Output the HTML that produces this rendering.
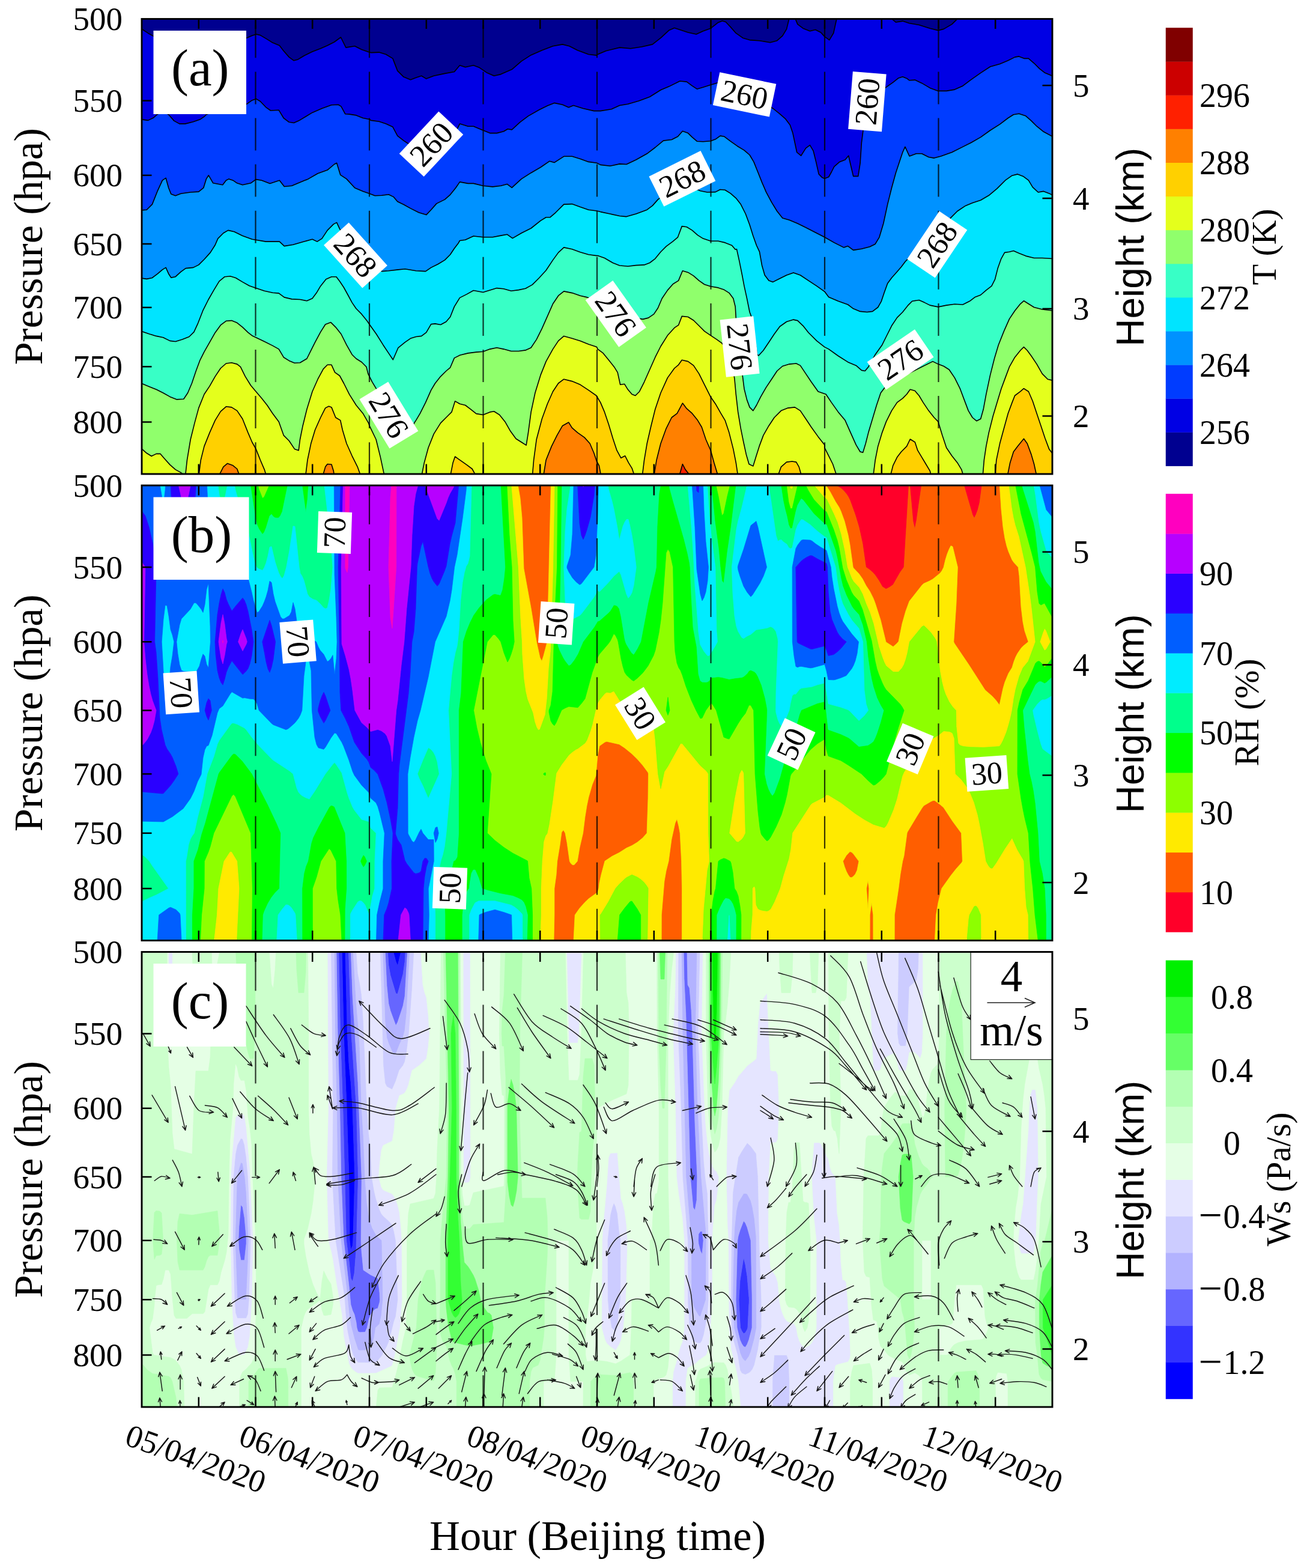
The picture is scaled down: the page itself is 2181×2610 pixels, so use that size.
<!DOCTYPE html>
<html lang="en"><head><meta charset="utf-8"><title>Figure</title>
<style>html,body{margin:0;padding:0;background:#fff}svg{display:block}.s{font-family:"Liberation Serif", serif}.n{font-family:"Liberation Sans", sans-serif}.tk{font-family:"Liberation Serif", serif;font-size:55px}.lb{font-family:"Liberation Serif", serif;font-size:70.5px}</style></head><body>
<svg width="2181" height="2610" viewBox="0 0 2181 2610">
<rect width="2181" height="2610" fill="#fff"/>
<defs>
<clipPath id="cp0"><rect x="236" y="31.5" width="1516" height="757.5"/></clipPath>
<clipPath id="cp1"><rect x="236" y="808" width="1516" height="757.5"/></clipPath>
<clipPath id="cp2"><rect x="236" y="1584.5" width="1516" height="757.5"/></clipPath>
</defs>
<g clip-path="url(#cp0)">
<rect x="236" y="31.5" width="1516" height="757.5" fill="#00e4ff"/>
<rect x="234" y="29.5" width="1520" height="761.5" fill="#000090"/>
<path d="M230 31.5L235.1 31.5L236.3 48.4L246.5 55.2L255.6 60.2L410.6 63.2L419.7 59.3L426.6 57L433.4 58.6L444.8 65.4L453.9 71.1L465.3 75.7L472.2 84.8L481.3 95.1L489.2 100.8L496.1 98.9L506.3 92.8L520 86L533.7 80.7L545.1 75.7L556.5 70L567.4 62L571.3 70L575.9 79.1L590.7 76.8L602.1 82.5L613.5 86.6L617.4 87.6L631.1 87.1L642.5 90.5L653.9 97.4L661.8 117.9L672.1 128.1L683.5 132.7L692.6 129.3L701.7 126.3L709.7 131.1L722.2 126.3L740.5 122.4L756.4 119.5L765.5 108.7L774.7 111.7L788.3 108.7L797.5 112.2L811.1 121.3L822.5 126.3L833.9 123.6L852.2 115.6L868.1 101.9L884.1 91.7L902.3 83.7L920.5 76.8L936.5 73.9L947.9 76.8L961.6 83.7L979.8 90.5L993.5 92.1L995.1 90.5L1008.8 84.8L1031.6 79.1L1049.8 80.7L1068.1 78L1086.3 73.9L1100 63.2L1113.6 50.6L1122.8 46.5L1131.9 49.5L1145.5 54L1159.2 57L1170.6 51.8L1183.2 47.2L1195.7 37.4L1202.5 34.7L1208.2 36.5L1216.2 44.9L1225.3 55.2L1236.7 63.2L1248.1 66.6L1264.1 67.7L1282.3 70.7L1293.7 67.7L1302.8 59.7L1309.6 48.4L1314.2 29.2L1323.3 29.2L1327.9 40.4L1337 47.2L1348.4 51.8L1357.5 49.5L1366.6 54L1372.8 60.9L1380.8 66.6L1387.7 55.2L1393.4 29.2L1482.2 29.2L1491.4 37L1502.8 35.1L1514.1 38.8L1530.1 41.5L1548.3 47.2L1562 50.6L1571.1 48.4L1584.8 40.4L1596.2 29.2L1753.5 29.2L1758 29.2L1758 797L230 797Z" fill="#0000e4" stroke="#000" stroke-width="1.6" stroke-linejoin="round"/>
<path d="M230 198.8L235.1 198.8L246.5 200.4L255.6 196L261.3 190.8L271.6 185.1L280.7 190.8L289.8 201.1L298.9 206.1L308.1 206.1L321.7 202.7L333.1 198.8L340 194.2L343.4 190.8L362.8 182.8L385.5 178.3L410.6 173.3L419.7 166.9L426.6 164.6L433.4 168.7L442.5 178.3L450.5 184L464.2 183.3L472.2 196.5L481.3 203.3L489.2 204.5L497.2 201.1L508.6 194.2L520 187.4L536 180.5L551.9 174.8L563.3 174.2L567.9 177.1L574.7 189.7L581.6 190.1L593 191.9L604.3 196.5L615.7 198.8L617.4 200.4L631.1 202.2L642.5 206.1L653.9 211.3L661.8 226.1L672.1 234.1L678.9 238.7L683.5 239.8L709.7 237.5L740.5 227.3L756.4 223.8L765.5 206.1L779.2 210.2L788.3 210.2L802 215.9L815.7 221.6L827.1 221.6L838.5 218.8L845.3 214.7L852.2 215.9L865.8 203.3L879.5 193.1L897.7 182.8L911.4 176L922.8 171.4L936.5 174.2L946.7 178.7L954.7 175.5L970.7 180.5L988.9 184.6L999.7 184.6L1017.9 181.7L1031.6 175.5L1045.3 173.3L1063.5 168L1081.7 161.2L1100 149.8L1113.6 144.1L1131.9 135L1143.3 136.1L1152.4 142.9L1160.4 148.2L1170.6 145.2L1183.2 141.3L1191.1 139.1L1202.5 135L1213.9 139.5L1236.7 153.2L1259.5 164.6L1286.9 180.5L1298.3 189.7L1307.4 197.6L1315.3 207.9L1319.9 221.6L1323.3 237.5L1326.7 253.5L1333.6 259.2L1341.6 246.6L1348.4 241.6L1354.1 251.2L1358.6 269.4L1363.2 289.9L1368.9 295.6L1372.8 297.2L1379.7 294.5L1384.2 286.5L1388.8 277.4L1397.9 269.4L1407 266L1412.7 259.2L1416.1 274L1420.7 293.4L1428.7 293.4L1432.1 271.7L1434.4 237.5L1436.7 219.3L1441.2 180.5L1457.2 157.8L1475.4 145.2L1486.8 137.2L1495.9 129.9L1502.8 127.7L1509.6 130.4L1514.1 133.8L1523.3 133.1L1534.7 138.4L1548.3 146.4L1562 151.4L1575.7 151.4L1589.4 149.1L1603 142.9L1616.7 132.7L1632.7 121.3L1648.6 111L1664.6 106.5L1678.3 100.8L1689.6 95.1L1696.5 93.9L1705.6 97.4L1712.4 97.4L1721.6 105.3L1730.7 114.4L1739.8 121.3L1753.5 127L1758 127L1758 797L230 797Z" fill="#003cff" stroke="#000" stroke-width="1.6" stroke-linejoin="round"/>
<path d="M230 349.9L235.1 349.9L244.2 349.2L253.4 340.1L262.5 317.3L270.4 300.2L276.1 296.3L280.7 312.7L284.8 323L292.1 325.7L301.2 322.3L317.2 320L330.8 319.1L338.8 312.7L343.4 297.9L347.3 291.8L354.8 304.8L370.7 307.7L376.4 300.2L381 297.9L387.8 300.2L394.7 304.8L403.8 307.7L417.5 304.8L426.1 298.6L435.7 300.2L449.4 305.4L465.3 300.2L473.3 310.5L485.8 309.3L499.5 303.6L513.2 297.9L529.1 288.8L545.1 283.1L556.5 273.5L560.6 271.3L566.7 291.1L577 297.9L590.7 312.7L604.3 318.4L615.1 322.3L624.2 325.7L635.6 325.3L647 323.7L655 327.6L661.8 335.5L672.1 340.5L683.5 346.9L697.2 353.8L709.7 357.6L717.7 349.2L726.8 338.9L740.5 332.1L749.6 324.1L758.7 312.7L765.5 302.9L779.2 305.4L788.3 305.4L804.3 309.3L820.2 310.9L833.9 309.3L844.2 306.4L852.2 312.3L868.1 297.9L884.1 287.7L900 278.5L914.8 268.3L922.8 270.6L938.8 260.3L952.4 260.3L966.1 264.4L979.8 269.4L993.5 271.3L999.7 274.4L1015.6 276.3L1031.6 272.9L1043 273.5L1058.9 266L1077.2 255.8L1090.8 245.5L1104.5 234.1L1118.2 232.5L1128.5 227.3L1136.4 218.2L1145.5 221.6L1152.4 228.4L1160.4 235.2L1170.6 235.7L1183.2 234.8L1191.1 231.8L1199.1 226.1L1205.9 227.3L1216.2 235.2L1227.6 243.2L1239 250.1L1248.1 258L1254.9 269.4L1261.8 286.5L1268.6 303.6L1275.5 319.6L1284.6 336.7L1293.7 351.5L1302.8 362.9L1314.2 366.3L1327.9 372L1341.6 378.8L1355.2 385.7L1372.8 394.8L1372.8 394.8L1388.8 403.9L1404.7 411.9L1411.6 409.6L1420.7 416.4L1434.4 414.2L1448.1 410.7L1457.2 406.2L1464 394.8L1470.8 372L1477.7 340.1L1484.5 312.7L1491.4 287.7L1498.2 267.2L1502.8 253.5L1506.9 244.4L1514.1 259.9L1525.5 255.8L1534.7 255.8L1546.1 261.5L1555.2 263.1L1566.6 259.9L1584.8 253.5L1603 244.4L1616.7 237.5L1632.7 228.4L1648.6 217L1664.6 206.8L1678.3 196.5L1687.4 190.8L1696.5 189.2L1707.9 193.1L1717 201.1L1726.1 210.2L1737.5 219.3L1753.5 228L1758 228L1758 797L230 797Z" fill="#0092ff" stroke="#000" stroke-width="1.6" stroke-linejoin="round"/>
<path d="M230 463L235.1 463L244.2 464.4L253.4 462.5L262.5 455.7L270.4 448.9L276.1 445.4L280.7 455.7L284.8 462.1L292.1 460.7L301.2 452.3L309.2 446.6L321.7 445.4L330.8 440.9L340 431.8L350.2 420.4L358.2 407.8L362.8 397.1L371.9 388L379.8 383.4L390.1 385.7L403.8 392.5L419.7 398.2L442.5 402.1L465.3 402.1L473.3 409.6L488.1 407.3L506.3 402.1L520 398.2L528 402.1L536 397.1L545.1 383.4L555.3 373.1L560.6 370.4L565.6 381.1L574.7 394.8L590.7 413L619.7 444.3L635.6 451.6L647 450.7L663 448.9L674.4 447.7L692.6 450.7L708.6 451.6L717.7 445.4L729.1 439.7L740.5 432.9L749.6 423.8L756.4 413.5L763.3 404.4L765.5 400.5L774.7 399.3L788.3 393L804.3 394.8L820.2 394.8L833.9 392.1L844.2 390.2L853.3 396.6L868.1 388L884.1 380L900 367.4L909.1 361.7L916 361.7L925.1 353.8L938.8 340.1L952.4 339.6L966.1 344.6L979.8 349.2L993.5 351L999.7 352.6L1015.6 356L1031.6 359.5L1043 360.6L1058.9 356L1077.2 349.2L1086.3 342.4L1095.4 332.1L1118.2 315L1136.4 305.9L1152.4 312.7L1162.6 316.2L1166.1 317.8L1177.5 320L1191.1 319.6L1199.1 315.5L1207.1 316.2L1216.2 321.9L1225.3 329.8L1233.3 340.1L1241.3 356L1248.1 374.3L1253.8 392.5L1259.5 408.5L1264.5 419.2L1268.6 442L1273.2 458L1280 467.1L1286.9 469.4L1296 464.8L1309.6 458L1321 453.9L1332.4 458L1346.1 467.1L1359.8 476.2L1372.8 485.3L1379.7 494.4L1395.6 501.3L1411.6 507L1420.7 513.8L1432.1 518.4L1443.5 519.5L1452.6 518.4L1461.7 511.5L1467.4 501.3L1472 487.6L1477.7 471.7L1484.5 462.5L1493.6 452.3L1500.5 444.3L1507.3 435.2L1511.9 430.6L1582.5 362.9L1593.9 351.5L1607.6 342.4L1619 337.8L1632.7 333.3L1646.3 325.3L1660 313.9L1673.7 300.2L1685.1 292.2L1694.2 289.9L1703.3 293.4L1712.4 300.2L1719.3 311.6L1728.4 320L1737.5 318.4L1746.6 321.9L1753.5 325.3L1758 325.3L1758 797L230 797Z" fill="#00e4ff" stroke="#000" stroke-width="1.6" stroke-linejoin="round"/>
<path d="M230 551.4L235.1 551.4L248.8 556L260.2 559.4L271.6 561.7L283 567.4L292.1 568.5L303.5 565.1L314.9 560.5L322.9 552.6L329.7 537.8L337.7 517.2L346.8 499L355.9 483.1L365 468.2L374.1 460.7L383.3 459.8L392.4 462.5L403.8 469.4L415.2 475.8L426.1 479.6L440.2 484.2L453.9 487.2L464.2 488.1L473.3 494.9L485.8 497.9L499.5 498.5L510.9 500.8L520 496.7L526.9 487.6L533.7 476.2L542.8 464.8L551.9 460.7L559.9 460.7L565.6 468.2L572.4 478.5L579.3 491L586.1 503.6L593 513.8L602.1 522.9L611.2 534.3L615.1 540L626.5 556L637.9 574.2L647 587.9L654.3 598.8L663 578.8L674.4 569.7L683.5 563.3L692.6 560.5L701.7 559.4L709.7 553.3L717.7 539.6L724.5 538.9L733.6 540.5L742.8 535.5L749.6 527.5L756.4 510.4L765.5 495.6L776.9 489.9L788.3 483.5L804.3 486.5L815.7 483.1L827.1 479.6L838.5 480.8L851 484.2L863.5 482.6L874.9 480.3L886.3 473.9L897.7 462.5L909.1 450L920.5 432.9L929.6 420.4L938.8 411.9L952.4 414.7L966.1 419.7L979.8 423.8L993.5 425.6L995.1 425.6L1006.5 429.5L1020.2 437.5L1031.6 442L1045.3 443.2L1058.9 441.6L1072.6 440.9L1081.7 437.5L1090.8 430.6L1100 419.2L1109.1 410.1L1118.2 403.3L1120.5 401.6L1128.5 394.8L1135.3 376.6L1143.3 377.7L1152.4 383.4L1161.5 391.4L1170.6 397.1L1183.2 401.2L1195.7 401.2L1207.1 403.9L1218.5 408.5L1224.2 415.3L1226.5 414.7L1231 435.2L1235.6 458L1239 476.2L1243.5 496.7L1248.1 519.5L1251.5 528.6L1256.1 560.5L1260.6 590.2L1262.9 592L1270.9 583.3L1280 569.7L1289.1 556L1298.3 543.5L1309.6 535.5L1321 532.1L1327.9 533.6L1337 542.3L1346.1 553.7L1359.8 567.4L1372.8 577.6L1379.7 581.1L1395.6 592.5L1411.6 602.7L1425.3 608.4L1434.4 616.4L1440.1 617.5L1445.8 610.7L1457.2 590.2L1468.6 574.2L1475.4 560.5L1484.5 542.3L1493.6 528.6L1502.8 519.5L1511.9 508.1L1518.7 501.3L1530.1 499.5L1539.2 503.6L1548.3 508.1L1562 510.9L1575.7 508.1L1589.4 506.3L1603 507L1614.4 501.3L1623.5 494.4L1632.7 491L1641.8 483.1L1650.9 476.2L1656.6 464.8L1661.2 446.6L1666.9 430.6L1672.6 420.4L1680.5 419.2L1687.4 417.4L1696.5 421.5L1707.9 426.1L1721.6 429.5L1735.2 429.5L1753.5 430.6L1758 430.6L1758 797L230 797Z" fill="#38ffc6" stroke="#000" stroke-width="1.6" stroke-linejoin="round"/>
<path d="M230 638L235.1 638L248.8 643.7L260.2 648.3L271.6 654L283 660.4L294.4 664.9L305.8 664.2L312.6 654L319.4 638L326.3 617.5L333.1 599.3L340 585.6L349.1 569.7L358.2 553.7L367.3 541.2L376.4 534.3L385.5 533.6L394.7 537.3L403.8 544.6L412.9 553.3L419.7 558.7L426.1 561.7L440.2 568.5L453.9 575.4L464.2 581.1L472.2 594.7L481.3 600.4L490.4 604.3L499.5 603.8L510.9 597L517.7 583.3L524.6 569.7L533.7 552.6L541.7 540L550.8 536.6L558.8 544.6L567.9 556L577 574.2L586.1 590.2L593 597L602.1 602.7L610 610.7L612.8 622.1L619.7 635.8L626.5 647.2L640.2 669.9L656.1 692.7L672.1 713.3L683.5 716.7L690.3 703L692.6 699.6L699.4 688.2L708.6 669.9L717.7 649.4L724.5 638L733.6 626.6L742.8 617.5L749.6 611.8L756.4 595.9L765.5 591.3L779.2 587.9L792.9 586.1L804.3 585.2L815.7 581.1L827.1 578.8L838.5 581.1L851 584.5L863.5 584.5L874.9 582.9L884.1 578.8L893.2 565.1L902.3 546.9L911.4 526.4L920.5 505.8L929.6 492.2L938.8 484.9L952.4 487.6L966.1 492.2L977.5 494.9L1008.8 503.6L1031.6 517.2L1054.4 528.6L1070.3 531.4L1079.4 529.1L1088.6 522.9L1095.4 512.7L1102.2 496.7L1111.4 483.1L1120.5 472.8L1129.6 467.1L1136.4 450.7L1145.5 453.4L1154.7 459.1L1163.8 467.1L1172.9 473.5L1183.2 476.7L1195.7 478.9L1204.8 481.9L1213.9 487.6L1220.8 496.7L1224.2 510.4L1225.3 528.6L1227.6 560.5L1232.2 594.7L1236.7 628.9L1239 647.2L1243.5 665.4L1248.1 677.9L1253.8 683.6L1259.5 674.5L1266.3 660.8L1275.5 644.9L1284.6 631.2L1293.7 617.5L1302.8 609.5L1314.2 606.1L1325.6 605L1332.4 608.4L1341.6 622.1L1350.7 635.8L1362.1 651.7L1375.1 656.3L1384.2 669.9L1395.6 685.9L1407 699.6L1416.1 720.1L1425.3 740.6L1432.1 752L1436.7 753.1L1441.2 738.3L1445.8 720.1L1452.6 697.3L1459.4 674.5L1466.3 654L1473.1 644.9L1493.6 631.2L1525.5 615.2L1552.9 601.6L1562 606.1L1571.1 609.5L1580.2 615.2L1589.4 628.9L1598.5 647.2L1605.3 665.4L1612.2 683.6L1619 695L1625.8 700.7L1632.7 697.3L1637.2 681.3L1641.8 656.3L1648.6 624.4L1655.5 597L1662.3 574.2L1671.4 551.4L1680.5 530.9L1689.6 517.2L1698.8 505.8L1704.5 500.8L1712.4 505.8L1721.6 511.5L1735.2 515L1753.5 517.2L1758 517.2L1758 797L230 797Z" fill="#90ff6c" stroke="#000" stroke-width="1.6" stroke-linejoin="round"/>
<path d="M230 746.3L235.1 746.3L244.2 754.3L252.2 759.3L260.2 755.4L267 755.4L273.9 763.4L283 773.6L292.1 781.6L301.2 786.6L308.5 793L311.5 765.7L317.2 731.5L324 704.1L330.8 679.1L340 656.3L349.1 642.6L358.2 626.6L367.3 613L376.4 605L385.5 603.8L394.7 606.1L400.4 610.7L408.3 626.6L417.5 641.5L426.1 651.7L435.7 663.1L444.8 674.5L453.9 688.2L464.2 701.9L472.2 724.6L481.3 733.8L490.4 747.4L497.2 749.7L499.5 731.5L504.1 708.7L510.9 681.3L520 651.7L529.1 631.2L538.3 614.1L545.1 607.3L551.9 607.3L557.6 619.8L565.6 625.5L572.4 638L581.6 656.3L593 674.5L604.3 688.2L613.5 704.1L615.1 708.7L626.1 731.5L633.4 761.1L640.2 793L701.7 793L706.3 770.2L713.1 745.2L722.2 722.4L733.6 704.1L745 692.7L751.9 685.9L757.6 667.7L765.5 672.2L774.7 674.5L783.8 681.3L792.9 688.6L804.3 690.5L815.7 685.9L822.5 684.8L831.6 690.5L840.8 701.9L849.9 717.8L859 730.3L868.1 736L876.1 741.1L879.5 720.1L884.1 685.9L890.9 654L900 624.4L909.1 601.6L920.5 581.1L929.6 567.4L938.8 559.4L952.4 563.3L966.1 567.4L979.8 573.1L993.5 577.6L995.1 581.1L1004.2 587.9L1013.4 599.3L1022.5 610.7L1028.2 619.8L1032.7 640.3L1039.6 639.2L1045.3 648.3L1052.1 656.3L1057.8 658.5L1064.6 651.7L1072.6 635.8L1081.7 615.2L1090.8 594.7L1100 576.5L1111.4 558.3L1122.8 545.7L1129.6 541.2L1135.3 526.4L1145.5 527.5L1154.7 533.2L1163.8 542.3L1172.9 551.4L1183.2 558.3L1193.4 565.1L1201.4 570.8L1211.6 583.3L1218.5 601.6L1223 631.2L1225.3 656.3L1228.7 685.9L1233.3 713.3L1237.9 736L1242.4 756.6L1247 772.5L1253.8 775.9L1258.4 761.1L1264.1 742.9L1270.9 724.6L1280 708.7L1289.1 695L1300.5 683.6L1311.9 679.1L1323.3 677.9L1332.4 683.6L1341.6 697.3L1350.7 711L1362.1 726.9L1372.8 740.6L1372.8 745.2L1379.7 758.8L1386.5 772.5L1393.4 793L1453.7 793L1457.2 765.7L1461.7 742.9L1468.6 720.1L1475.4 701.9L1484.5 683.6L1493.6 669.9L1502.8 663.1L1509.6 656.3L1515.3 648.3L1523.3 650.6L1530.1 658.5L1536.9 669.9L1546.1 683.6L1555.2 695L1562 701.9L1568.8 724.6L1575.7 745.2L1584.8 758.8L1593.9 770.2L1600.8 781.6L1604.2 793L1636.1 793L1638.4 765.7L1641.8 742.9L1646.3 720.1L1653.2 692.7L1660 669.9L1666.9 647.2L1673.7 628.9L1680.5 610.7L1689.6 594.7L1698.8 583.3L1704.5 577.6L1710.2 583.3L1717 592.5L1726.1 606.1L1735.2 622.1L1744.3 631.2L1753.5 633.5L1758 633.5L1758 797L230 797Z" fill="#e4ff1c" stroke="#000" stroke-width="1.6" stroke-linejoin="round"/>
<path d="M330.8 793L334.3 765.7L340 742.9L349.1 720.1L358.2 699.6L367.3 684.8L376.4 676.8L385.5 677.9L394.7 683.6L403.8 697.3L412.9 720.1L419.7 736L426.1 747.4L433.4 765.7L440.2 781.6L443.7 793Z" fill="#ffd000" stroke="#000" stroke-width="1.6" stroke-linejoin="round"/>
<path d="M508.6 793L512 765.7L517.7 738.3L524.6 715.5L533.7 695L541.7 679.1L547.4 676.3L551.9 677.9L558.8 695L566.7 699.6L570.2 715.5L577 738.3L586.1 758.8L595.2 777.1L600.9 793Z" fill="#ffd000" stroke="#000" stroke-width="1.6" stroke-linejoin="round"/>
<path d="M749.6 793L754.1 770.2L757.6 760L765.5 765.7L776.9 773.6L786.1 780.5L792.9 793Z" fill="#ffd000" stroke="#000" stroke-width="1.6" stroke-linejoin="round"/>
<path d="M886.3 793L888.6 765.7L893.2 731.5L902.3 697.3L911.4 672.2L920.5 651.7L929.6 638L938.8 631.2L952.4 634.6L966.1 640.3L979.8 649.4L992.8 658.5L999.7 669.9L1006.5 685.9L1013.4 706.4L1020.2 729.2L1027 749.7L1033.9 762.3L1040.7 758.8L1046.4 770.2L1052.1 779.3L1056.7 793Z" fill="#ffd000" stroke="#000" stroke-width="1.6" stroke-linejoin="round"/>
<path d="M1069.2 793L1072.6 765.7L1077.2 738.3L1084 708.7L1090.8 681.3L1100 654L1111.4 628.9L1122.8 613L1129.6 607.3L1135.3 599.3L1145.5 601.6L1154.7 608.4L1163.8 622.1L1172.9 640.3L1183.2 660.8L1191.1 672.2L1200.2 688.2L1207.1 699.6L1213.9 720.1L1220.8 747.4L1225.3 770.2L1228.7 793Z" fill="#ffd000" stroke="#000" stroke-width="1.6" stroke-linejoin="round"/>
<path d="M1294.8 793L1300.5 777.1L1309.6 769.1L1318.8 768L1325.6 769.1L1330.2 777.1L1334.7 793Z" fill="#ffd000" stroke="#000" stroke-width="1.6" stroke-linejoin="round"/>
<path d="M1482.2 793L1486.8 774.8L1493.6 761.1L1500.5 752L1509.6 742.9L1515.3 731L1523.3 736L1527.8 749.7L1534.7 761.1L1541.5 772.5L1548.3 783.9L1550.6 793Z" fill="#ffd000" stroke="#000" stroke-width="1.6" stroke-linejoin="round"/>
<path d="M1656.6 793L1658.9 765.7L1664.6 738.3L1671.4 713.3L1678.3 688.2L1685.1 669.9L1689.6 658.5L1698.8 651.7L1704.5 646.7L1712.4 651.7L1719.3 667.7L1726.1 688.2L1733 708.7L1739.8 729.2L1746.6 747.4L1753.5 756.6L1753.5 793Z" fill="#ffd000" stroke="#000" stroke-width="1.6" stroke-linejoin="round"/>
<path d="M363.9 793L371.9 777.1L378.7 771.4L387.8 774.8L394.7 780.5L399.2 793Z" fill="#ff8000" stroke="#000" stroke-width="1.6" stroke-linejoin="round"/>
<path d="M537.1 793L541.7 777.1L545.1 772.5L551.9 773L555.3 783.9L556.5 793Z" fill="#ff8000" stroke="#000" stroke-width="1.6" stroke-linejoin="round"/>
<path d="M904.6 793L909.1 765.7L918.3 742.9L927.4 724.6L936.5 708.7L946.7 703L952.4 712.1L961.6 720.1L973 728.1L982.1 738.3L988.9 754.3L993.5 768L997.4 774.8L1000.8 793Z" fill="#ff8000" stroke="#000" stroke-width="1.6" stroke-linejoin="round"/>
<path d="M1088.6 793L1093.1 765.7L1100 738.3L1109.1 713.3L1118.2 695L1127.3 688.2L1136.4 671.1L1143.3 680.2L1152.4 688.2L1161.5 699.6L1168.3 711L1175.2 731.5L1183.2 749.7L1188.8 770.2L1195.7 793Z" fill="#ff8000" stroke="#000" stroke-width="1.6" stroke-linejoin="round"/>
<path d="M1677.1 793L1681.7 770.2L1687.4 752L1694.2 742.9L1704.5 730.3L1710.2 738.3L1717 756.6L1721.6 772.5L1726.1 793Z" fill="#ff8000" stroke="#000" stroke-width="1.6" stroke-linejoin="round"/>
<path d="M1130.7 793L1136.4 772.5L1141 781.6L1150.1 793Z" fill="#ff2000" stroke="#000" stroke-width="1.6" stroke-linejoin="round"/>
</g>
<g clip-path="url(#cp1)">
<rect x="236" y="808" width="1516" height="757.5" fill="#00ff8c"/>
<path d="M1391.3 808L1513.2 808L1505 944.1L1499 952.3L1487 973.3L1484 975.7L1478 979.2L1475 980.6L1469 976.7L1463 966.3L1457 957.4L1451 950.9L1441.6 944.1L1436 904.9L1430 877.4L1424 857.6L1415 832.6L1412 826.6L1406 818.2L1400 812.7ZM1514.6 808L1534.4 808L1526 866L1523 880.5L1520 867.8ZM1604.8 808L1634.9 808L1631 836.8L1628 848.7L1625 856.6L1622 862.4L1619 856.7Z" fill="#ff0029" stroke="#ff0029" stroke-width="0.7" fill-rule="evenodd"/>
<path d="M862.3 808L917.3 808L911.1 1068.3L905 1091.4L902 1100.6L899 1094.6L893.2 1068.3L884 1011.9L872 946.3L869 862L866 829.2ZM1373.9 808L1391.3 808L1394 809.2L1400 812.7L1403 815.3L1409 821.9L1412 826.6L1415 832.6L1424 857.6L1430 877.4L1436 904.9L1441.6 944.1L1448 948.5L1454 953.9L1457 957.4L1463 966.3L1469 976.7L1475 980.6L1481 977.6L1487 973.3L1499 952.3L1505 944.1L1513.2 808L1514.6 808L1520 867.8L1523 880.5L1526 866L1534.4 808L1604.8 808L1619 856.7L1622 862.4L1625 856.6L1628 848.7L1631 836.8L1634.9 808L1664.4 808L1667 848.2L1670 877.5L1673 896L1676 908.7L1682 925.7L1685 931.9L1688 936.3L1695.2 944.1L1697 958.7L1700 1010L1703 1035.2L1706 1050.3L1712.1 1068.3L1703 1075.7L1700 1079L1694 1087.7L1691 1093.6L1688 1101.3L1685 1111.2L1679 1120.9L1673 1135.4L1670 1145.7L1664 1173.5L1658 1165.5L1652 1158.9L1640 1148.6L1613 1106.5L1589 1071.1L1587.8 1068.3L1592 1005L1594.4 944.1L1586 909.8L1583 908.6L1580 914.6L1577 922.1L1574 931.8L1571 944.4L1568 950.3L1565 954.2L1553 963.9L1547 967.3L1538 971.3L1535 974.1L1514 1000.7L1508 1017L1502 1038.1L1496 1067.8L1493 1071.3L1487 1076.5L1475 1068.7L1466 1031.8L1457 1003.7L1454 995.9L1448 983.9L1442 975L1436 963.5L1430 955L1421 945.6L1420.2 944.1L1415 906.9L1412 890.8L1406 867.4L1400 851L1397 844.4L1391 835.1L1379 813.6L1376 809.2ZM995 1256.7L998 1241.7L1007 1235.3L1010 1234.2L1031 1238.9L1034 1240.6L1043 1247.2L1052 1254.7L1067 1270.1L1079 1285.9L1079.5 1288.3L1079 1329.1L1077 1386.8L1070 1394.8L1061 1402.1L1052 1407.5L1043 1411.6L1031 1419.2L1019 1425.3L1007 1433.3L1001 1455.8L998 1469.3L996.9 1479L995 1485.2L980 1496L974 1501.7L965 1511.8L957.2 1522.9L955 1565.5L922 1565.5L922.9 1522.9L922.9 1479L926 1456.7L927.7 1433.6L932 1407.5L935 1385.5L938 1381.5L941 1386.7L944 1402.6L948.4 1433.6L950 1436.6L953 1439.6L956 1439.5L961.2 1433.6L965 1410.9L970.6 1386.8L974 1359.5L977 1341.1L980 1326.8L986 1305.9L992 1291.2ZM1124 1370.1L1127 1363.3L1130 1375.1L1132.2 1386.8L1134.6 1433.6L1135.5 1479L1135.4 1565.5L1101.2 1565.5L1101.3 1522.9L1104.6 1479L1106 1466.8L1109 1449.7L1113.1 1433.6L1118 1397.2ZM1510.1 1386.8L1511 1384.5L1526 1359.6L1535 1345L1538 1341.1L1550 1334.1L1553 1332.7L1556 1332.4L1565 1339L1571 1344.2L1586 1367.1L1600.5 1386.8L1602.4 1433.6L1601 1436.1L1592 1446.1L1583 1457.4L1567.7 1479L1562 1502.4L1558.5 1522.9L1556.4 1565.5L1489.2 1565.5L1489.2 1522.9L1495.9 1479L1499 1454.8L1502.7 1433.6L1505 1424.6ZM1403.4 1433.6L1409 1423.9L1415 1417.6L1418 1418.5L1421 1421.6L1429.9 1433.6L1427 1448.5L1424 1455.1L1421 1458.5L1418 1460.7L1415 1460.3L1412 1456L1409 1450.2ZM1442.5 1479L1445 1465.4L1446.9 1479L1445 1513.5ZM1448.2 1522.9L1451 1502.4L1453.8 1522.9L1453.9 1565.5L1448.1 1565.5Z" fill="#ff5e00" stroke="#ff5e00" stroke-width="0.7" fill-rule="evenodd"/>
<path d="M851 808L862.3 808L866 829.2L869 862L872 946.3L884 1011.9L893.2 1068.3L899 1094.6L902 1100.6L905 1091.4L911.1 1068.3L917.3 808L923.8 808L921.5 944.1L917 1084.6L914 1111.8L911 1162.7L908 1189.5L899 1214.3L896 1215.5L893 1210.2L890 1201.3L887 1186.6L878 1163.9L875 1151.1L872 1130L869 1089.1L868.5 1068.3L866 1028.6L862.4 944.1ZM1314.9 808L1320.7 808L1319 813.9L1316 813.3ZM1355.3 808L1373.9 808L1376 809.2L1382 818.4L1391 835.1L1397 844.4L1400 851L1406 867.4L1412 890.8L1415 906.9L1420.2 944.1L1421 945.6L1430 955L1436 963.5L1442 975L1448 983.9L1454 995.9L1457 1003.7L1466 1031.8L1475 1068.7L1487 1076.5L1493 1071.3L1496 1067.8L1502 1038.1L1508 1017L1514 1000.7L1535 974.1L1538 971.3L1547 967.3L1553 963.9L1565 954.2L1568 950.3L1571 944.4L1574 931.8L1577 922.1L1580 914.6L1583 908.6L1586 909.8L1594.4 944.1L1592 1005L1587.8 1068.3L1589 1071.1L1613 1106.5L1640 1148.6L1652 1158.9L1658 1165.5L1664 1173.5L1670 1145.7L1673 1135.4L1679 1120.9L1685 1111.2L1688 1101.3L1691 1093.6L1694 1087.7L1700 1079L1703 1075.7L1712.1 1068.3L1706 1050.3L1703 1035.2L1700 1010L1697 958.7L1695.2 944.1L1688 936.3L1685 931.9L1679 917.9L1676 908.7L1673 896L1670 877.5L1667 848.2L1664.4 808L1680.2 808L1685 845.6L1688 862.1L1691 874.5L1697 893.3L1708.1 944.1L1715 989.4L1718 1012.8L1724 1068.3L1712 1100.7L1703 1111.8L1697 1126.1L1691 1147.6L1688 1162.9L1685 1183L1679 1208.6L1673 1225.9L1667 1238.3L1664 1242.4L1640 1244.2L1610 1243.3L1601 1241.9L1598 1240.6L1595 1237.2L1592 1209.6L1591.5 1182.5L1586 1176.7L1580 1168.1L1574 1155.3L1571 1146.4L1568 1134.6L1565 1118.4L1562 1094.8L1559.4 1068.3L1556 1061.7L1550 1053.3L1544 1046.8L1538 1041.5L1535 1043.1L1514.4 1068.3L1511 1086.4L1508 1098L1505 1106.4L1502 1111.7L1499 1115.6L1496 1118.6L1487 1118.4L1475 1108.3L1472 1102.3L1469 1094.4L1463 1076.4L1454 1037.9L1448 1019.3L1442 1005.4L1436 989.1L1430 977.8L1421 968.2L1418 963.1L1410.5 944.1L1406 916.6L1400 889.2L1394 869.3L1388 855.4L1376 830.6L1373 828.9L1370 825.7ZM1731.1 1068.3L1736 1053.2L1739 1045.7L1742 1049.8L1749.2 1068.3L1742 1080.9L1739 1083ZM991.3 1182.5L995 1170.5L998 1165L1007 1154.2L1010 1152.3L1016 1153.2L1022 1150.2L1031 1164.8L1034 1168.7L1040 1173.4L1052 1177L1073 1179.9L1082 1181.9L1082.6 1182.5L1085 1187.3L1088 1205.9L1091 1231.2L1095.6 1288.3L1100 1312.8L1106 1284.6L1112 1275.5L1133 1237.5L1136 1237.8L1166 1274.2L1175 1282.2L1178 1285.7L1179.3 1288.3L1179.7 1386.8L1181.4 1433.6L1178 1448.7L1172 1513.3L1169.9 1565.5L1135.4 1565.5L1135.5 1479L1134.6 1433.6L1132.2 1386.8L1130 1375.1L1127 1363.3L1124 1370.1L1118 1397.2L1113.1 1433.6L1109 1449.7L1106 1466.8L1101.3 1522.9L1101.2 1565.5L1077.8 1565.5L1079.3 1479L1076 1473.3L1070 1466.4L1061 1460L1052 1456L1043 1460.8L1040 1463.3L1031 1471.8L1025 1478.6L1013 1501.2L1001 1520.8L999.1 1522.9L999.5 1565.5L955 1565.5L957.2 1522.9L965 1511.8L974 1501.7L980 1496L995 1485.2L996.9 1479L998 1469.3L1001 1455.8L1007 1433.3L1019 1425.3L1031 1419.2L1043 1411.6L1052 1407.5L1061 1402.1L1070 1394.8L1077 1386.8L1079 1329.1L1079.5 1288.3L1079 1285.9L1070 1273.8L1061 1263.5L1052 1254.7L1040 1244.9L1031 1238.9L1010 1234.2L1007 1235.3L998 1241.7L995 1256.7L992 1291.2L986 1305.9L980 1326.8L977 1341.1L974 1359.5L970.6 1386.8L965 1410.9L961.2 1433.6L956 1439.5L953 1439.6L950 1436.6L948.4 1433.6L944 1402.6L941 1386.7L938 1381.5L935 1385.5L932 1407.5L927.7 1433.6L926 1456.7L922.9 1479L922.9 1522.9L922 1565.5L898.9 1565.5L900.4 1522.9L900.4 1479L902.3 1433.6L905 1401L908 1391.5L911 1387.2L914 1373L920 1333.5L925.7 1288.3L926 1287L935 1272.6L947 1256.8L953 1251.5L959 1247.3L962 1245.9L974 1236.8L977 1232.1L983 1216.3L986 1206ZM1231 1288.3L1235 1280.8L1238 1285.6L1238.6 1288.3L1241.2 1386.8L1238 1393.3L1235 1397.3L1229 1402L1226 1401.1L1213.9 1386.8L1223 1328.6ZM1505 1285L1520 1262.8L1535 1241.1L1538 1237.8L1559 1225.8L1565 1221.7L1571 1216.7L1580 1217.6L1583 1218.5L1586 1220.5L1589 1229.1L1591 1288.3L1601 1297.9L1610 1309.9L1616 1321.1L1622 1335.8L1628 1356.5L1631 1370.5L1637 1403.1L1641.8 1433.6L1643 1436.3L1646 1441.3L1649 1444.8L1652 1445.3L1658 1436.9L1673 1412.4L1685 1394.7L1694 1414.6L1703 1429.8L1704.8 1433.6L1706.6 1479L1709 1509.9L1712.1 1522.9L1712.5 1565.5L1633.1 1565.5L1632.7 1522.9L1628 1511.7L1625 1508L1622 1508.8L1614.2 1522.9L1613 1530.1L1609.8 1565.5L1556.4 1565.5L1558.5 1522.9L1562 1502.4L1567.7 1479L1583 1457.4L1592 1446.1L1601 1436.1L1602.4 1433.6L1600.5 1386.8L1586 1367.1L1571 1344.2L1565 1339L1556 1332.4L1553 1332.7L1550 1334.1L1538 1341.1L1535 1345L1526 1359.6L1511 1384.5L1510.1 1386.8L1505 1424.6L1502.7 1433.6L1499 1454.8L1495.9 1479L1489.3 1522.9L1489.2 1565.5L1453.9 1565.5L1453.8 1522.9L1451 1502.4L1448.2 1522.9L1448.1 1565.5L1249.7 1565.5L1250 1549.5L1252.2 1522.9L1252.6 1479L1253 1477.8L1256 1475L1257.7 1479L1259 1506L1262 1512.4L1265 1514.3L1271 1515.8L1277 1516.4L1280 1515.3L1283 1512.7L1289 1501.3L1298.3 1479L1304 1457.9L1313 1429.7L1316 1413.9L1319 1386.4L1349 1340.1L1352 1336.9L1373 1326.2L1376 1322.9L1379 1323.2L1400 1335.9L1424 1354.2L1439 1364L1454 1372.2L1472 1377.7L1475 1375L1478 1369.4L1487 1348.3L1493 1329.9L1502 1291.8ZM1403.4 1433.6L1406 1442.4L1409 1450.2L1412 1456L1415 1460.3L1418 1460.7L1421 1458.5L1424 1455.1L1427 1448.5L1429.9 1433.6L1421 1421.6L1418 1418.5L1415 1417.6L1409 1423.9ZM1445 1465.4L1442.5 1479L1445 1513.5L1446.9 1479ZM372.3 1433.6L383 1417.2L386 1417.9L395.4 1433.6L398.8 1479L394.6 1565.5L355.9 1565.5L360.6 1522.9L363 1479Z" fill="#ffea00" stroke="#ffea00" stroke-width="0.7" fill-rule="evenodd"/>
<path d="M429.3 808L448.4 808L440 826.9L437 829.5L431 814.3ZM843.9 808L851 808L862.4 944.1L866 1028.6L868.5 1068.3L869 1089.1L872 1130L875 1151.1L878 1163.9L887 1186.6L890 1201.3L893 1210.2L896 1215.5L899 1214.3L908 1189.5L911 1162.7L914 1111.8L917 1084.6L917.8 1068.3L921.5 944.1L923.8 808L928.7 808L927.5 944.1L923 1039.3L920 1151.2L917 1173.9L914 1182.5L914 1185.6L917 1199.9L920 1205.1L923 1207.8L926 1202.8L935 1182L941 1178.6L947 1176.1L962 1177.7L968 1171L974 1163.1L986 1119.3L995 1094.2L998 1088.8L1013 1071.3L1016 1067L1022 1054.8L1025 1058.3L1028 1064.3L1029.2 1068.3L1034 1096.3L1037 1109.3L1040 1119.1L1043 1123.6L1052 1132L1055 1133.5L1064 1126.3L1070 1120.2L1076 1112.9L1082 1103L1088 1091.3L1091 1082.5L1097 1053.2L1100 1032.9L1103 1004L1109 920.3L1112 914.1L1115 918.6L1120.6 944.1L1123 1068.3L1124 1085.1L1127 1103.4L1130 1111.4L1133 1116L1136 1123.7L1142 1142.4L1151 1165.6L1158.9 1182.5L1166 1195.9L1169 1195.2L1175.1 1182.5L1184 1170.3L1187 1173.4L1192.5 1182.5L1205 1227.1L1211 1229.5L1214 1230.1L1229 1204.2L1235 1194.9L1241 1187.4L1247 1173.8L1250 1174.1L1254.7 1182.5L1257.1 1288.3L1262 1350.7L1265 1377.1L1266.9 1386.8L1268 1389.6L1271 1393.7L1277 1399.8L1280 1397.7L1286 1388.3L1295 1370L1301 1355.9L1307 1336.1L1310 1323.7L1316 1291.5L1317.4 1288.3L1325 1279.7L1334 1266.4L1352 1245.1L1361 1237.8L1373 1230.3L1376 1248.1L1379 1258.5L1400 1266.1L1409 1271.5L1434.4 1288.3L1445 1299L1454 1307L1457 1306.3L1466 1298.9L1475 1288.8L1490 1230.3L1496 1210L1505.1 1182.5L1502 1176.8L1499 1172.5L1475 1147.8L1472 1143.1L1469 1136.9L1463 1122.3L1460 1113.4L1457 1100.4L1451 1066.3L1436 1014.7L1430 1000.6L1421 990.8L1418 986.1L1409 965.1L1403 946L1397 911.8L1394 899.4L1388 881.6L1376 852L1373 850.4L1370 847.5L1355 831.5L1346 816.9L1341.4 808L1355.3 808L1370 825.7L1373 828.9L1376 830.6L1388 855.4L1394 869.3L1400 889.2L1406 916.6L1410.5 944.1L1418 963.1L1421 968.2L1430 977.8L1436 989.1L1442 1005.4L1448 1019.3L1454 1037.9L1463 1076.4L1469 1094.4L1472 1102.3L1475 1108.3L1487 1118.4L1496 1118.6L1502 1111.7L1505 1106.4L1508 1098L1511 1086.4L1514.4 1068.3L1535 1043.1L1538 1041.5L1541 1044L1550 1053.3L1556 1061.7L1559 1066.9L1565 1118.4L1568 1134.6L1571 1146.4L1574 1155.3L1580 1168.1L1586 1176.7L1591.5 1182.5L1592 1209.6L1595 1237.2L1598 1240.6L1604 1242.6L1616 1243.7L1637 1244.2L1664 1242.4L1667 1238.3L1670 1232.6L1676 1218L1682 1197.2L1685 1183L1688 1162.9L1691 1147.6L1697 1126.1L1703 1111.8L1712 1100.7L1724 1068.3L1718 1012.8L1715 989.4L1708.1 944.1L1697 893.3L1691 874.5L1688 862.1L1685 845.6L1680.2 808L1690.8 808L1700 855.2L1718 921.4L1723.6 944.1L1727 985.3L1730 1004.6L1733 1007.1L1739 1004L1752 1027.6L1752 1095.3L1742 1108.5L1739 1110.4L1733 1102.8L1730 1100.6L1727 1101.3L1724 1104.1L1712 1132.9L1703 1147.8L1697 1169.3L1694.2 1182.5L1694 1288.3L1700 1329.7L1703 1346.6L1706 1361.2L1712.2 1386.8L1715 1435.7L1719.7 1479L1723.1 1522.9L1728.3 1565.5L1712.5 1565.5L1712.1 1522.9L1709 1509.9L1706.6 1479L1704.8 1433.6L1703 1429.8L1694 1414.6L1685 1394.7L1673 1412.4L1658 1436.9L1652 1445.3L1649 1444.8L1646 1441.3L1641.8 1433.6L1637 1403.1L1631 1370.5L1628 1356.5L1622 1335.8L1616 1321.1L1610 1309.9L1601 1297.9L1591 1288.3L1589 1229.1L1586 1220.5L1583 1218.5L1580 1217.6L1571 1216.7L1565 1221.7L1559 1225.8L1538 1237.8L1535 1241.1L1505 1285L1502 1291.8L1493 1329.9L1487 1348.3L1478 1369.4L1475 1375L1472 1377.7L1454 1372.2L1439 1364L1424 1354.2L1400 1335.9L1379 1323.2L1376 1322.9L1373 1326.2L1352 1336.9L1349 1340.1L1319 1386.4L1316 1413.9L1313 1429.7L1304 1457.9L1298.3 1479L1289 1501.3L1283 1512.7L1280 1515.3L1277 1516.4L1271 1515.8L1265 1514.3L1262 1512.4L1259 1506L1257.7 1479L1256 1475L1253 1477.8L1252.6 1479L1252.2 1522.9L1250 1549.5L1249.7 1565.5L1233.8 1565.5L1233.9 1522.9L1232 1508.3L1229 1491.6L1226 1483.6L1223 1479L1220 1451.5L1217 1436.5L1215.7 1433.6L1208 1429.6L1205 1428.7L1199 1431.3L1196 1433.4L1191.5 1479L1190 1483.4L1187 1499.4L1184.2 1522.9L1184.2 1565.5L1169.9 1565.5L1172 1513.3L1178 1448.7L1181.4 1433.6L1179.7 1386.8L1179.3 1288.3L1178 1285.7L1175 1282.2L1166 1274.2L1136 1237.8L1133 1237.5L1112 1275.5L1106 1284.6L1100 1312.8L1095.6 1288.3L1091 1231.2L1088 1205.9L1085 1187.3L1082 1181.9L1070 1179.4L1055 1177.6L1040 1173.4L1034 1168.7L1031 1164.8L1022 1150.2L1016 1153.2L1010 1152.3L1007 1154.2L998 1165L995 1170.5L992 1179.9L986 1206L983 1216.3L977 1232.1L974 1236.8L962 1245.9L959 1247.3L953 1251.5L947 1256.8L935 1272.6L926 1287L920 1333.5L914 1373L911 1387.2L908 1391.5L905 1401L902.3 1433.6L900.4 1479L900.4 1522.9L898.9 1565.5L886.5 1565.5L886.6 1522.9L884.8 1479L881 1461.6L878.5 1433.6L878 1432.8L854 1420.3L839 1410.6L824 1398.9L811.3 1386.8L818 1288.3L809 1266L800 1236.9L794 1211.9L788.6 1182.5L811.3 1068.3L821 1056.6L824 1056.4L830 1063.2L833.7 1068.3L839 1086.6L845 1101.9L848 1096.5L851 1088.5L854 1078.8L856.2 1068.3L854 1033L852.1 944.1L848 890.4ZM905 1287.5L905 1289.3L908 1290.8L908.5 1288.3L908 1285.9ZM1112 1160.6L1109.1 1182.5L1112 1190.5L1114.9 1182.5ZM1231 1288.3L1223 1328.6L1213.9 1386.8L1226 1401.1L1229 1402L1235 1397.3L1238 1393.3L1241.2 1386.8L1238.6 1288.3L1238 1285.6L1235 1280.8ZM1731.1 1068.3L1739 1083L1742 1080.9L1749.2 1068.3L1742 1049.8L1739 1045.7L1736 1053.2ZM1192 808L1215.4 808L1211 825.7L1205 854.5L1202 858.4L1196 826.1ZM1309.4 808L1314.9 808L1316 813.3L1319 813.9L1320.7 808L1328 808L1319 846.6L1316 846.6L1313 835.8ZM356 1386.8L386 1324.8L389 1322.3L392 1325.9L417.5 1386.8L420.3 1479L419.5 1565.5L394.6 1565.5L398.8 1479L398 1467.3L395.4 1433.6L386 1417.9L383 1417.2L372.3 1433.6L363 1479L360.6 1522.9L355.9 1565.5L333.5 1565.5L335.6 1522.9L340.1 1479L340.3 1433.6L347 1417.9L350 1409.2ZM534.2 1433.6L548 1412.5L551 1415.5L559.8 1433.6L560.7 1479L563 1498.7L566.8 1522.9L569 1565.5L520.4 1565.5L520.3 1479L527 1459.8ZM1024.8 1479L1031 1471.8L1040 1463.3L1043 1460.8L1052 1456L1061 1460L1067 1463.9L1073 1469.5L1079 1478.1L1077.8 1565.5L1066.7 1565.5L1066.7 1522.9L1061 1513L1052 1500L1049 1500.7L1040 1511.6L1031.6 1522.9L1028.2 1565.5L999.5 1565.5L999.1 1522.9L1001 1520.8L1013 1501.2ZM1614.2 1522.9L1622 1508.8L1625 1508L1628 1511.7L1632.7 1522.9L1633.1 1565.5L1609.8 1565.5L1613 1530.1Z" fill="#8dff00" stroke="#8dff00" stroke-width="0.7" fill-rule="evenodd"/>
<path d="M416.8 808L429.3 808L431 814.3L437 829.5L440 826.9L448.4 808L479 808L470 851.6L467 858.2L464 862L461 862.2L458 861.9L455 859.9L452 856.1L449 858.8L443 878.5L440 885.8L437 889.5L431 880.5L428 873.9L425 860.6ZM502.9 808L513.6 808L512 831.4L509 852.7ZM833.3 808L843.9 808L848 890.4L852.1 944.1L854 1033L856.2 1068.3L854 1078.8L851 1088.5L848 1096.5L845 1101.9L839 1086.6L833.7 1068.3L830 1063.2L824 1056.4L821 1056.6L811.3 1068.3L788.6 1182.5L794 1211.9L800 1236.9L809 1266L818 1288.3L811.3 1386.8L824 1398.9L839 1410.6L854 1420.3L878 1432.8L878.5 1433.6L881 1461.6L884.8 1479L886.6 1522.9L886.5 1565.5L877.4 1565.5L878.4 1522.9L875 1509L872 1502.1L869 1498.6L866 1496.8L854 1491.4L833 1487.5L812 1482.2L802.2 1479L797 1461.7L794 1454.2L791 1448L788 1448L785 1453.5L782 1471.3L781.2 1479L779 1481.5L776 1486.5L773 1496.3L770 1522.9L770 1565.5L740.9 1565.5L740.9 1522.9L739.1 1479L746 1467.3L749 1459.4L755 1433.3L758 1431.7L761 1426.4L763.6 1386.8L763.5 1182.5L767 1154.3L770.5 1068.3L776 1050.8L782 1036.3L788 1024.3L794 1015.6L806 1001.1L812 995.6L821 989.2L824 988.5L833 990.4L836 982.1L839 962.8L840.8 944.1ZM928.7 808L935.7 808L933.9 944.1L932 1031.5L928.5 1068.3L929 1074.4L932 1082.7L938 1094.8L941 1099.7L947 1107.6L950 1106.3L956 1098.6L962 1088.6L970.7 1068.3L989 1044.1L995 1034.1L998 1033.2L1013 1019.9L1016 1016.7L1022 1006.9L1025 1007.4L1028 1009.1L1031 1013.2L1034 1026L1040 1062.9L1041.3 1068.3L1043 1072.6L1052 1086.9L1055 1089.3L1058 1084.7L1066.7 1068.3L1079 1003.5L1091 952.2L1092.5 944.1L1094 876.7L1097 822L1099.6 808L1114.4 808L1115 812.8L1121 834.9L1139 897.7L1145 921.9L1148 936.6L1149 944.1L1151 992.6L1154 1044.6L1160 1076.8L1163 1122.2L1166 1133L1169 1135.2L1175 1135.5L1178 1135L1181 1132.8L1184 1128.1L1193 1126.9L1196 1126.7L1202 1127.6L1214 1130.6L1223 1128.9L1235 1127.6L1238 1126.3L1241 1123.7L1244 1120.9L1247 1116.4L1250 1115.4L1256 1118.1L1259 1121L1262 1126.2L1268 1140.6L1274 1162.3L1277 1178L1277.5 1182.5L1277 1199.7L1273.4 1288.3L1277 1305.2L1280 1314L1283 1319.9L1286 1324.2L1289 1320L1298 1295.8L1310 1252.3L1316 1233.5L1325 1210.7L1331 1189L1334 1181.8L1361 1170.6L1373 1167.8L1375.5 1182.5L1379 1214.4L1400 1221.9L1412 1227.6L1415 1229.6L1430 1242.6L1445 1240.4L1448 1238.8L1454 1233.9L1457 1228.1L1463 1211.8L1471.1 1182.5L1466 1174L1460 1161.7L1454 1143.2L1451 1130.6L1448 1114.5L1445 1093.6L1442.5 1068.3L1436 1040.2L1430 1023.3L1421 1013.4L1418 1009.1L1409 990.9L1403 975.5L1400 962.6L1394 929.5L1391 916.6L1376 873.5L1373 871.9L1370 869.4L1355 855.4L1337 832.2L1334 830.2L1328 840.9L1325 851.6L1319 879.2L1316 879.9L1313 873.6L1304 833.8L1300.1 808L1309.4 808L1313 835.8L1316 846.6L1319 846.6L1328 808L1341.4 808L1346 816.9L1355 831.5L1370 847.5L1373 850.4L1376 852L1388 881.6L1394 899.4L1397 911.8L1403 946L1409 965.1L1418 986.1L1421 990.8L1430 1000.6L1436 1014.7L1451 1066.3L1457 1100.4L1460 1113.4L1463 1122.3L1469 1136.9L1472 1143.1L1475 1147.8L1499 1172.5L1502 1176.8L1505.1 1182.5L1496 1210L1490 1230.3L1475.2 1288.3L1472 1292.6L1466 1298.9L1460 1304.1L1457 1306.3L1454 1307L1445 1299L1434.4 1288.3L1412 1273.4L1400 1266.1L1379 1258.5L1376 1248.1L1373 1230.3L1361 1237.8L1349 1248.1L1334 1266.4L1325 1279.7L1317.4 1288.3L1316 1291.5L1310 1323.7L1307 1336.1L1301 1355.9L1292 1376.5L1283 1393.5L1280 1397.7L1277 1399.8L1274 1397L1268 1389.6L1266.9 1386.8L1265 1377.1L1262 1350.7L1257.1 1288.3L1254.7 1182.5L1250 1174.1L1247 1173.8L1241 1187.4L1235 1194.9L1229 1204.2L1214 1230.1L1211 1229.5L1205 1227.1L1192.5 1182.5L1187 1173.4L1184 1170.3L1175.1 1182.5L1169 1195.2L1166 1195.9L1158.9 1182.5L1151 1165.6L1142 1142.4L1136 1123.7L1133 1116L1130 1111.4L1127 1103.4L1124 1085.1L1123 1068.3L1120.6 944.1L1115 918.6L1112 914.1L1109 920.3L1103 1004L1100 1032.9L1097 1053.2L1091 1082.5L1088 1091.3L1079 1108.3L1070 1120.2L1061 1128.9L1055 1133.5L1052 1132L1046 1126.6L1043 1123.6L1040 1119.1L1037 1109.3L1034 1096.3L1029.2 1068.3L1028 1064.3L1025 1058.3L1022 1054.8L1016 1067L1013 1071.3L998 1088.8L995 1094.2L986 1119.3L974 1163.1L968 1171L962 1177.7L947 1176.1L941 1178.6L935 1182L926 1202.8L923 1207.8L920 1205.1L917 1199.9L914 1185.6L914 1182.5L917 1173.9L920 1151.2L923 1039.3L927.5 944.1ZM1184.3 808L1192 808L1196 826.1L1202 858.4L1205 854.5L1211 825.7L1215.4 808L1225.6 808L1217 878.2L1211 918.8L1205 970.7L1202 967.1L1199 942.7L1196 911L1190 866.7ZM1690.8 808L1701.5 808L1721 869.6L1724 884.9L1730 937.5L1733 950.9L1742 968.3L1752 980.5L1752 1027.6L1739 1004L1733 1007.1L1730 1004.6L1727 985.3L1723.6 944.1L1718 921.4L1700 855.2ZM1109.1 1182.5L1112 1160.6L1114.9 1182.5L1112 1190.5ZM1694.2 1182.5L1697 1169.3L1703 1147.8L1712 1132.9L1724 1104.1L1727 1101.3L1730 1100.6L1733 1102.8L1739 1110.4L1742 1108.5L1752 1095.3L1752 1126.7L1742 1136.2L1739 1137.7L1733 1134.5L1730 1134.7L1727 1136.8L1724 1140.1L1703.5 1182.5L1706 1212.5L1712 1267.6L1714.8 1288.3L1718 1301L1721 1316.3L1724 1337.2L1728.8 1386.8L1731.2 1433.6L1736 1453.2L1740.1 1479L1742.1 1522.9L1742.2 1565.5L1728.3 1565.5L1723.1 1522.9L1719.7 1479L1715 1435.7L1712.2 1386.8L1706 1361.2L1703 1346.6L1700 1329.7L1694 1288.3ZM363.3 1288.3L365 1285.3L386 1256.8L389 1254.3L392 1255.1L395 1257.8L407 1270.6L419.9 1288.3L446 1339.3L461 1370.9L467.6 1386.8L465.3 1479L458 1486.3L452 1494L446 1504L440 1517.3L438.2 1522.9L436.9 1565.5L419.5 1565.5L420.3 1479L417.5 1386.8L392 1325.9L389 1322.3L386 1324.8L356 1386.7L350 1409.2L347 1417.9L340.3 1433.6L340.1 1479L335.6 1522.9L333.5 1565.5L319.6 1565.5L319.6 1522.9L322.1 1479L322.1 1433.6L329 1414.2L335 1389L341 1370.6ZM905 1287.5L908 1285.9L908.5 1288.3L908 1290.8L905 1289.3ZM524.4 1386.8L548 1343.4L551 1340.6L554 1341.1L557 1342.9L574.8 1386.8L575 1389.2L577.4 1433.6L577.5 1479L575 1513.2L574.8 1565.5L569 1565.5L566.8 1522.9L563 1498.7L560.7 1479L559.8 1433.6L551 1415.5L548 1412.5L534.2 1433.6L527 1459.8L520.3 1479L520.4 1565.5L503 1565.5L502.8 1479L506 1453.7L509 1442.2L512.6 1433.6L518 1403.8L521 1394.3ZM599.9 1433.6L602 1428.3L605 1422.7L608 1426.3L611.2 1433.6L608 1440.3L605 1443.9L602 1438.8ZM1196 1433.6L1199 1431.3L1205 1428.7L1208 1429.6L1215.7 1433.6L1217 1436.5L1220 1451.5L1223 1479L1226 1483.6L1229 1491.6L1232 1508.3L1233.9 1522.9L1233.8 1565.5L1225.2 1565.5L1225.3 1522.9L1223 1513.5L1220 1504.8L1217 1499.7L1214 1496.5L1208 1495.3L1205 1498.8L1202 1504.4L1196 1516.9L1193.8 1522.9L1193.7 1565.5L1184.2 1565.5L1184.2 1522.9L1187 1499.4L1190 1483.4L1191.5 1479ZM1031.6 1522.9L1040 1511.6L1049 1500.7L1052 1500L1061 1513L1066.7 1522.9L1066.7 1565.5L1028.2 1565.5Z" fill="#00ff00" stroke="#00ff00" stroke-width="0.7" fill-rule="evenodd"/>
<path d="M362.8 808L378.7 808L374 830.5L371 842L368 835.7L365 823.2ZM390.4 808L416.8 808L425 860.6L428 873.9L431 880.5L437 889.5L440 885.8L443 878.5L449 858.8L452 856.1L455 859.9L458 861.9L461 862.2L464 862L467 858.2L470 851.6L479 808L502.9 808L509 852.7L512 831.4L513.6 808L540.1 808L551 903.2L554 941.2L554 946.8L551 979.9L548 999L545 1011.9L542 1013.3L539 1011.8L533 1005L527 999.4L521 997.4L515 993.6L512 988.9L506 966.2L503 959.1L500 954.4L498.1 944.1L491 876.3L488 875.7L482 916L476.8 944.1L473 958.1L470 963L467 959.4L464 953.4L460.8 944.1L458 935.2L452 909.7L449 910.7L446 925.7L443 937L440 944.7L437 949.5L428 945.2L425 940L422 927.8L410 869.2L407 859.7L401 845.7L398 837.2L392 816.1ZM776 942.7L779 938.1L782 925.6L785 808L833.3 808L840.8 944.1L839 962.8L836 982.1L833 990.4L824 988.5L821 989.2L809 998.2L797 1011.7L788 1024.3L782 1036.3L776 1050.8L770.5 1068.3L767 1154.3L763.5 1182.5L763.6 1386.8L761 1426.4L758 1431.7L755 1433.3L749 1459.4L746 1467.3L739.1 1479L740.9 1522.9L740.9 1565.5L724.6 1565.5L724.7 1522.9L722.4 1479L728 1459.8L734 1432.6L737 1423.2L740 1409.9L742.9 1386.8L751.7 1288.3L746.6 1182.5L752 1123.5L755 1102L758 1086.6L761 1075.2L762 1068.3L764 1049L767 998.1L770 969.7L773 953.7ZM933.9 944.1L935.7 808L950.1 808L944 847.5L941 883.9L938.8 944.1L941 999.9L944 1026.6L947 1033.5L950 1033.6L956 1029.1L965 1024.6L968 1021.7L989 994L995 982.4L998 985.1L1013 969.6L1022 958.9L1031 951.1L1034 957.1L1043 988.9L1046 995.4L1049 991.9L1052 986.5L1055 974.8L1059.2 944.1L1055 909.5L1052 890.8L1046 864.5L1043 864.6L1040 869.3L1037 876.2L1031 899.3L1028 879.1L1022 847.3L1019 834.6L1013 813.7L1012.3 808L1099.6 808L1097 822L1094 876.7L1092.5 944.1L1091 952.2L1079 1003.5L1066.7 1068.3L1061 1079.7L1055 1089.3L1052 1086.9L1049 1082.5L1043 1072.6L1041.3 1068.3L1040 1062.9L1034 1026L1031 1013.2L1028 1009.1L1025 1007.4L1022 1006.9L1016 1016.7L1013 1019.9L998 1033.2L995 1034.1L989 1044.1L970.7 1068.3L962 1088.6L956 1098.6L950 1106.3L947 1107.6L941 1099.7L938 1094.8L932 1082.7L929 1074.4L928.5 1068.3L932 1031.5ZM1114.4 808L1145.1 808L1151 874.2L1154 916.4L1157 974.6L1163 1052.4L1166 1073.3L1172 1084.1L1178 1091.5L1181 1091.1L1190 1076.6L1194.4 1068.3L1193 1051.5L1190.9 944.1L1184 890.3L1181 858.1L1177.5 808L1184.3 808L1190 866.7L1196 911L1199 942.7L1202 967.1L1205 970.7L1211 918.8L1217 878.2L1225.6 808L1243.7 808L1235 844.9L1229 866.8L1226 881.3L1218.4 944.1L1220 987.8L1223 1025.5L1226 1042.6L1229 1051.1L1235 1061.2L1238 1062.7L1244 1058.8L1250 1056L1259 1048.3L1277 1045.3L1283 1042.9L1286 1044.5L1289 1047L1292 1051.4L1295 1063.3L1295.4 1068.3L1292 1152.6L1291.7 1182.5L1292 1185.9L1295 1197.6L1298 1204.4L1301 1208.6L1304 1206.6L1313.9 1182.5L1316 1170.5L1319 1158L1322 1155.3L1325 1155.3L1331 1147.5L1334 1145.6L1352 1143L1361 1139.8L1373 1136.9L1376 1151.4L1379 1171.5L1400 1177.2L1412 1181.6L1415 1183.8L1430 1199.5L1439 1191.1L1445.5 1182.5L1442 1172.1L1439 1149.2L1436.6 1068.3L1436 1065.8L1430 1046.1L1418 1032.1L1412 1022.2L1403 1004.9L1400 995.4L1397 982.8L1394 966.2L1391 943.8L1376 894.9L1373 893.4L1361 884.3L1349 873.4L1337 865.3L1334 864.8L1328 874.1L1325 882.2L1319 911.9L1316 913.3L1313 911.4L1310 906L1304 901.8L1301 898.5L1298 898.9L1295 900.8L1292 891.4L1280 808L1300.1 808L1304 833.8L1307 847.8L1310 858.8L1313 873.6L1316 879.9L1319 879.2L1325 851.6L1328 840.9L1334 830.2L1337 832.2L1355 855.4L1370 869.4L1373 871.9L1376 873.5L1391 916.6L1394 929.5L1400 962.6L1403 975.5L1409 990.9L1418 1009.1L1421 1013.4L1430 1023.3L1436 1040.2L1442.5 1068.3L1445 1093.6L1448 1114.5L1451 1130.6L1454 1143.2L1460 1161.7L1466 1174L1471.1 1182.5L1466 1201.9L1460 1220.4L1457 1228.1L1454 1233.9L1451 1236.6L1445 1240.4L1430 1242.6L1415 1229.6L1412 1227.6L1400 1221.9L1379 1214.4L1375.5 1182.5L1373 1167.8L1361 1170.6L1334 1181.8L1331 1189L1325 1210.7L1316 1233.5L1310 1252.3L1298 1295.8L1289 1320L1286 1324.2L1283 1319.9L1280 1314L1277 1305.2L1273.4 1288.3L1277 1199.7L1277.5 1182.5L1277 1178L1274 1162.3L1268 1140.6L1262 1126.2L1259 1121L1256 1118.1L1250 1115.4L1247 1116.4L1244 1120.9L1241 1123.7L1238 1126.3L1235 1127.6L1223 1128.9L1214 1130.6L1202 1127.6L1196 1126.7L1193 1126.9L1184 1128.1L1181 1132.8L1178 1135L1175 1135.5L1169 1135.2L1166 1133L1163 1122.2L1160 1076.8L1154 1044.6L1151 992.6L1149 944.1L1148 936.6L1145 921.9L1139 897.7L1121 834.9L1115 812.8ZM1701.5 808L1721.3 808L1724 824.3L1730 870.2L1733 884.4L1742 916.6L1752 928.7L1752 980.5L1742 968.3L1733 950.9L1730 937.5L1724 884.9L1721 869.6ZM1703.5 1182.5L1724 1140.1L1727 1136.8L1730 1134.7L1733 1134.5L1739 1137.7L1742 1136.2L1752 1126.7L1752 1158L1742 1163.9L1739 1165L1736 1164.8L1733 1166.2L1727 1172.2L1719.7 1182.5L1721 1190.3L1727 1215.5L1733 1238.2L1736 1246.6L1752 1258.5L1752 1565.5L1742.2 1565.5L1742.1 1522.9L1740.1 1479L1736 1453.2L1731.2 1433.6L1728.8 1386.8L1724 1337.2L1721 1316.3L1718 1301L1714.8 1288.3L1712 1267.6L1706 1212.5ZM344.9 1288.3L356 1259.2L362 1238.4L365 1232.3L386 1203.8L389 1203.6L392 1204.3L407 1211.7L410 1214.7L419 1226.9L431 1241.2L452 1262.8L455 1265.5L482 1283.2L488 1288.2L494 1311.5L497 1318.5L500 1322L503 1324.5L512 1329L515 1330L518 1326.2L541.6 1288.3L554 1272.2L557 1269.3L560 1272.9L569.8 1288.3L578 1319.5L581 1328.5L587 1343.3L590 1348.4L602 1363.9L614 1367.5L617 1377.9L626.2 1386.8L624 1433.6L623.8 1479L620 1491.8L617 1508.5L614 1521.5L608 1506.8L605 1502.8L602 1500.1L599 1499.4L596 1501L587 1514.7L584 1520.3L583.4 1522.9L583.4 1565.5L574.8 1565.5L575 1513.2L577.5 1479L577.4 1433.6L574.8 1386.8L557 1342.9L554 1341.1L551 1340.6L548 1343.4L530 1376.3L521 1394.3L518 1403.8L512.6 1433.6L509 1442.2L506 1453.7L502.8 1479L503 1565.5L494.3 1565.5L491.9 1522.9L491 1520L485 1510.8L482 1507.7L479 1506.2L476 1506.1L470 1513.2L463.1 1522.9L460.8 1565.5L436.9 1565.5L438.2 1522.9L440 1517.3L446 1504L452 1494L458 1486.3L465.3 1479L467.6 1386.8L461 1370.9L446 1339.3L419.9 1288.3L404 1267.1L392 1255.1L389 1254.3L386 1256.8L383 1260.7L365 1285.3L363.3 1288.3L341 1370.6L335 1389L329 1414.2L322.1 1433.6L322.1 1479L319.6 1522.9L319.6 1565.5L309.5 1565.5L309.3 1433.6L311 1425.6L314 1405.8L317 1396.6L320 1391.2L323.3 1386.8L329 1360.6L338 1326.6ZM602 1428.3L599.9 1433.6L602 1438.8L605 1443.9L608 1440.3L611.2 1433.6L608 1426.3L605 1422.7ZM695 1288.3L704 1265.3L713 1244.5L716 1246.2L719 1248.9L722 1252.7L725 1258.6L728 1267.9L731.3 1288.3L713 1329.1ZM236 1421.9L242 1426.5L248.8 1433.6L254 1441.7L280.6 1479L260 1489.8L248 1494.9L236 1500.9ZM781.2 1479L782 1471.3L785 1453.5L788 1448L791 1448L797 1461.7L802.2 1479L812 1482.2L833 1487.5L854 1491.4L863 1495.2L869 1498.6L872 1502.1L875 1509L878.4 1522.9L877.4 1565.5L869.8 1565.5L869.8 1522.9L869 1521.2L860 1512.3L854 1508L851 1506.5L824 1499.7L797 1499.7L791 1502.8L785 1514.2L781.6 1522.9L781.6 1565.5L770 1565.5L770 1522.9L773 1496.3L776 1486.5L779 1481.5ZM1193.8 1522.9L1199 1510.4L1205 1498.8L1208 1495.3L1214 1496.5L1217 1499.7L1220 1504.8L1223 1513.5L1225.3 1522.9L1225.2 1565.5L1216.1 1565.5L1214 1523.6L1211.5 1565.5L1193.7 1565.5Z" fill="#00ff8c" stroke="#00ff8c" stroke-width="0.7" fill-rule="evenodd"/>
<path d="M266.3 808L275.5 808L275 816.2L272 841.4ZM344.5 808L362.8 808L365 823.2L368 835.7L371 842L374 830.5L378.7 808L390.4 808L392 816.1L398 837.2L401 845.7L407 859.7L410 869.2L422 927.8L425 940L428 945.2L431 947L437 949.5L440 944.7L443 937L446 925.7L449 910.7L452 909.7L458 935.2L460.8 944.1L464 953.4L467 959.4L470 963L473 958.1L476.8 944.1L482 916L488 875.7L491 876.3L498.1 944.1L500 954.4L503 959.1L506 966.2L512 988.9L515 993.6L521 997.4L527 999.4L533 1005L539 1011.8L542 1013.3L545 1011.9L548 999L551 979.9L554 944.1L551 903.2L540.1 808L556.3 808L557 956.3L560 1028.3L561.1 1068.3L560 1096.6L557 1122.7L554 1090.5L551 1096L548 1099.4L545 1101.3L539 1089.3L533 1082.5L530 1077L526.5 1068.3L512 1060.5L500 1049.6L497 1043.6L494 1033.8L491 1013.2L488 1002.9L485 1018.6L482 1024.4L473 1030L470 1030.1L467 1026.4L458 1001.3L455 988.6L452 969.6L449 967.3L446 982.9L443 993.6L440 1001.7L437 1008.6L431 1018L428 1019.8L422 999.6L419 985.7L410 950.2L407 943.4L401 940.3L395 936.1L389 930.3L386 925.7L383 923.4L374 926.1L371 929.8L367.3 944.1L362 955.4L359 947.8L358.2 944.1L353 902.7L350 886.8L347 858.1ZM756.6 944.1L761 923.4L767 883.7L773 840.7L776.6 808L785 808L782 925.6L779 938.1L776 942.7L773 953.7L770 969.7L767 998.1L764 1049L762 1068.3L761 1075.2L758 1086.6L755 1102L752 1123.5L746.6 1182.5L751.7 1288.3L742.9 1386.8L740 1409.9L737 1423.2L734 1432.6L728 1459.8L722.4 1479L724.7 1522.9L724.6 1565.5L713.2 1565.5L714.3 1522.9L713.2 1479L722.3 1433.6L722 1397.6L713 1397.5L704 1386.8L701 1380.2L698 1385.2L692 1397.8L689 1402.3L686 1400.1L680 1389.1L679.2 1386.8L678.9 1288.3L683 1260.7L689 1227.1L695 1199.8L700 1182.5L713 1127.1L724.5 1068.3L743 1026L746 1014.7L749 1000.5L752 982.4ZM695 1288.1L698 1295.9L704 1308L713 1329.1L731.3 1288.3L728 1267.9L725 1258.6L722 1252.7L719 1248.9L716 1246.2L713 1244.5L704 1265.3ZM725 1377.6L722.2 1386.8L725 1402.4L728 1396.4L730.2 1386.8L728 1376.4ZM938.8 944.1L941 883.9L944 847.5L950.1 808L955 808L953 889.2L950 923.9L944 942.4L944 945.5L950 957.4L953 961.7L959 968.4L965 973.3L968 971.6L989 943.6L992 925.3L995 860.6L996.4 808L1012.3 808L1013 813.7L1019 834.6L1022 847.3L1028 879.1L1031 899.3L1037 876.2L1040 869.3L1043 864.6L1046 864.5L1049 876.2L1052 890.8L1055 909.5L1059.2 944.1L1055 974.8L1052 986.5L1049 991.9L1046 995.4L1043 988.9L1034 957.1L1031 951.1L1022 958.9L1013 969.6L998 985.1L995 982.4L989 994L968 1021.7L965 1024.6L956 1029.1L950 1033.6L947 1033.5L944 1026.6L941 999.9ZM1145.1 808L1152.4 808L1157 877.4L1160 947.8L1166 989.1L1169 1000L1172 994.7L1175 985.6L1178 967.2L1179.5 944.1L1175 901.6L1172 848.7L1170.6 808L1177.5 808L1181 858.1L1184 890.3L1190.9 944.1L1193 1051.5L1194.4 1068.3L1190 1076.6L1181 1091.1L1178 1091.5L1172 1084.1L1166 1073.3L1163 1052.4L1157 974.6L1154 916.4L1151 874.2ZM1218.4 944.1L1226 881.3L1229 866.8L1235 844.9L1243.7 808L1280 808L1292 891.4L1295 900.8L1298 898.9L1301 898.5L1304 901.8L1310 906L1313 911.4L1316 913.3L1319 911.9L1325 882.2L1328 874.1L1334 864.8L1337 865.3L1349 873.4L1361 884.3L1373 893.4L1376 894.9L1391 943.8L1394 966.2L1397 982.8L1400 995.4L1403 1004.9L1412 1022.2L1418 1032.1L1430 1046.1L1436.6 1068.3L1439 1149.2L1442 1172.1L1445.5 1182.5L1439 1191.1L1430 1199.5L1415 1183.8L1412 1181.6L1400 1177.2L1379 1171.5L1376 1151.4L1373 1136.9L1361 1139.8L1352 1143L1334 1145.6L1331 1147.5L1325 1155.3L1322 1155.3L1319 1158L1316 1170.5L1313.9 1182.5L1304 1206.6L1301 1208.6L1298 1204.4L1295 1197.6L1292 1185.9L1291.7 1182.5L1292 1152.6L1295.4 1068.3L1295 1063.3L1292 1051.4L1289 1047L1286 1044.5L1283 1042.9L1277 1045.3L1259 1048.3L1250 1056L1244 1058.8L1238 1062.7L1235 1061.2L1229 1051.1L1226 1042.6L1223 1025.5L1220 987.8ZM1229 940.4L1228.3 944.1L1229 949.1L1235 968.2L1238 975.8L1244 986L1250 993.3L1253 990L1265 971L1271 959L1276.5 944.1L1262 878.1L1259 867.6L1250 874.8L1238 914.3ZM1319.1 944.1L1319.3 1068.3L1322 1091.7L1325 1109.4L1328 1110.7L1331 1109.5L1334 1109.3L1349 1111.9L1352 1111.7L1373 1106L1376 1116.7L1379 1131.4L1388 1131.8L1391 1131.2L1406 1125.9L1409 1124.5L1412 1121L1418 1113L1421 1107.5L1424 1099.8L1427 1087.7L1429.5 1068.3L1418 1055L1403 1034.3L1400 1028.1L1397 1019.9L1394 1009.2L1388 980.1L1385 960.8L1383.3 944.1L1376 916.3L1364 909.3L1352 900.5L1349 899.1L1337 898.4L1334 899.4L1328 907.3L1325 912.9ZM1721.3 808L1731.1 808L1742 848.6L1752 860.7L1752 928.7L1742 916.6L1733 884.4L1730 870.2L1724 824.3ZM269.2 1068.3L272 1031L275 1007.5L278 1008L281 1025.4L284 1047.9L287 1056.8L289.8 1068.3L287 1091.9L284 1109.5L281 1140.2L278 1156.4L275 1151.4L272 1116.2ZM293.9 1068.3L299 1040.2L302 1030.1L317 1014L323 1003.6L326 1003.6L329 1006.5L335 1014.1L338 1019.5L341 1006.2L344 980.8L347 970.9L350 1042.6L350.4 1068.3L347 1111.6L344 1106L341 1092.2L338 1088.7L335 1097.4L332 1108.7L326 1119.5L323 1122.2L317 1118.2L308 1117.8L305 1117.3L302 1115.8L299 1106.5L296 1088.4ZM365 1179.5L371 1175L383 1155.6L386 1151.7L404 1162.1L407 1161.5L416 1163.2L422 1163.5L425 1166.5L428 1171.6L431.2 1182.5L452 1204.1L455 1206.4L476 1214.6L479 1213.4L485 1208.8L494 1199.8L500 1190L502.8 1182.5L506 1125.1L509 1102.5L512 1095.2L515 1100.6L518 1116.6L519.4 1182.5L524 1227.3L527 1239.2L530 1244.7L539 1247.3L542 1243.5L551 1228.3L557 1220L560 1221L569 1235.6L572 1241.9L581 1265.6L587 1284L590 1290.6L602 1306.9L614 1319.3L617 1328.5L626 1336.2L629 1342.7L635 1364.2L640.2 1386.8L637.9 1433.6L637.9 1479L632 1502.3L627.6 1522.9L626.5 1565.5L583.4 1565.5L583.4 1522.9L584 1520.3L587 1514.7L596 1501L599 1499.4L602 1500.1L605 1502.8L608 1506.8L614 1521.5L617 1508.5L620 1491.8L623.8 1479L624 1433.6L626.2 1386.8L617 1377.9L614 1367.5L602 1363.9L590 1348.4L587 1343.3L581 1328.5L578 1319.5L569 1286.6L560 1272.9L557 1269.3L554 1272.2L541.6 1288.3L524 1316.9L515 1330L509 1327.8L503 1324.5L500 1322L497 1318.5L494 1311.5L488 1288.2L482 1283.2L455 1265.5L452 1262.8L431 1241.2L419 1226.9L410 1214.7L407 1211.7L395 1205.6L389 1203.6L386 1203.8L383 1207.4L365 1232.3L362 1238.4L356 1259.2L344.9 1288.3L338 1326.6L329 1360.6L323.3 1386.8L320 1391.2L317 1396.6L314 1405.8L311 1425.6L309.3 1433.6L309.5 1565.5L302.1 1565.5L300 1522.9L299 1520.3L293 1514.2L284 1510.2L281 1511.3L264.6 1522.9L262.1 1565.5L236 1565.5L236 1500.9L248 1494.9L260 1489.8L280.6 1479L254 1441.7L248.8 1433.6L242 1426.5L236 1421.9L236 1367.1L272 1367.9L287 1359.4L305 1345.9L317 1329.3L323 1317.3L329 1300.9L335 1289L338 1261.3L341 1247.9L344 1241.9L347 1240.7L353 1224.2L362 1186.4ZM1719.7 1182.5L1727 1172.2L1733 1166.2L1736 1164.8L1739 1165L1742 1163.9L1752 1158L1752 1258.5L1736 1246.6L1733 1238.2L1727 1215.5L1721 1190.3ZM463.1 1522.9L470 1513.2L476 1506.1L479 1506.2L482 1507.7L485 1510.8L491 1520L491.9 1522.9L494.3 1565.5L460.8 1565.5ZM781.6 1522.9L785 1514.2L791 1502.8L797 1499.7L824 1499.7L851 1506.5L857 1510L863 1514.9L869 1521.2L869.8 1522.9L869.8 1565.5L852.7 1565.5L851.6 1522.9L839 1518.6L824 1514.3L809 1518.2L800 1521.7L798 1522.9L796.7 1565.5L781.6 1565.5ZM1211.5 1565.5L1214 1523.6L1216.1 1565.5Z" fill="#00ecff" stroke="#00ecff" stroke-width="0.7" fill-rule="evenodd"/>
<path d="M236 808L266.3 808L272 841.4L275 816.2L275.5 808L284.2 808L287 857.1L290 877.3L293 887.9L296 895.5L299 900.3L302 903.5L308 908.3L314 899L317 892.6L320 879.1L323 856.8L326.5 808L344.5 808L347 858.1L350 886.8L353 902.7L358.2 944.1L359 947.8L362 955.4L367.3 944.1L371 929.8L374 926.1L383 923.4L386 925.7L389 930.3L395 936.1L401 940.3L407 943.4L410 950.2L419 985.7L422 999.6L428 1019.8L431 1018L437 1008.6L440 1001.7L443 993.6L446 982.9L449 967.3L452 969.6L455 988.6L458 1001.3L467 1026.4L470 1030.1L473 1030L482 1024.4L485 1018.6L488 1002.9L491 1013.2L494 1033.8L497 1043.6L500 1049.6L512 1060.5L526.5 1068.3L530 1077L533 1082.5L539 1089.3L545 1101.3L548 1099.4L551 1096L554 1090.5L557 1122.7L560 1096.6L561.1 1068.3L560 1028.3L557 956.3L556.3 808L567 808L563.2 944.1L565.3 1068.3L566 1152.7L567.8 1182.5L575 1196.3L581 1209.5L590 1235.5L602 1253.9L611 1263.9L614 1268.7L617 1277.3L623 1282.3L629 1288.8L635 1304.6L641 1324.1L650 1363L654.2 1386.8L652 1433.6L652.4 1479L647 1502.9L644 1512.4L639.7 1522.9L638 1565.5L626.5 1565.5L627.6 1522.9L632 1502.3L637.9 1479L637.9 1433.6L640.2 1386.8L632 1352.9L629 1342.7L626 1336.2L617 1328.5L614 1319.3L602 1306.9L590 1290.6L587 1284L581 1265.6L572 1241.9L569 1235.6L560 1221L557 1220L551 1228.3L542 1243.5L539 1247.3L530 1244.7L527 1239.2L524 1227.3L519.4 1182.5L518 1116.6L515 1100.6L512 1095.2L509 1102.5L506 1125.1L502.8 1182.5L500 1190L497 1195.6L491 1203.2L482 1211.3L479 1213.4L476 1214.6L455 1206.4L452 1204.1L431.2 1182.5L428 1171.6L425 1166.5L422 1163.5L416 1163.2L407 1161.5L404 1162.1L386 1151.7L383 1155.6L371 1175L365 1179.5L362 1186.4L353 1224.2L347 1240.7L344 1241.9L341 1247.9L338 1261.3L335 1289L329 1300.9L323 1317.3L317 1329.3L305 1345.9L287 1359.4L272 1367.9L236 1367.1L236 1317.9L269 1320.9L272 1320.8L284 1307.4L290 1299.1L296.9 1288.3L293 1275.6L287 1260.7L284 1255.2L278 1246.4L275 1240L269 1214.4L266 1194.6L263 1129.8L260 1085.9L257.6 1068.3L260 950.7L260.6 944.1L254 903.1L248 877.2L242 858.7L236 850.5ZM272 1031L269.2 1068.3L272 1116.2L275 1151.4L278 1156.4L281 1140.2L284 1109.5L287 1091.9L289.8 1068.3L287 1056.8L284 1047.9L281 1025.4L278 1008L275 1007.5ZM293.9 1068.3L296 1088.4L299 1106.5L302 1115.8L305 1117.3L308 1117.8L317 1118.2L323 1122.2L326 1119.5L332 1108.7L335 1097.4L338 1088.7L341 1092.2L344 1106L347 1111.6L350.4 1068.3L350 1042.6L347 970.9L344 980.8L341 1006.2L338 1019.5L335 1014.1L329 1006.5L326 1003.6L323 1003.6L317 1014L302 1030.1L299 1040.2ZM358 1068.3L359 1089.1L362 1116.1L365 1128.4L368 1136.1L371 1140.1L374 1130.9L377 1118.8L380 1111.3L386 1100.1L404 1122.8L410 1117L413 1112.8L416 1104.9L419 1091.9L422 1068.3L419 1047.8L413 1017.9L410 1006.8L407 999.3L404 995.3L392 1009.2L386 1017L380 1005L377 997.7L374 986.3L371 980L368 989.8L365 1004.1L362 1023.1ZM437 1067.7L440 1087.2L443 1101.5L446 1113.4L449 1119.3L452 1111L455 1097.4L458.6 1068.3L452 1041.2L449 1032.3ZM530 1178.3L529.5 1182.5L530 1185.1L533 1192.6L539 1203.6L542 1199.1L549.9 1182.5L542 1158.7L539 1152.2L536 1158.4L533 1166.7ZM344 1169.6L341.1 1182.5L344 1192.6L347 1198.7L352.3 1182.5L350 1166.3L347 1162.8ZM694.4 944.1L695 937.9L701 909.3L704 901.6L713 943.4L716 954.7L719 962.4L725 972.3L728 975.6L731 972.1L740 950.7L743 942.2L749 905.7L752 892.4L758 870.5L763.6 808L776.6 808L776 816.7L770 863.2L761 923.4L756.6 944.1L752 982.4L749 1000.5L743 1026L724.5 1068.3L713 1127.1L700 1182.5L695 1199.8L689 1227.1L683 1260.7L678.9 1288.3L679.2 1386.8L680 1389.1L686 1400.1L689 1402.3L692 1397.8L698 1385.2L701 1380.2L704 1386.8L713 1397.5L722 1397.6L722.3 1433.6L713.2 1479L714.3 1522.9L713.2 1565.5L704 1565.5L705 1479L707 1458.9L710 1442.8L713 1433.4L710 1428.8L707 1428.6L704 1433.6L701 1450.1L698 1452.7L695 1453.7L692 1454.3L689 1452.7L677 1437.3L674 1431.8L668 1406.4L662 1397.6L658.5 1386.8L662 1345.3L663.7 1288.3L665 1272.7L680 1154.9L683 1118.9L685.9 1068.3L689 1052L692 1013.4ZM944 942.4L950 923.9L953 889.2L955 808L961.7 808L965 871.7L968 891.2L971 897.9L974 891.1L977 882.2L983 861L989 825L990.3 808L996.4 808L995 860.6L992 925.3L988.9 944.1L968 971.6L965 973.3L959 968.4L953 961.7L947 952L944 945.5ZM1152.4 808L1159.5 808L1160 817.2L1163 819.9L1163.5 808L1170.6 808L1172 848.7L1175 901.6L1179.5 944.1L1178 967.2L1175 985.6L1172 994.7L1169 1000L1166 989.1L1160 947.8L1157 877.4ZM1228.3 944.1L1229 940.4L1238 914.3L1250 874.8L1259 867.6L1262 878.1L1276.5 944.1L1271 959L1265 971L1253 990L1250 993.3L1244 986L1238 975.8L1232 959.1L1229 949.1ZM1319.1 944.1L1325 912.9L1328 907.3L1334 899.4L1337 898.4L1349 899.1L1352 900.5L1358 905.3L1367 911.2L1376 916.3L1383.3 944.1L1385 960.8L1388 980.1L1394 1009.2L1397 1019.9L1400 1028.1L1403 1034.3L1418 1055L1429.5 1068.3L1427 1087.7L1424 1099.8L1421 1107.5L1418 1113L1409 1124.5L1400 1128.3L1391 1131.2L1388 1131.8L1379 1131.4L1376 1116.7L1373 1106L1352 1111.7L1349 1111.9L1334 1109.3L1331 1109.5L1328 1110.7L1325 1109.4L1322 1091.7L1319.3 1068.3ZM1325 943.6L1327.2 1068.3L1328 1069.8L1331 1071.5L1349 1080.1L1352 1080.5L1373 1075.2L1376 1082.1L1379 1091.4L1388 1089.6L1394 1085.1L1400 1079.4L1409.2 1068.3L1403 1063.8L1397 1057.1L1394 1052.2L1385 1031.1L1382 1017.8L1379 984.8L1377.5 944.1L1376 937.8L1361 930.3L1352 925L1349 924.8L1343 927.6L1337 931.4ZM1731.1 808L1752 808L1752 860.7L1742 848.6ZM722.2 1386.8L725 1377.6L728 1376.4L730.2 1386.8L728 1396.4L725 1402.4ZM264.6 1522.9L281 1511.3L284 1510.2L293 1514.2L299 1520.3L300 1522.9L302.1 1565.5L262.1 1565.5ZM798 1522.9L800 1521.7L809 1518.2L824 1514.3L839 1518.6L851.6 1522.9L852.7 1565.5L796.7 1565.5Z" fill="#005eff" stroke="#005eff" stroke-width="0.7" fill-rule="evenodd"/>
<path d="M236 935.6L236 850.5L242 858.7L248 877.2L254 903.1L260.6 944.1L260 950.7L257.6 1068.3L260 1085.9L263 1129.8L266 1194.6L269 1214.4L275 1240L278 1246.4L284 1255.2L287 1260.7L293 1275.6L296.9 1288.3L290 1299.1L284 1307.4L272 1320.8L269 1320.9L236 1317.9L236 1241.3L239 1238.6L245 1231L251 1219.4L254 1211.1L257 1199.8L260 1182.5L254 1166.4L251 1155.6L248 1141.6L245 1123L242 1097L239.7 1068.3L241.9 944.1ZM284.2 808L297.4 808L302 828.2L308 845.5L314 823.7L317.1 808L326.5 808L323 856.8L320 879.1L317 892.6L314 899L308 908.3L302 903.5L299 900.3L296 895.5L293 887.9L290 877.3L287 857.1ZM563.2 944.1L567 808L571.3 808L568.1 944.1L569 1071.7L575 1091.4L581 1113.9L584 1129.6L587 1149.9L590.9 1182.5L602 1202.8L611 1210.7L617 1217.6L629 1214.3L635 1216.6L641 1220.9L644 1225.1L650 1241.8L653 1267.6L659.7 1182.5L662 1167.1L668 1107.9L672.9 1068.3L677 1012.8L684 944.1L686 890.6L689 842.4L692 822L695.8 808L707.7 808L728 863.3L731 866.3L743 837.2L746 828.6L749 821.7L755 811.4L756.2 808L763.6 808L758 870.5L752 892.4L749 905.7L743 942.2L740 950.7L731 972.1L728 975.6L722 968L719 962.4L716 954.7L713 943.4L704 901.6L701 909.3L695 937.9L694.4 944.1L692 1013.4L689 1052L685.9 1068.3L683 1118.9L680 1154.9L665 1272.7L663.7 1288.3L662 1345.3L658.5 1386.8L659 1389.6L662 1397.6L668 1406.4L674 1431.8L677 1437.3L689 1452.7L692 1454.3L695 1453.7L698 1452.7L701 1450.1L704 1433.6L707 1428.6L710 1428.8L713.1 1433.6L710 1442.8L707 1458.9L705 1479L704 1565.5L683.4 1565.5L681 1522.9L680 1519.5L677 1513.3L674 1511L667.6 1522.9L663 1565.5L638 1565.5L639.7 1522.9L644 1512.4L647 1502.9L652.4 1479L652 1433.6L654.2 1386.8L650 1363L644 1335.7L638 1313.8L629 1288.8L623 1282.3L617 1277.3L614 1268.7L611 1263.9L602 1253.9L590 1235.5L581 1209.5L575 1196.3L567.8 1182.5L566 1152.7L565.3 1068.3ZM961.7 808L970.7 808L971 810.5L972.2 808L990.3 808L989 825L983 861L977 882.2L974 891.1L971 897.9L968 891.2L965 871.7ZM1159.5 808L1163.5 808L1163 819.9L1160 817.2ZM1324.9 944.1L1334 934L1337 931.4L1343 927.6L1349 924.8L1352 925L1361 930.3L1376 937.8L1377.5 944.1L1379 984.8L1382 1017.8L1385 1031.1L1394 1052.2L1397 1057.1L1403 1063.8L1409.2 1068.3L1400 1079.4L1394 1085.1L1388 1089.6L1379 1091.4L1376 1082.1L1373 1075.2L1352 1080.5L1349 1080.1L1331 1071.5L1328 1069.8L1327.2 1068.3ZM358 1068.3L362 1023.1L365 1004.1L368 989.8L371 980L374 986.3L377 997.7L380 1005L386 1017L392 1009.2L404 995.3L407 999.3L410 1006.8L413 1017.9L419 1047.8L422 1068.3L419 1091.9L416 1104.9L413 1112.8L410 1117L404 1122.8L386 1100.1L380 1111.3L377 1118.8L374 1130.9L371 1140.1L368 1136.1L365 1128.4L362 1116.1L359 1089.1ZM364 1068.3L365 1077.4L368 1095.3L371 1105.1L374 1091.1L377 1072.5L378.3 1068.3L377 1062.4L374 1038.4L371 1022.9L368 1037.1ZM396.6 1068.3L404 1083.6L410 1072.2L411.3 1068.3L410 1063.3L404 1047.9L401 1054.8ZM436.8 1068.3L449 1032.3L452 1041.2L458.6 1068.3L455 1097.4L452 1111L449 1119.3L446 1113.4L443 1101.5ZM341.1 1182.5L344 1169.6L347 1162.8L350 1166.3L352.3 1182.5L347 1198.7L344 1192.6ZM529.5 1182.5L530 1178.3L533 1166.7L536 1158.4L539 1152.2L542 1158.7L549.9 1182.5L542 1199.1L539 1203.6L533 1192.6L530 1185.1Z" fill="#2a00ff" stroke="#2a00ff" stroke-width="0.7" fill-rule="evenodd"/>
<path d="M236 935.6L241.9 944.1L239.7 1068.3L242 1097L245 1123L248 1141.6L251 1155.6L254 1166.4L260 1182.5L257 1199.8L254 1211.1L251 1219.4L245 1231L239 1238.6L236 1241.3ZM297.4 808L317.1 808L314 823.7L308 845.5L302 828.2ZM568.1 944.1L571.3 808L574.9 808L574.9 944.1L575 945.9L578 952.9L579.4 944.1L581.9 808L651.9 808L650 829.7L647 944.1L650 1027.7L653 1046L659.7 944.1L659.9 808L695.8 808L692 822L689 842.4L686 890.6L684 944.1L677 1012.8L672.9 1068.3L668 1107.9L662 1167.1L659.7 1182.5L653 1267.6L650 1241.8L644 1225.1L641 1220.9L635 1216.6L629 1214.3L617 1217.6L611 1210.7L602 1202.8L590.9 1182.5L587 1149.9L584 1129.6L581 1113.9L575 1091.4L569 1071.7ZM707.7 808L756.2 808L755 811.4L749 821.7L746 828.6L743 837.2L731 866.3L728 863.3ZM970.7 808L972.2 808L971 810.5ZM364 1068.3L368 1037.1L371 1022.9L374 1038.4L377 1062.4L378.3 1068.3L377 1072.5L374 1091.1L371 1105.1L368 1095.3ZM371 1065.9L370.6 1068.3L371 1070.2L371.4 1068.3ZM396.6 1068.3L401 1054.8L404 1047.9L410 1063.3L411.3 1068.3L410 1072.2L404 1083.6ZM667.6 1522.9L674 1511L677 1513.3L680 1519.5L681 1522.9L683.4 1565.5L663 1565.5Z" fill="#b700ff" stroke="#b700ff" stroke-width="0.7" fill-rule="evenodd"/>
<path d="M574.9 808L581.9 808L579.4 944.1L578 952.9L575 945.9L574.9 944.1ZM647 944.1L650 829.7L651.9 808L659.9 808L659.7 944.1L653 1046L650 1027.7ZM370.6 1068.3L371 1065.9L371.4 1068.3L371 1070.2Z" fill="#ff00bf" stroke="#ff00bf" stroke-width="0.7" fill-rule="evenodd"/>
</g>
<g clip-path="url(#cp2)">
<rect x="236" y="1584.5" width="1516" height="757.5" fill="#ccffcc"/>
<path d="M569.3 1584.5L575 1584.5L578.3 1720.6L581 1771.6L584 1801.1L587 1844.8L590 1935.7L590.7 1959L587.8 2064.8L587 2073.5L584 2080.4L582.1 2064.8L580.9 1959L577.2 1844.8L572.2 1720.6ZM654.8 1584.5L667.6 1584.5L662 1607.6L659 1600.3Z" fill="#0000ff" stroke="#0000ff" stroke-width="0.6" fill-rule="evenodd"/>
<path d="M563.9 1584.5L569.3 1584.5L572.2 1720.6L577.2 1844.8L580.9 1959L582.1 2064.8L584 2080.4L587 2073.5L587.8 2064.8L590.7 1959L587 1844.8L584 1801.1L581 1771.6L578.3 1720.6L575 1584.5L580.5 1584.5L584.9 1720.6L593.4 1844.8L596.4 1959L596 1976.6L593 2080.1L590 2119.3L587 2133.4L584 2127.6L581 2098.5L576.6 2064.8L570.9 1844.8L566.6 1720.6ZM645.5 1584.5L654.8 1584.5L659 1600.3L662 1607.6L667.6 1584.5L675 1584.5L674 1601.2L671 1621.5L662 1654.5L659 1653.7L650 1623.6L647 1606.7ZM1230.1 2163.3L1232 2131.9L1238 2093.1L1241 2105.2L1244 2124.5L1247.3 2163.3L1244.9 2210.1L1244 2213.1L1241 2218.2L1238 2220L1235 2215.5L1232.6 2210.1Z" fill="#3333ff" stroke="#3333ff" stroke-width="0.6" fill-rule="evenodd"/>
<path d="M560 1584.5L563.9 1584.5L566.6 1720.6L570.9 1844.8L576.6 2064.8L581 2098.5L584 2127.6L587 2133.4L590 2119.3L593 2080.1L596.4 1959L593.4 1844.8L584.9 1720.6L580.5 1584.5L584.3 1584.5L587 1658.5L596 1802.2L602.1 1959L601.1 2064.8L602 2083.4L605 2114.1L617 2122L629 2127.7L632 2152L632.5 2163.3L632 2167.7L629 2177.9L626 2178.6L623 2180.5L620 2183.8L617 2188.6L614 2196.5L611 2210.6L608 2217.3L605 2217.7L599 2217.7L596 2216.5L594.1 2210.1L593 2201.1L590 2188L587 2181.6L584 2171.6L581 2140.4L572.2 2064.8L567.9 1959L565.7 1844.8L562.2 1720.6ZM641.2 1584.5L645.5 1584.5L647 1606.7L650 1623.6L659 1653.7L662 1654.5L671 1621.5L674 1601.2L675 1584.5L678.4 1584.5L674 1658.2L671 1674.2L668 1684L662 1701.5L659 1707.1L650 1682.5L647 1670.7L644 1640.9ZM1138.1 1584.5L1143.9 1584.5L1145 1639.2L1148 1644.8L1151 1681.7L1152.8 1720.6L1157 1871L1160.8 1959L1160 1997.5L1157 2014.4L1154 2010L1149.3 1959L1142 1691.1L1139 1628.9ZM396.9 2064.8L398 2041.5L401 2005.6L404 2009.1L407 2026.7L410 2060.1L410 2070.6L407 2097.7L401 2097.7L398 2080.3ZM1162.5 2064.8L1163 2053.9L1166 2049.7L1169 2049.7L1171.1 2064.8L1169 2087.7L1166 2082.3L1163 2070.2ZM1227.9 2064.8L1229 2058L1232 2048.1L1238 2032.3L1241 2035.7L1244 2042.9L1250 2064.8L1252.2 2163.3L1252 2210.1L1247 2229.7L1244 2237.6L1241 2242.5L1238 2241.3L1235 2237L1232 2230.3L1227.1 2210.1L1225.1 2163.3ZM1232 2131.9L1230.1 2163.3L1232 2202.2L1232.6 2210.1L1235 2215.5L1238 2220L1241 2218.2L1244 2213.1L1244.9 2210.1L1247.3 2163.3L1244 2124.5L1241 2105.2L1238 2093.1Z" fill="#6666ff" stroke="#6666ff" stroke-width="0.6" fill-rule="evenodd"/>
<path d="M556.3 1584.5L560 1584.5L562.2 1720.6L565.7 1844.8L567.9 1959L572.2 2064.8L581 2140.4L584 2171.6L587 2181.6L590 2188L593 2201.1L594.1 2210.1L596 2216.5L599 2217.7L608 2217.3L611.2 2210.1L614 2196.5L617 2188.6L620 2183.8L623 2180.5L626 2178.6L629 2177.9L632 2167.7L632.5 2163.3L632 2152L629 2127.7L617 2122L605 2114.1L602 2083.4L601.1 2064.8L602.1 1959L596 1802.2L587 1658.5L584.3 1584.5L588.1 1584.5L593 1666.9L597.6 1720.6L599 1744.7L602.1 1844.8L605 1890.3L608 1963.6L611 2002.8L614 2023.2L617 2035.7L620 2044.2L626 2055L629 2058.6L635.8 2064.8L637.7 2163.3L635 2189.8L632 2203.7L625.5 2210.1L623 2226.1L620 2236.7L617 2241.7L614 2244.6L608 2247.8L599 2247.9L596 2246.9L590 2228.5L584 2205.8L581 2185.1L578 2154.5L567.3 2064.8L561.8 1959L560.6 1844.8L557.7 1720.6ZM637 1584.5L641.2 1584.5L644 1640.9L647 1670.7L650 1682.5L659 1707.1L662 1701.5L671 1674.2L674 1658.2L678.4 1584.5L682.3 1584.5L677 1685.7L674 1715.3L671 1726.3L665 1739L659 1754.4L656 1753.2L653 1750.9L647 1736.9L644 1727.8L643 1720.6L641 1700ZM1134.4 1584.5L1138.1 1584.5L1139 1628.9L1142 1691.1L1149.3 1959L1154 2010L1157 2014.4L1160 1997.5L1160.8 1959L1157 1871L1152.8 1720.6L1151 1681.7L1148 1644.8L1145 1639.2L1143.9 1584.5L1160.5 1584.5L1158.3 1720.6L1160 1787.5L1161.9 1844.8L1167.6 1959L1175 2044.7L1176 2064.8L1175.3 2163.3L1166 2192.1L1163 2190L1157 2179.4L1154 2172.7L1150.9 2163.3L1150.7 2064.8L1142 1959L1136.2 1720.6ZM1163 2053.9L1162.5 2064.8L1163 2070.2L1166 2082.3L1169 2087.7L1171.1 2064.8L1169 2049.7L1166 2049.7ZM394.5 1959L398 1943.9L401 1934.8L404 1936.6L407.8 1959L410 1983.9L414 2064.8L413 2100.6L410 2163.3L395 2163.3L391.4 2064.8ZM398 2041.5L396.9 2064.8L398 2080.3L401 2097.7L407 2097.7L410 2070.6L410 2060.1L407 2026.7L404 2009.1L401 2005.6ZM1221.7 2064.8L1223 2042.8L1226 2015L1229 2001.5L1238 1986.6L1241 1986.4L1244 1987.2L1250 1998.5L1253 2010.3L1256 2028L1259.3 2064.8L1259.5 2163.3L1259.5 2210.1L1259 2213.2L1256 2228.3L1250 2250.2L1247 2257.5L1241 2265.9L1238 2263.5L1235 2259.2L1232 2251.8L1221.7 2210.1L1219.7 2163.3ZM1229 2058L1227.9 2064.8L1225.1 2163.3L1227.1 2210.1L1232 2230.3L1235 2237L1238 2241.3L1241 2242.5L1244 2237.6L1247 2229.7L1252 2210.1L1252.2 2163.3L1250 2064.8L1244 2042.9L1241 2035.7L1238 2032.3L1232 2048.1Z" fill="#b3b3ff" stroke="#b3b3ff" stroke-width="0.6" fill-rule="evenodd"/>
<path d="M550.8 1584.5L556.3 1584.5L557.7 1720.6L560.6 1844.8L561.8 1959L567.3 2064.8L578 2154.5L581 2185.1L584 2205.8L590 2228.5L596 2246.9L599 2247.9L608 2247.8L611 2246.5L617 2241.7L620 2236.7L623 2226.1L625.5 2210.1L632 2203.7L635 2189.8L637.7 2163.3L635.8 2064.8L629 2058.6L626 2055L620 2044.2L617 2035.7L614 2023.2L611 2002.8L608 1963.6L605 1890.3L602.1 1844.8L599 1744.7L597.6 1720.6L593 1666.9L588.1 1584.5L593.5 1584.5L596 1620.8L599 1635.8L602 1655.5L605 1699.8L611.2 1844.8L614 1885.8L617 1912.1L619.2 1959L620 1964.9L623 1982L626 1995L632 2013.3L635 2020.1L638 2023.9L647 2032.1L653 2038.6L656 2049.3L659 2064.8L662.6 2163.3L659 2191.5L656 2200.1L650 2225L647 2234.7L644 2241.7L638 2252.3L636.9 2255.5L629 2264.9L626 2267.7L623 2268.6L596 2268.2L590 2259.8L587 2252.9L581 2229.6L577.4 2210.1L573.6 2163.3L572 2151.1L558.4 2064.8L552.7 1959L554.1 1844.8ZM632.7 1584.5L637 1584.5L641 1700L644 1727.8L647 1736.9L653 1750.9L656 1753.2L659 1754.4L665 1739L671 1726.3L674 1715.3L677 1685.7L682.3 1584.5L689.4 1584.5L686 1648.3L680.9 1720.6L677 1752.2L674 1767.4L671 1773.7L665 1781.3L659 1799.7L653 1813.6L644 1809L641 1803L638 1774.1ZM1129.1 1584.5L1134.4 1584.5L1136.2 1720.6L1142 1959L1150.7 2064.8L1150.9 2163.3L1154 2172.7L1157 2179.4L1163 2190L1166 2192.1L1175.3 2163.3L1176 2064.8L1175 2044.7L1167.6 1959L1161.9 1844.8L1158.3 1720.6L1160.5 1584.5L1165.7 1584.5L1162.6 1720.6L1167.6 1844.8L1172 1933.1L1174.3 1959L1178 1986.3L1179.9 2064.8L1179.9 2163.3L1178 2189.8L1172 2221.3L1169 2231.2L1166 2235.8L1163 2236.1L1154 2233L1151 2226.9L1147.7 2210.1L1145 2169.4L1144.8 2064.8L1136.3 1959L1133 1831L1128.7 1720.6ZM1495.7 1584.5L1530 1584.5L1529 1613L1526 1632L1514 1642.7L1511 1720.6L1508 1741.3L1499 1741.3L1496 1736.4L1493.9 1720.6ZM388.4 1959L392 1920.6L395 1906.1L401 1894.8L404 1895.8L407 1905.2L410 1925.4L413.1 1959L417.8 2064.8L415 2163.3L413 2187.2L410 2194.5L395 2194.5L392 2185.5L390.3 2163.3L387.4 2064.8ZM395 1955.1L394.5 1959L391.4 2064.8L395 2163.3L410 2163.3L413 2100.6L414 2064.8L410 1983.9L407.8 1959L404 1936.6L401 1934.8ZM1229 1926.6L1235 1916L1244 1902.3L1250 1907.8L1259 1920.1L1262 1957.6L1265 2086.2L1267.8 2163.3L1267.9 2210.1L1262 2246.7L1256 2272.2L1253 2278.9L1250 2282.9L1247 2285.4L1241 2288.2L1235 2286L1232 2280.7L1227.8 2255.5L1220 2228L1217.6 2210.1L1216.7 2163.3L1217.6 2064.8L1220 1984.2ZM1223 2042.8L1221.7 2064.8L1219.7 2163.3L1221.7 2210.1L1232 2251.8L1235 2259.2L1238 2263.5L1241 2265.9L1247 2257.5L1250 2250.2L1256 2228.3L1259.5 2210.1L1259 2057.5L1256 2028L1253 2010.3L1250 1998.5L1244 1987.2L1241 1986.4L1238 1986.6L1229 2001.5L1226 2015ZM1011.3 2064.8L1016 2022.3L1019 2010.2L1022 2002L1025 2008.4L1028 2019.6L1031 2049.3L1033.6 2064.8L1033.3 2163.3L1031 2177.8L1028 2210.1L1025 2217.5L1018 2210.1L1013 2179.4L1011.6 2163.3ZM1289 2255.5L1310 2255.5L1313 2264.2L1314.4 2299.4L1314.4 2342L1285.9 2342L1286 2293.5Z" fill="#ccccff" stroke="#ccccff" stroke-width="0.6" fill-rule="evenodd"/>
<path d="M280.4 1584.5L287.3 1584.5L287 1675.2L281 1625.6ZM545.1 1584.5L550.8 1584.5L554.1 1844.8L552.7 1959L558.4 2064.8L572 2151.1L573.6 2163.3L575 2184.1L578 2213.6L584 2242.9L587.8 2255.5L593 2264.5L596 2268.2L623 2268.6L626 2267.7L629 2264.9L636.9 2255.5L638 2252.3L644 2241.7L647 2234.7L650 2225L656 2200.1L659 2191.5L662.6 2163.3L659 2064.8L656 2049.3L653 2038.6L647 2032.1L638 2023.9L635 2020.1L632 2013.3L626 1995L623 1982L619.2 1959L617 1912.1L614 1885.8L611.2 1844.8L605 1699.8L602 1655.5L599 1635.8L596 1620.8L593.5 1584.5L632.7 1584.5L638 1774.1L641 1803L644 1809L653 1813.6L659 1799.7L665 1781.3L671 1773.7L674 1767.4L677 1752.2L680.9 1720.6L686 1648.3L689.4 1584.5L700.8 1584.5L704 1639L707 1652.2L710 1660.2L713 1688.5L715.1 1720.6L713 1742.9L710 1762.3L698 1773.4L686 1781.9L680 1806.4L677 1813.9L674 1819L671 1821.1L665 1823.6L659 1844.8L656 1881.9L653 1899.4L638 1906.6L635 1914.7L632 1940L630.6 1959L635 1976.1L638 1980.8L653 1987.2L656 1991.3L659 1997.1L662 2005.2L665 2017.5L668 2047L669 2064.8L669.7 2163.3L666.2 2210.1L657.6 2255.5L653 2273.2L629 2284.6L623 2286.2L596 2286L590 2282.4L587 2279.7L584 2276.1L581 2269.9L572 2224L569 2188.3L560 2136.3L554 2096.7L551 2082.2L546.5 2064.8L543.7 1959L546.5 1844.8ZM771.1 1584.5L783 1584.5L783.5 1959L782 1966.6L779 1968.7L773 1968.7L771.4 1959ZM943.5 1584.5L968.6 1584.5L964.2 1720.6L962 1736.1L947 1736.1ZM1120.6 1720.6L1124 1643.1L1125 1584.5L1129.1 1584.5L1128.7 1720.6L1133 1831L1136.3 1959L1144.8 2064.8L1145 2169.4L1147.7 2210.1L1151 2226.9L1154 2233L1163 2236.1L1166 2235.8L1169 2231.2L1172 2221.3L1178 2189.8L1179.9 2163.3L1179.9 2064.8L1178 1986.3L1174.3 1959L1172 1933.1L1167.6 1844.8L1162.6 1720.6L1165.7 1584.5L1170.4 1584.5L1168.5 1720.6L1173.3 1844.8L1175 1872.5L1178 1902L1181 1921.8L1184 1934.2L1187 1942.1L1190 1947.8L1193 1949.8L1197 1959L1196 1975.1L1193 1998L1190 2006.6L1187 2046.2L1186.1 2064.8L1186.1 2163.3L1183.3 2210.1L1181 2235.3L1178 2250.1L1176.1 2255.5L1163 2264.7L1157 2270.8L1151 2273.5L1145 2277.3L1142 2299.4L1142 2342L1119.7 2342L1119.7 2299.4L1121 2283.8L1127 2263.3L1130 2249.9L1133 2240.3L1136 2233.3L1139.1 2210.1L1139.1 2064.8L1136 2028.2L1130 1989.8L1126.3 1959L1124.4 1844.8ZM1262 1702.8L1265 1671.8L1271 1661.3L1277 1653L1283 1781.6L1286 1782.7L1292 1782.7L1295 1788.8L1297.3 1844.8L1295 1896.3L1292 1901.9L1286 1901.9L1283 1902.9L1280.2 1959L1279.2 2064.8L1283 2110.5L1292 2125L1295 2134.7L1298 2167.5L1301 2180.7L1304 2189L1307 2194.9L1310 2198.7L1313 2200.6L1322 2203.1L1325.8 2210.1L1328 2222.9L1331 2232.2L1334 2237.5L1340 2243.3L1346 2240.2L1349 2237.7L1352 2233.9L1355 2228L1358 2216.8L1359.1 2210.1L1359.1 2064.8L1355 2027.9L1351.5 1959L1352 1941.1L1355 1901.9L1364 1901.9L1367 1904.1L1376 1923.6L1379 1928.7L1382 1943.3L1385 1951.8L1391 1958.6L1394 2020.6L1397 2038.2L1398.9 2064.8L1400 2099.8L1403 2130.5L1406 2130.5L1409 2135L1414.1 2210.1L1416 2255.5L1415 2261.3L1412 2266.9L1394 2271.5L1391 2273.4L1387.4 2299.4L1387.4 2342L1314.4 2342L1314.4 2299.4L1313 2264.2L1310 2255.5L1289 2255.5L1286 2293.5L1285.9 2342L1232.9 2342L1229 2299.4L1226 2282.6L1217 2246L1213.3 2210.1L1212.6 2064.8L1211 2039.8L1209.2 1959L1211.4 1844.8L1214 1815.3L1223 1802.2L1229 1791.6L1232 1788.1L1244 1774.1L1259 1762.4ZM1220 1984.2L1217.6 2064.8L1217 2122.2L1216.7 2163.3L1217.6 2210.1L1220 2228L1227.8 2255.5L1232 2280.7L1235 2286L1241 2288.2L1247 2285.4L1250 2282.9L1253 2278.9L1256 2272.2L1262 2246.7L1267.9 2210.1L1267.8 2163.3L1265 2086.2L1262 1957.6L1259 1920.1L1250 1907.8L1244 1902.3L1235 1916L1229 1926.6ZM1442.6 1584.5L1495.7 1584.5L1493.9 1720.6L1496 1736.4L1499 1741.3L1508 1741.3L1511 1720.6L1514 1642.7L1526 1632L1529 1613L1530 1584.5L1536.7 1584.5L1536.7 1720.6L1535 1752.6L1532 1762.1L1529 1758.1L1523 1752.1L1514 1751.6L1511 1770.3L1508 1782.7L1499 1782.7L1496 1779.7L1490 1753L1481 1756.7L1472 1761.4L1469 1767.9L1466 1779.7L1463 1782.7L1454 1782.3L1448 1653.4L1445 1646.2ZM1713.3 1844.8L1715 1824.1L1718 1813.7L1724 1813.7L1727.5 1844.8L1729 1959L1727 1997.3L1724.7 2064.8L1721 2086.7L1700 2086.7L1697 2077.6L1694.8 2064.8L1700 2021.5L1703 2004.1L1712 1880.5ZM384.2 1959L386 1925.6L392 1859.9L395 1857L398 1855.8L401 1854.8L404 1855L407 1856.9L410 1875.5L416 1943.7L421.6 2064.8L419.7 2163.3L416 2224.4L413 2242.3L407 2255.5L398 2255.5L392 2241.7L389 2220.7L385.5 2163.3L383.6 2064.8ZM388.4 1959L387.4 2064.8L390.3 2163.3L392 2185.5L395 2194.5L410 2194.5L413 2187.2L415 2163.3L417.8 2064.8L413.1 1959L410 1925.4L407 1905.2L404 1895.8L401 1894.8L395 1906.1L392 1920.6ZM1013 1927.2L1016 1919.5L1028 1918.8L1034 1995L1037 2003.4L1040 2016.2L1043 2037.9L1044.9 2064.8L1042.2 2163.3L1038 2210.1L1034 2230.7L1031 2238.1L1025 2247.8L1016 2241.6L1010 2236L1007 2229.9L1001.6 2210.1L1002.4 2064.8L1004 2039.2L1007 2011.1ZM1011.3 2064.8L1011.6 2163.3L1013 2179.4L1018 2210.1L1025 2217.5L1028 2210.1L1031 2177.8L1033.3 2163.3L1033.6 2064.8L1031 2049.3L1028 2019.6L1025 2008.4L1022 2002L1019 2010.2L1016 2022.3ZM1481 2297.4L1484 2291.2L1502 2292.9L1504.2 2299.4L1504.2 2342L1480.6 2342Z" fill="#e5e5ff" stroke="#e5e5ff" stroke-width="0.6" fill-rule="evenodd"/>
<path d="M278 1720.6L278.1 1584.5L280.4 1584.5L281 1625.6L287 1675.2L287.3 1584.5L320 1584.5L323 1652.5L347 1652.5L350 1660.8L351.4 1720.6L350 1760.6L347 1782.7L326 1782.7L323 1839.2L320 1920.9L290 1912.7L287 1887.1L284 1806.3L281 1777.4ZM352.3 1584.5L365.6 1584.5L362 1603.1L356 1624.8L353 1617.2ZM448.2 1584.5L459.6 1584.5L458 1614.6L455 1645.4L452 1638.7ZM512.6 1584.5L545.1 1584.5L546.5 1844.8L543.7 1959L546.5 2064.8L551 2082.2L554 2096.7L560 2136.3L569 2188.3L572 2224L581 2269.9L584 2276.1L587 2279.7L593 2284.4L596 2286L599 2286.2L626 2285.8L650 2274.9L653 2273.2L657.6 2255.5L666.2 2210.1L669.7 2163.3L669 2064.8L668 2047L665 2017.5L662 2005.2L659 1997.1L656 1991.3L653 1987.2L638 1980.8L635 1976.1L630.6 1959L632 1940L635 1914.7L638 1906.6L653 1899.4L656 1881.9L659 1844.8L665 1823.6L671 1821.1L674 1819L677 1813.9L680 1806.4L686 1781.9L698 1773.4L710 1762.3L713 1742.9L715.1 1720.6L713 1688.5L710 1660.2L707 1652.2L704 1639L700.8 1584.5L734.2 1584.5L731.7 1844.8L728 1911.2L726.8 1959L725 1986.5L722 1995L683 2003.9L680 2019.3L677.6 2064.8L677.6 2163.3L676.1 2210.1L671 2231.1L662 2277L656 2300.3L653 2309.4L632 2310L629 2314L626.3 2342L501.4 2342L501.4 2210.1L506 2190.9L509 2183.7L512 2179.6L533 2163.9L536 2180.2L539 2189.3L542 2189.7L551 2188L554 2173.6L555.1 2163.3L551 2137.2L545 2128L539 2115.5L536 2132.8L533 2162.3L527 2151.9L521 2138.1L515 2119L509 2090.8L506 2071L506 2062.4L512 2046.1L518 2019.6L521 1999.9L525.1 1959L521 1933.3L518 1920.9L515 1888.3L513.7 1844.8L513.7 1720.6ZM766.5 1584.5L771.1 1584.5L771.4 1959L773 1968.7L779 1968.7L782 1966.6L783.5 1959L783 1584.5L833.3 1584.5L831.4 1720.6L833 1785.2L836 1822.8L839 1823.8L839.7 1844.8L839.7 1959L839 1974.4L788 1985.3L782 2005.9L779 2007.1L773 2007.1L770 1989.8L767.6 1959L767.5 1720.6ZM941.3 1584.5L943.5 1584.5L947 1736.1L962 1736.1L964.2 1720.6L968.6 1584.5L971.5 1584.5L968 1720.6L965 1788.6L962 1798.2L947 1798.2L944.1 1720.6ZM1041.1 1584.5L1093.7 1584.5L1094.1 1720.6L1097.2 1844.8L1097.2 1959L1097 1967.6L1094 1986.2L1091 1987.2L1088 2003L1085 2063.6L1082 2064.8L1082 2163.3L1052 2163.3L1051.2 2210.1L1048.9 2255.5L1034 2265.4L1025 2270.1L1010 2266.3L998 2264.8L989 2265.1L977 2266.4L974.9 2255.5L974.9 2210.1L980 2170.9L983 2136.1L989 2103.1L992 2080.9L993.4 2064.8L992 2006.7L988.9 1959L992 1943.8L995 1844.1L1019 1831.2L1043 1820.7L1046 1806.6L1047.2 1720.6L1046 1669.8L1043 1652.3ZM1013 1927.2L1010 1974.9L1004 2039.2L1002.4 2064.8L1001.6 2210.1L1007 2229.9L1010 2236L1016 2241.6L1025 2247.8L1031 2238.1L1034 2230.7L1038 2210.1L1042.2 2163.3L1044.9 2064.8L1043 2037.9L1040 2016.2L1037 2003.4L1034 1995L1028 1918.8L1016 1919.5ZM1112.1 1720.6L1115 1653L1118 1615L1121 1590.8L1121.2 1584.5L1125 1584.5L1124 1643.1L1120.6 1720.6L1121 1739.2L1124.4 1844.8L1126.3 1959L1130 1989.8L1136 2028.2L1139.1 2064.8L1139.1 2210.1L1136 2233.3L1133 2240.3L1130 2249.9L1127 2263.3L1121 2283.8L1119.7 2299.4L1119.7 2342L1088 2342L1088 2299.3L1097 2294.7L1106 2291.6L1109 2288.8L1112 2276.4L1114 2255.5L1114.6 2210.1L1114.6 2064.8L1112.1 1959ZM1168.5 1720.6L1170.4 1584.5L1175.7 1584.5L1175.6 1720.6L1178.8 1844.8L1181 1869.4L1184 1892.7L1187 1907.2L1190 1917.7L1193 1914.2L1196 1907.9L1199 1893.7L1201.9 1844.8L1205 1718.5L1208 1698.8L1211 1672.6L1214 1635.9L1216.8 1584.5L1297.3 1584.5L1298 1610.1L1301 1652.5L1316 1652.5L1319 1623.2L1320.1 1584.5L1348.6 1584.5L1349 1600.5L1352 1652.5L1358 1652.5L1361 1638.3L1362.9 1584.5L1379.4 1584.5L1380 1720.6L1382.8 1844.8L1385 1874.5L1388 1881.7L1391 1882.7L1394 1894.4L1397 1920.2L1399.9 1844.8L1397.1 1720.6L1400 1666.1L1406 1666.1L1409 1660.3L1411.9 1584.5L1442.6 1584.5L1445 1646.2L1448 1653.4L1454 1782.3L1457 1782.7L1463 1782.7L1466 1779.7L1469 1767.9L1472 1761.4L1481 1756.7L1490 1753L1496 1779.7L1499 1782.7L1508 1782.7L1511 1770.3L1514 1751.6L1523 1752.1L1529 1758.1L1532 1762.1L1535 1752.6L1536.7 1720.6L1536.7 1584.5L1563.9 1584.5L1563.9 1720.6L1562 1770.5L1553 1779.9L1550 1785.8L1547 1798.7L1544 1818.1L1541.4 1844.8L1538 1859.3L1535 1857.7L1529 1833.3L1523 1815.2L1520 1813.7L1514 1813.7L1511 1820L1508 1824.1L1499 1824.1L1496 1823.1L1493 1819.1L1490 1817.9L1481 1829.1L1472 1843.2L1469 1859.9L1466 1885.1L1463 1890.5L1445 1890.5L1442 1895L1438.1 1959L1436.4 2064.8L1439 2117.6L1442 2124.6L1448 2126.3L1451 2173.5L1454 2197.1L1457 2198L1460 2200.1L1461.6 2210.1L1463 2228.5L1466 2240.9L1472 2246.9L1478.7 2255.5L1481 2257.2L1493 2263.2L1502 2266.8L1505 2270.8L1508 2281.2L1511 2285.7L1514 2288.7L1523 2285L1529 2288.7L1532 2291.6L1535 2295.9L1535.6 2299.4L1535.6 2342L1504.2 2342L1504.2 2299.4L1502 2292.9L1484 2291.2L1481 2297.4L1480.6 2299.4L1480.6 2342L1452.6 2342L1452.6 2299.4L1451 2279.1L1448 2269.3L1421 2272.9L1418 2283.4L1415.6 2299.4L1415.6 2342L1387.4 2342L1387.4 2299.4L1391 2273.4L1394 2271.5L1412 2266.9L1415 2261.3L1416 2255.5L1415 2226.1L1411.3 2163.3L1409 2135L1406 2130.5L1403 2130.5L1400 2099.8L1398.9 2064.8L1397 2038.2L1394 2020.6L1391 1958.6L1385 1951.8L1382 1943.3L1379 1928.7L1376 1923.6L1367 1904.1L1364 1901.9L1355 1901.9L1352 1941.1L1351.5 1959L1352 1976.7L1355 2027.9L1359.1 2064.8L1359.1 2210.1L1358 2216.8L1355 2228L1352 2233.9L1349 2237.7L1346 2240.2L1340 2243.3L1337 2240.9L1334 2237.5L1331 2232.2L1328 2222.9L1325.8 2210.1L1322 2203.1L1313 2200.6L1310 2198.7L1307 2194.9L1304 2189L1301 2180.7L1298 2167.5L1295 2134.7L1292 2125L1283 2110.5L1279.2 2064.8L1280.2 1959L1283 1902.9L1286 1901.9L1292 1901.9L1295 1896.3L1297.3 1844.8L1295 1788.8L1292 1782.7L1286 1782.7L1283 1781.6L1277 1653L1271 1661.3L1265 1671.8L1262 1702.8L1259 1762.4L1244 1774.1L1232 1788.1L1229 1791.6L1223 1802.2L1214 1815.3L1211.4 1844.8L1209.2 1959L1211 2039.8L1212.6 2064.8L1213.3 2210.1L1217 2246L1226 2282.6L1229 2299.4L1232.9 2342L1221.4 2342L1217 2313.2L1214 2300.1L1211 2280.3L1208 2272.5L1205 2268.4L1202 2268L1187 2268.4L1178 2274.1L1166 2279L1163 2283.3L1160 2294L1157.8 2299.4L1157.8 2342L1142 2342L1142 2299.4L1145 2277.3L1151 2273.5L1157 2270.8L1163 2264.7L1176.1 2255.5L1178 2250.1L1181 2235.3L1183.3 2210.1L1186.1 2163.3L1186.1 2064.8L1187 2046.2L1190 2006.6L1193 1998L1196 1975.1L1197 1959L1193 1949.8L1190 1947.8L1187 1942.1L1184 1934.2L1181 1921.8L1178 1902L1175 1872.5L1173.3 1844.8ZM1322 1913.8L1319 1981.2L1316 2001.4L1313 2001.4L1310 2017.7L1308.2 2064.8L1307.3 2163.3L1310 2171.8L1313 2175.7L1322 2176.6L1325 2178.2L1328 2181.2L1331 2185.7L1334 2193.2L1337.2 2210.1L1340 2216.6L1343.9 2210.1L1346 2199.2L1348.6 2163.3L1349.2 2064.8L1346 2003.1L1343 2001.4L1340 2001.4L1337 1999.3L1331 1901.9L1325 1901.9ZM387.8 1844.8L389 1802.5L392 1770.2L395 1776.8L398 1792L401 1798.2L407 1798.2L410 1815.5L413 1858.4L416 1877.8L419 1905.4L420.7 1959L425.6 2064.8L426.9 2163.3L425.4 2210.1L425.4 2255.5L419 2268.8L410 2278.7L404 2283.6L401 2289.7L398.8 2299.4L398.8 2342L306.7 2342L305.8 2299.4L302 2279.9L299 2272.9L293 2265.2L287 2261L281 2259.2L257 2255.8L256 2255.5L254 2251.6L248.8 2210.1L251 2202.5L254 2195.5L257 2172.3L257.3 2163.3L260 2139.9L263 2138.7L269 2138.1L272 2128.8L275 2114.1L281 2114.1L284 2120.8L287.3 2163.3L290 2189.6L293 2194.5L311 2194.5L320 2186.7L338 2186.7L341 2183.5L347 2145.8L350 2138.7L362 2138.7L365 2132.6L368 2117.7L374 2098.2L377 2084.5L380 2056L381.3 1959L383 1896.4ZM386 1925.6L384.2 1959L383.6 2064.8L385.5 2163.3L389 2220.7L392 2241.7L398 2255.5L407 2255.5L413 2242.3L416 2224.4L419.7 2163.3L421.6 2064.8L416 1943.7L410 1875.5L407 1856.9L404 1855L401 1854.8L398 1855.8L395 1857L392 1859.9ZM1701.9 1844.8L1706 1804.5L1715 1755.1L1718 1751.6L1724 1751.6L1727 1759.5L1730 1778.7L1736 1804.8L1739 1824.6L1741.1 1844.8L1742.5 1959L1733 2004.6L1729.8 2064.8L1727 2093.8L1724 2116.1L1721 2130.5L1700 2130.5L1697 2126.6L1694 2118.8L1691 2106.9L1688 2079.8L1687.1 2064.8L1688 2043L1691 2009.4L1694 1992.7L1697.6 1959L1700 1877.4ZM1715 1824.1L1713.3 1844.8L1712 1880.5L1703 2004.1L1700 2021.5L1694.8 2064.8L1697 2077.6L1700 2086.7L1721 2086.7L1724.7 2064.8L1727 1997.3L1729 1959L1727.5 1844.8L1724 1813.7L1718 1813.7ZM926 2064.8L947 2064.8L947 2255.5L950 2299.4L971 2299.4L971 2342L905 2342L905 2299.4L923 2299.4L926 2255.5ZM1535 2064.8L1550 2064.8L1550 2163.3L1535 2163.3ZM1588.9 2163.3L1592 2138.7L1634 2138.7L1637 2145.4L1640 2191.2L1643 2204.1L1645.9 2210.1L1643 2217.8L1637 2228.7L1634 2229.7L1607 2232L1595 2234.9L1589 2238L1586 2240.7L1583 2244.9L1580 2252.9L1577 2255.5L1565 2255.5L1562.9 2210.1L1583 2204.4L1586 2202ZM1657.3 2299.4L1658 2291.7L1661 2284.3L1676 2286.3L1678.1 2299.4L1678.1 2342L1657.3 2342Z" fill="#e5ffe5" stroke="#e5ffe5" stroke-width="0.6" fill-rule="evenodd"/>
<path d="M236 1584.5L278.1 1584.5L278 1720.8L281 1777.4L284 1806.3L287 1887.1L290 1912.7L320 1920.9L323 1839.2L326 1782.7L347 1782.7L350 1760.6L351.4 1720.6L350 1660.8L347 1652.5L323 1652.5L320 1584.5L352.3 1584.5L353 1617.2L356 1624.8L362 1603.1L365.6 1584.5L392.7 1584.5L398 1721.6L401 1736.1L407 1736.1L410 1739.6L413 1752.3L416 1762L422 1762L424.4 1720.6L425.4 1584.5L448.2 1584.5L452 1638.7L455 1645.4L458 1614.6L459.6 1584.5L492.9 1584.5L494 1616L497 1652.5L506 1652.5L509 1618.6L509.5 1584.5L512.6 1584.5L513.7 1720.6L513.7 1844.8L515 1888.3L518 1920.9L521 1933.3L525.1 1959L521 1999.9L518 2019.6L512 2046.1L506 2062.4L506 2071L509 2090.8L515 2119L521 2138.1L527 2151.9L533 2162.3L536 2132.8L539 2115.5L545 2128L551 2137.2L555.1 2163.3L554 2173.6L551 2188L542 2189.7L539 2189.3L536 2180.2L533 2163.9L512 2179.6L509 2183.7L506 2190.9L501.4 2210.1L501.4 2342L479.6 2342L479.6 2299.4L479 2292.2L476 2277.4L431 2277.7L422 2290.1L414 2299.4L414 2342L398.8 2342L398.8 2299.4L401 2289.7L404 2283.6L410 2278.7L419 2268.8L425.4 2255.5L425.4 2210.1L426.9 2163.3L425.6 2064.8L420.7 1959L419 1905.4L416 1877.8L413 1858.4L410 1815.5L407 1798.2L401 1798.2L398 1792L395 1776.8L392 1770.2L389 1802.5L387.8 1844.8L383 1896.4L381.3 1959L380 2056L377 2084.5L374 2098.2L368 2117.7L365 2132.6L362 2138.7L350 2138.7L347 2145.8L341 2183.5L338 2186.7L320 2186.7L311 2194.5L293 2194.5L290 2189.6L287.3 2163.3L284 2120.8L281 2114.1L275 2114.1L272 2128.8L269 2138.1L263 2138.7L260 2139.9L257.3 2163.3L257 2172.3L254 2195.5L251 2202.5L248.8 2210.1L254 2251.6L256 2255.5L284 2259.8L290 2262.7L293 2265.2L299 2272.9L302 2279.9L305.8 2299.4L306.7 2342L294.4 2342L293 2326.2L290 2311.9L286.8 2299.4L284 2293.3L281 2291.1L254 2286.4L245 2280.1L239 2272.8L236 2270.1ZM257 2018.2L254.5 2064.8L257 2096.2L260 2089.9L266 2089.5L269 2087.7L271.6 2064.8L269 2019.1L266 2016.1L260 2015.3ZM296 2033.5L294.4 2064.8L296 2100.6L299 2114.1L338 2114.1L341 2108.7L344 2098.3L347 2091.8L350 2089.5L362 2089.5L365.6 2064.8L365 2048.1L362 2015.6L320 2022.5L299 2020.2ZM734.2 1584.5L738.3 1584.5L744.5 1844.8L743 1959.5L737 2019L733.1 2064.8L733.1 2163.3L731.7 2210.1L734 2223.2L737 2232L740 2237L743 2240.3L749 2265L752 2273.1L755 2278.4L758 2287.2L760.2 2299.4L760.2 2342L626.3 2342L629 2314L632 2310L653 2309.4L656 2300.3L662 2277L671 2231.1L676.1 2210.1L677.6 2163.3L677.6 2064.8L680 2019.3L683 2003.9L722 1995L725 1986.5L726.8 1959L728 1911.2L731.7 1844.8ZM696.1 2163.3L693.2 2210.1L681.8 2255.5L683 2265.4L686 2278.8L689 2285.3L692 2289.1L695 2290.7L722 2298.5L725 2284L726.6 2255.5L726.9 2210.1L725 2135L722 2114.1L713 2114.1L710 2114.7L704 2128.1L701 2138.1ZM765 1584.5L766.5 1584.5L767.5 1720.6L767.6 1959L770 1989.8L773 2007.1L779 2007.1L782 2005.9L788 1985.3L839 1974.4L839.7 1959L839.7 1844.8L839 1823.8L836 1822.8L833 1785.2L831.4 1720.6L833.3 1584.5L841.4 1584.5L839 1656.3L836 1682.6L835.2 1720.6L836 1741L839 1741.2L842 1793.5L842.4 1959L842 1986.6L839 2034.7L788 2038.3L782 2045.2L779 2045.6L773 2045.6L770 2029L767 1993.3L765.6 1959ZM865.6 1720.6L869.5 1584.5L941.3 1584.5L944.1 1720.6L947 1798.2L962 1798.2L965 1788.6L968 1720.6L971.5 1584.5L1041.1 1584.5L1043 1652.3L1046 1669.8L1047.2 1720.6L1046 1806.6L1043 1820.7L1019 1831.2L995 1844.1L992 1943.8L988.9 1959L992 2006.7L993.4 2064.8L992 2080.9L989 2103.1L983 2136.1L980 2170.9L974.9 2210.1L974.9 2255.5L977 2266.4L989 2265.1L998 2264.8L1010 2266.3L1025 2270.1L1034 2265.4L1048.9 2255.5L1051.2 2210.1L1052 2163.3L1082 2163.3L1082 2064.8L1085 2063.6L1088 2003L1091 1987.2L1094 1986.2L1097 1967.6L1097.2 1959L1097.2 1844.8L1094.1 1720.6L1093.7 1584.5L1095.7 1584.5L1097 1738L1100 1810.8L1103 1844.8L1106 1844.8L1109 1744L1110.8 1584.5L1121.2 1584.5L1121 1590.8L1118 1615L1115 1653L1112.1 1720.6L1112.1 1959L1114.6 2064.8L1114.6 2210.1L1114 2255.5L1112 2276.4L1109 2288.8L1106 2291.6L1097 2294.7L1088 2299.3L1088 2342L1054.6 2342L1054.6 2299.4L1052 2287.5L1049 2284.7L1025 2289.6L998 2287.9L995 2288.8L992 2290.9L983.4 2299.4L983.4 2342L971 2342L971 2299.4L950 2299.4L947 2255.5L947 2064.8L926 2064.8L926 2255.5L923 2299.4L905 2299.4L905 2342L881.7 2342L881.7 2299.4L884 2283L887 2276.5L896 2272.3L899 2264.4L905 2226.7L906.4 2210.1L906.4 2163.3L911 2093.3L912.1 2064.8L911 2025.3L908 1994.3L869 1994.3L864.7 1844.8ZM971 1791.8L968 1882.9L965 1885.1L962 1935.9L961.4 1959L962 1980.5L965 2027.5L968 2029.6L980 2029.6L983 2016.6L984.3 1959L986 1923.8L989 1890.7L991 1844.8L989 1772.9L986 1762L974 1762ZM1175.7 1584.5L1178.9 1584.5L1179 1720.6L1181 1793L1183.3 1844.8L1187 1872.3L1190 1887.5L1193 1878.6L1196 1860L1197.4 1844.8L1199 1814.1L1201.8 1720.6L1202.6 1584.5L1216.8 1584.5L1214 1635.9L1211 1672.6L1208 1698.8L1205 1718.5L1201.9 1844.8L1199 1893.7L1196 1907.9L1193 1914.2L1190 1917.7L1187 1907.2L1184 1892.7L1181 1869.4L1178.8 1844.8L1175.6 1720.6ZM1297.3 1584.5L1320.1 1584.5L1319 1623.2L1316 1652.5L1301 1652.5L1298 1610.1ZM1348.6 1584.5L1362.9 1584.5L1361 1638.3L1358 1652.5L1352 1652.5L1349 1600.5ZM1379.4 1584.5L1411.9 1584.5L1409 1660.3L1406 1666.1L1400 1666.1L1397.1 1720.6L1399.9 1844.8L1397 1920.2L1394 1894.4L1391 1882.7L1388 1881.7L1385 1874.5L1382.8 1844.8L1380 1720.6ZM1563.9 1584.5L1752 1584.5L1752 2011.9L1739.4 2064.8L1736 2071.2L1733 2081.7L1727 2142.4L1723.6 2163.3L1724 2235L1727 2255L1730 2287.7L1733 2294L1736 2296.3L1752 2299.4L1752 2342L1678.1 2342L1678.1 2299.4L1676 2286.3L1661 2284.3L1658 2291.7L1657.3 2299.4L1657.3 2342L1630.7 2342L1630.7 2299.4L1628 2288.5L1625 2281.6L1592 2284L1589 2285.8L1586 2289.2L1580 2298.2L1578.2 2299.4L1578.2 2342L1535.6 2342L1535.6 2299.4L1535 2295.9L1532 2291.6L1529 2288.7L1523 2285L1514 2288.7L1511 2285.7L1508 2281.2L1505 2270.8L1502 2266.8L1493 2263.2L1481 2257.2L1478.7 2255.5L1472 2246.9L1466 2240.9L1463 2228.5L1461.6 2210.1L1460 2200.1L1457 2198L1454 2197.1L1451 2173.5L1448 2126.3L1442 2124.6L1439 2117.6L1436.4 2064.8L1438.1 1959L1442 1895L1445 1890.5L1463 1890.5L1466 1885.1L1469 1859.9L1472 1843.2L1481 1829.1L1490 1817.9L1493 1819.1L1496 1823.1L1499 1824.1L1508 1824.1L1511 1820L1514 1813.7L1520 1813.7L1523 1815.2L1529 1833.3L1535 1857.7L1538 1859.3L1541.4 1844.8L1544 1818.1L1547 1798.7L1550 1785.8L1553 1779.9L1562 1770.5L1563.9 1720.6ZM1577 1702.2L1575.6 1720.6L1572.7 1844.8L1574 1959L1592 1959L1595 1955.4L1598 1945.5L1601 1931.8L1604 1911.4L1607 1878L1608.8 1844.8L1607 1816.4L1601 1678.4L1598 1649.9L1595 1634.7L1592 1632.8L1586 1647.7L1583 1659.2L1580 1675.9ZM1703 1830.6L1700 1877.4L1697.6 1959L1694 1992.7L1691 2009.4L1688 2043L1687.1 2064.8L1688 2079.8L1691 2106.9L1694 2118.8L1697 2126.6L1700 2130.5L1721 2130.5L1724 2116.1L1727 2093.8L1729.8 2064.8L1733 2004.6L1742.5 1959L1741.1 1844.8L1739 1824.6L1736 1804.8L1730 1778.7L1727 1759.5L1724 1751.6L1718 1751.6L1715 1755.1L1706 1804.5ZM1469 1941.2L1467.3 1959L1466 2041.3L1464 2064.8L1469 2129L1472 2140.6L1499 2162.8L1502 2183.7L1505 2193.8L1507.1 2210.1L1511 2255.5L1514 2261.8L1516.7 2255.5L1520 2237.1L1522.4 2210.1L1521.1 2163.3L1521.1 2064.8L1523 2025.6L1526 2009.1L1532 1988L1535 1982.1L1544 1970.5L1550 1960.7L1553 1959L1550 1955.8L1547 1948.9L1544 1945L1538 1940.6L1535 1936.9L1529 1923.4L1523 1904.2L1520 1882.1L1517 1870.9L1514 1870.2L1505 1870.2L1502 1870.8L1499 1875.8L1493 1891.9L1484 1905.1L1472 1920ZM1589 2161.4L1586 2202L1583 2204.4L1562.9 2210.1L1565 2255.5L1577 2255.5L1580 2252.9L1583 2244.9L1586 2240.7L1589 2238L1595 2234.9L1607 2232L1634 2229.7L1637 2228.7L1643 2217.8L1645.9 2210.1L1643 2204.1L1640 2191.2L1637 2145.4L1634 2138.7L1592 2138.7ZM1535 2064.8L1535 2163.3L1550 2163.3L1550 2064.8ZM1322 1913.8L1325 1901.9L1331 1901.9L1337 1999.3L1340 2001.4L1343 2001.4L1346 2003.1L1349.2 2064.8L1348.6 2163.3L1346 2199.2L1343.9 2210.1L1340 2216.6L1337.2 2210.1L1334 2193.2L1331 2185.7L1328 2181.2L1325 2178.2L1322 2176.6L1313 2175.7L1310 2171.8L1307.3 2163.3L1308.2 2064.8L1310 2017.7L1313 2001.4L1316 2001.4L1319 1981.2ZM1157.8 2299.4L1160 2294L1163 2283.3L1166 2279L1178 2274.1L1187 2268.4L1190 2268L1205 2268.4L1208 2272.5L1211 2280.3L1214 2300.1L1217 2313.2L1221.4 2342L1207.7 2342L1206.5 2299.4L1205 2294.2L1202 2293.1L1187 2293.2L1166 2295.3L1164 2299.4L1164 2342L1157.8 2342ZM1415.6 2299.4L1418 2283.4L1421 2272.9L1448 2269.3L1451 2279.1L1452.6 2299.4L1452.6 2342L1415.6 2342Z" fill="#ccffcc" stroke="#ccffcc" stroke-width="0.6" fill-rule="evenodd"/>
<path d="M392.7 1584.5L425.4 1584.5L424.4 1720.6L422 1762L416 1762L413 1752.3L410 1739.6L407 1736.1L401 1736.1L398 1721.6ZM492.9 1584.5L509.5 1584.5L509 1618.6L506 1652.5L497 1652.5L494 1616ZM738.3 1584.5L742.1 1584.5L747.4 1844.8L745.9 1959L742.1 2064.8L742.1 2163.3L743 2177.8L746 2203.7L752 2229.7L755 2233.9L767 2237.3L782 2240.2L797 2238L815 2233.5L818 2230.4L821.4 2210.1L818 2189.3L815 2186L812 2185.1L806 2176.5L800 2163.3L797 2148.3L791 2129.2L788 2122.6L782 2112.4L779 2108L773 2101.3L770 2072.7L767 2035.2L763.8 1959L763.8 1844.8L762.2 1584.5L765 1584.5L765.6 1959L767 1993.3L770 2029L773 2045.6L782 2045.2L788 2038.3L839 2034.7L842 1986.6L842.4 1959L842 1793.5L839 1741.2L836 1741L835.2 1720.6L836 1682.6L839 1656.3L841.4 1584.5L869.5 1584.5L865.6 1720.6L864.7 1844.8L869 1994.3L908 1994.3L911 2025.3L912.1 2064.8L911 2093.3L906.4 2163.3L906.4 2210.1L905 2226.7L899 2264.4L896 2272.3L887 2276.5L884 2283L881.7 2299.4L881.7 2342L760.2 2342L760.2 2299.4L758 2287.2L755 2278.4L752 2273.1L749 2265L743 2240.3L740 2237L737 2232L734 2223.2L731.7 2210.1L733.1 2163.3L733.1 2064.8L737 2019L743 1959.5L744.5 1844.8ZM845 1836.5L845 1967.7L848 1991.4L851 2005.8L854 2008.5L857 1997.7L860 1981.9L862.2 1959L859.7 1844.8L857 1821.8L854 1805.6L851 1796.6L848 1812.4ZM1095.7 1584.5L1098.4 1584.5L1100 1629.9L1106 1629.9L1107.5 1584.5L1110.8 1584.5L1109 1744L1106 1844.8L1103 1844.8L1100 1810.8L1097 1738ZM1178.9 1584.5L1181.4 1584.5L1181.6 1720.6L1184 1787.3L1188 1844.8L1190 1857.4L1192.7 1844.8L1196 1802L1199.2 1720.6L1199.6 1584.5L1202.6 1584.5L1201.8 1720.6L1199 1814.1L1197.4 1844.8L1196 1860L1193 1878.6L1190 1887.5L1187 1872.3L1183.3 1844.8L1181 1793L1179 1720.6ZM1575.6 1720.6L1577 1702.2L1580 1675.9L1583 1659.2L1586 1647.7L1592 1632.8L1595 1634.7L1598 1649.9L1601 1678.4L1607 1816.4L1608.8 1844.8L1607 1878L1604 1911.4L1601 1931.8L1598 1945.5L1595 1955.4L1592 1959L1574 1959L1572.7 1844.8ZM971 1791.8L974 1762L986 1762L989 1772.9L991 1844.8L989 1890.7L986 1923.8L984.3 1959L983 2016.6L980 2029.6L968 2029.6L965 2027.5L962 1980.5L961.4 1959L962 1935.9L965 1885.1L968 1882.9ZM1467.3 1959L1469 1941.2L1472 1920L1484 1905.1L1493 1891.9L1499 1875.8L1502 1870.8L1505 1870.2L1514 1870.2L1517 1870.9L1520 1882.1L1523 1904.2L1529 1923.4L1535 1936.9L1538 1940.6L1544 1945L1547 1948.9L1550 1955.8L1553 1959L1550 1960.7L1544 1970.5L1535 1982.1L1532 1988L1526 2009.1L1523 2025.6L1521.1 2064.8L1521.1 2163.3L1522.4 2210.1L1520 2237.1L1516.7 2255.5L1514 2261.8L1511 2255.5L1507.1 2210.1L1505 2193.8L1502 2183.7L1499 2162.8L1472 2140.6L1469 2129L1464 2064.8L1466 2041.3ZM1499 1937.7L1496.1 1959L1499 2011.7L1502 2030.7L1505 2033.6L1514 2037.2L1517 2032.6L1520.2 1959L1517 1923.1L1514 1921L1505 1921L1502 1922.8ZM254.5 2064.8L257 2018.2L260 2015.3L266 2016.1L269 2019.1L271.6 2064.8L269 2087.7L266 2089.5L260 2089.9L257 2096.2ZM294.4 2064.8L296 2033.5L299 2020.2L320 2022.5L362 2015.6L365 2048.1L365.6 2064.8L362 2089.5L350 2089.5L347 2091.8L344 2098.3L341 2108.7L338 2114.1L299 2114.1L296 2100.6ZM1739.4 2064.8L1752 2011.9L1752 2089.5L1736 2117.6L1733 2137.7L1730.4 2163.3L1730.4 2210.1L1733.2 2255.5L1736 2268.8L1742 2272.7L1752 2277.4L1752 2299.4L1736 2296.3L1733 2294L1730 2287.7L1727 2255L1724 2235L1723.6 2163.3L1727 2142.4L1733 2081.7L1736 2071.2ZM696.1 2163.3L701 2138.1L704 2128.1L710 2114.7L713 2114.1L722 2114.1L725 2135L726.9 2210.1L726.6 2255.5L725 2284L722 2298.5L695 2290.7L692 2289.1L689 2285.3L686 2278.8L683 2265.4L681.8 2255.5L693.2 2210.1ZM236 2270.1L239 2272.8L245 2280.1L254 2286.4L281 2291.1L284 2293.3L286.8 2299.4L293 2326.2L294.4 2342L236 2342ZM414 2299.4L422 2290.1L431 2277.7L476 2277.4L479 2292.2L479.6 2299.4L479.6 2342L414 2342ZM983.4 2299.4L992 2290.9L995 2288.8L998 2287.9L1025 2289.6L1049 2284.7L1052 2287.5L1054.6 2299.4L1054.6 2342L983.4 2342ZM1164 2299.4L1166 2295.3L1187 2293.2L1202 2293.1L1205 2294.2L1206.5 2299.4L1207.7 2342L1164 2342ZM1578.2 2299.4L1580 2298.2L1583 2293.3L1589 2285.8L1592 2284L1625 2281.6L1628 2288.5L1630.7 2299.4L1630.7 2342L1578.2 2342Z" fill="#b3ffb3" stroke="#b3ffb3" stroke-width="0.6" fill-rule="evenodd"/>
<path d="M742.1 1584.5L762.2 1584.5L763.8 1844.8L763.8 1959L767 2035.2L770 2072.7L773 2101.3L779 2108L782 2112.4L788 2122.6L791 2129.2L797 2148.3L800 2163.3L806 2176.5L812 2185.1L815 2186L818 2189.3L821.4 2210.1L818 2230.4L815 2233.5L800 2237.3L785 2240L782 2240.2L773 2238.6L755 2233.9L752 2229.7L746 2203.7L743 2177.8L742.1 2163.3L742.1 2064.8L745.9 1959L747.4 1844.8ZM752 1708.2L750.9 1720.6L752.4 1844.8L746 2064.8L746 2163.3L752 2184.2L755 2190.1L758 2193.2L761 2191L764 2187.1L767 2177.8L769.2 2163.3L767 2135.7L764.9 2064.8L761 2001.3L759.5 1959L759.5 1844.8L758.1 1720.6L755 1690.3ZM1098.4 1584.5L1107.5 1584.5L1106 1629.9L1100 1629.9ZM1181.4 1584.5L1183.3 1584.5L1184.1 1720.6L1187 1768.2L1190 1804.1L1193 1776.8L1196 1739.4L1196.7 1720.6L1197.5 1584.5L1199.6 1584.5L1199 1726L1196 1802L1192.7 1844.8L1190 1857.4L1188 1844.8L1184 1787.3L1181.6 1720.6ZM845 1836.5L848 1812.4L851 1796.6L854 1805.6L857 1821.8L859.7 1844.8L862.2 1959L860 1981.9L857 1997.7L854 2008.5L851 2005.8L848 1991.4L845 1967.7ZM1496.1 1959L1499 1937.7L1502 1922.8L1505 1921L1514 1921L1517 1923.1L1520.2 1959L1517 2032.6L1514 2037.2L1505 2033.6L1502 2030.7L1499 2011.7ZM1730.4 2163.3L1733 2137.7L1736 2117.6L1752 2089.5L1752 2138.7L1736.4 2163.3L1736.4 2210.1L1752 2255.5L1752 2277.4L1742 2272.7L1736 2268.8L1733.2 2255.5L1730.4 2210.1Z" fill="#66ff66" stroke="#66ff66" stroke-width="0.6" fill-rule="evenodd"/>
<path d="M750.9 1720.6L752 1708.2L755 1690.3L758.1 1720.6L759.5 1844.8L759.5 1959L761 2001.3L764.9 2064.8L767 2135.7L769.2 2163.3L767 2177.8L764 2187.1L761 2191L758 2193.2L755 2190.1L752 2184.2L746 2163.3L746 2064.8L752.4 1844.8ZM1183.3 1584.5L1186.2 1584.5L1187 1653.8L1188.7 1720.6L1190 1734.1L1191.8 1720.6L1193 1684.6L1194.8 1584.5L1197.5 1584.5L1196.7 1720.6L1196 1739.4L1193 1776.8L1190 1804.1L1187 1768.2L1184.1 1720.6ZM1736.4 2163.3L1752 2138.7L1752 2255.5L1736.4 2210.1Z" fill="#33ff33" stroke="#33ff33" stroke-width="0.6" fill-rule="evenodd"/>
<path d="M1186.2 1584.5L1194.8 1584.5L1193 1684.6L1191.8 1720.6L1190 1734.1L1188.7 1720.6L1187 1653.8Z" fill="#00f000" stroke="#00f000" stroke-width="0.6" fill-rule="evenodd"/>
<path d="M238.8 1721.7L250.2 1741.7M249.4 1733.9L250.2 1741.7L243.9 1737.1M280.1 1741.7L284.4 1753.1M284.7 1748L284.4 1753.1L280.8 1749.4M311.5 1743.1L321.4 1760.2M320.6 1752.4L321.4 1760.2L315.1 1755.6M389.8 1743.1L419.7 1774.4M417.1 1767.1L419.7 1774.4L412.5 1771.5M409.8 1700.4C412.4 1706.1 419.5 1722 425.4 1734.5C431.4 1747.1 442 1769 445.4 1775.9M445.1 1768.1L445.4 1775.9L439.4 1770.8M409.8 1674.7C415.2 1682.8 431.8 1708.9 442.5 1723.1C453.2 1737.4 468.6 1754 473.9 1760.2M471.7 1752.7L473.9 1760.2L466.8 1756.8M455.3 1689C459.9 1695.6 475.3 1715.1 482.4 1728.8C489.5 1742.6 495.5 1764.5 498.1 1771.6M498.6 1763.8L498.1 1771.6L492.6 1766M483.8 1711.8C486.4 1716.5 494 1732.9 499.5 1740.2C505 1747.6 513.7 1753.3 516.6 1755.9M513.5 1748.8L516.6 1755.9L509.2 1753.4M502.4 1706.1C505.7 1708.4 515.6 1717.4 522.3 1720.3C528.9 1723.2 538.9 1723.1 542.2 1723.7M535.8 1719.4L542.2 1723.7L534.7 1725.6M679 1754.5C673.8 1754 659 1756.9 647.7 1751.6C636.3 1746.4 622 1730.7 610.6 1723.1C599.2 1715.6 586.9 1705.6 579.3 1706.1C571.7 1706.5 568.1 1717.5 565 1726C561.9 1734.5 561.5 1752.1 560.8 1757.3M564.9 1750.7L560.8 1757.3L558.6 1749.8M626.3 1743.1C621.3 1739.8 604.7 1726.9 596.4 1723.1C588.1 1719.3 581.7 1718.4 576.4 1720.3C571.2 1722.2 567.5 1730 565 1734.5C562.6 1739.1 562.2 1745.2 561.6 1747.4M566.5 1741.3L561.6 1747.4L560.4 1739.7M716 1711.8C708 1714.6 680.4 1729.3 667.6 1728.8C654.8 1728.4 650.7 1719.3 639.1 1708.9C627.5 1698.5 604.7 1673.3 597.8 1666.2M600.5 1673.5L597.8 1666.2L605 1669.1M253.1 1822.9L280.1 1868.4M279.2 1860.7L280.1 1868.4L273.8 1863.9M291.5 1808.6L308.6 1881.3M310.1 1873.6L308.6 1881.3L303.9 1875.1M315.7 1824.3C318.4 1828.3 324.8 1844 331.4 1848.5C338.1 1853 351.6 1850.9 355.6 1851.4M348.9 1847.4L355.6 1851.4L348.2 1853.7M341.4 1840C344.9 1840.7 356.6 1840.9 362.8 1844.2C368.9 1847.6 375.8 1857.3 378.4 1859.9M375.6 1852.6L378.4 1859.9L371.1 1857.1M387 1828.6L402.6 1861.3M402.4 1853.5L402.6 1861.3L396.7 1856.3M399.8 1817.2C404.1 1821.9 416.2 1837.6 425.4 1845.7C434.7 1853.7 450.4 1862.3 455.3 1865.6M451.2 1859L455.3 1865.6L447.7 1864.3M429.7 1824.3C434.2 1828.3 448.5 1840.4 456.8 1848.5C465.1 1856.6 475.8 1868.7 479.6 1872.7M477 1865.4L479.6 1872.7L472.4 1869.7M481 1827.1L495.2 1862.7M495.5 1855L495.2 1862.7L489.6 1857.3M520.9 1852.8L520.9 1838.5M518.4 1844L520.9 1838.5L523.3 1844M553.6 1845.7L547.9 1808.6M545.9 1816.1L547.9 1808.6L552.2 1815.2M553.6 1845.7L545.1 1822.9M544.6 1830.6L545.1 1822.9L550.6 1828.4M696.1 1837.1C689 1840.2 670 1854.4 653.4 1855.6C636.7 1856.8 613 1846.1 596.4 1844.2C579.8 1842.3 560.8 1844.2 553.6 1844.2M560.8 1847.4L553.6 1844.2L560.8 1841.1M723.2 1810C716.3 1815 693.5 1833.5 681.8 1840C670.2 1846.4 667.6 1849.2 653.4 1848.5C639.1 1847.8 611.1 1838.3 596.4 1835.7C581.7 1833.1 570.3 1833.3 565 1832.8M571.8 1836.6L565 1832.8L572.4 1830.3M257.3 1965.3C259.2 1964.1 264.5 1958.9 268.7 1958.2C273 1957.5 280.6 1960.6 283 1961M276.6 1956.5L283 1961L275.4 1962.8M287.3 1931.1C288.9 1934.4 294.6 1943.8 297.2 1951.1C299.8 1958.4 302 1971 302.9 1975M304.4 1967.3L302.9 1975L298.2 1968.8M329.1 1959.6L333.7 1959.6M331 1958.4L333.7 1959.6L331 1960.8M362.8 1951.1L364.2 1966.7M366.3 1960.5L364.2 1966.7L361 1961M402.6 1948.2L385.5 1969.6M392.5 1966L385.5 1969.6L387.5 1962M419.7 1959.6L432.6 1959.6M427.6 1957.4L432.6 1959.6L427.6 1961.8M448.2 1969.6L465.3 1946.8M458.5 1950.6L465.3 1946.8L463.6 1954.4M492.4 1965.3L488.1 1951.1M487.3 1957.3L488.1 1951.1L492.2 1955.8M525.1 1971L522.3 1942.5M519.8 1949.9L522.3 1942.5L526.2 1949.3M587.8 1952.5C582.1 1953.4 562.7 1957.5 553.6 1958.2C544.6 1958.9 538.7 1959.1 533.7 1956.8C528.7 1954.4 525.4 1946.1 523.7 1943.9M525.6 1951.5L523.7 1943.9L530.6 1947.6M684.7 1938.2C679.5 1941.3 668.1 1952.7 653.4 1956.8C638.6 1960.8 614.7 1960.1 596.4 1962.5C578.1 1964.8 552.4 1969.6 543.7 1971M551.2 1973L543.7 1971L550.2 1966.7M726 1945.4L696.1 1968.2M703.7 1966.4L696.1 1968.2L699.8 1961.3M255.9 2063.3C258.1 2063.5 264.9 2063.5 268.7 2064.7C272.5 2065.9 277 2069.4 278.7 2070.4M274.1 2064.1L278.7 2070.4L270.9 2069.6M291.5 2050.4L307.2 2080.4M306.7 2072.6L307.2 2080.4L301.1 2075.5M330.8 2071.8L331.4 2059M329 2063.8L331.4 2059L333.4 2064M371.3 2054.7L352.8 2074.7M360 2071.6L352.8 2074.7L355.3 2067.3M436.8 2080.4C434.9 2077.5 430.7 2066.8 425.4 2063.3C420.2 2059.7 412.6 2057.1 405.5 2059C398.4 2060.9 386.5 2072 382.7 2074.7M390.4 2073.2L382.7 2074.7L386.8 2068M458.2 2077.5L456.8 2053.3M454 2060.6L456.8 2053.3L460.4 2060.2M491 2080.4L485.3 2050.4M483.5 2058L485.3 2050.4L489.7 2056.8M593.5 2051.9C586.9 2053.8 564.6 2061.1 553.6 2063.3C542.7 2065.4 534.4 2066.6 528 2064.7C521.6 2062.8 517.3 2054 515.2 2051.9M518 2059.1L515.2 2051.9L522.5 2054.7M529.4 2074.7C527.8 2072.3 521.8 2064.2 519.4 2060.4C517.1 2056.6 515.9 2053.3 515.2 2051.9M515.5 2059.7L515.2 2051.9L521.2 2056.8M726 1955C718.6 1960.2 697.7 1977.8 681.8 1986.3C665.9 1994.9 639.1 2003 630.6 2006.3M638.3 2006.7L630.6 2006.3L636 2000.7M659 2036.2C651 2041.7 625.1 2059.2 610.6 2069C596.1 2078.7 578.6 2090.3 572.2 2094.6M579.8 2093.3L572.2 2094.6L576.3 2088M726 2020.5C718.6 2026.2 696.3 2040.9 681.8 2054.7C667.4 2068.5 649.6 2088.4 639.1 2103.1C628.7 2117.9 622.5 2136.4 619.2 2143M625.2 2138.1L619.2 2143L619.5 2135.2M590.7 1965C586.9 1966.2 575.7 1970.8 567.9 1972.1C560 1973.4 547.7 1972.6 543.7 1972.7M550.9 1975.7L543.7 1972.7L550.7 1969.3M254.5 2161.6C256.9 2161.8 264.7 2161.3 268.7 2163C272.8 2164.6 277 2170.1 278.7 2171.5M275.4 2164.5L278.7 2171.5L271.2 2169.3M294.4 2151.6L305.8 2172.9M305.2 2165.2L305.8 2172.9L299.6 2168.2M330 2164.4L333.1 2163M330.1 2163L333.1 2163L331.1 2165.2M374.1 2153L351.4 2174.4M358.7 2171.8L351.4 2174.4L354.4 2167.2M438.3 2194.3C436.6 2189.6 433.3 2172 428.3 2165.8C423.3 2159.7 416.6 2155.9 408.3 2157.3C400 2158.7 383.4 2171.5 378.4 2174.4M386.2 2173.6L378.4 2174.4L383 2168.1M458.2 2171.5L458.2 2157.3M455.8 2162.7L458.2 2157.3L460.6 2162.7M482.4 2168.7L495.2 2158.7M488.6 2160.3L495.2 2158.7L492 2164.7M528 2158.7L515.2 2167.3M521.6 2166.2L515.2 2167.3L518.6 2161.8M590.7 2143C586.9 2145.9 576.4 2156.1 567.9 2160.1C559.3 2164.2 548.2 2163.2 539.4 2167.3C530.6 2171.3 519.2 2181.5 515.2 2184.3M522.8 2182.8L515.2 2184.3L519.2 2177.6M633.4 2125.9C630.6 2131.6 621.3 2146.8 616.3 2160.1C611.3 2173.4 605.6 2198.1 603.5 2205.7M608.5 2199.7L603.5 2205.7L602.4 2198M663.3 2123.1C660.7 2129.3 651 2146.4 647.7 2160.1C644.3 2173.9 644.1 2198.1 643.4 2205.7M647.2 2198.9L643.4 2205.7L640.9 2198.3M700.4 2133.1C696.8 2138.5 684.2 2154.7 679 2165.8C673.8 2177 670.7 2194.3 669 2200M674.1 2194.1L669 2200L668 2192.3M704.6 2154.4C706.1 2156.3 709.6 2163.2 713.2 2165.8C716.7 2168.4 723.9 2169.4 726 2170.1M720.2 2164.8L726 2170.1L718.2 2170.9M261.6 2214.3L274.4 2207.1M268.3 2207.7L274.4 2207.1L270.7 2212.1M297.2 2211.4L302.4 2208.6M299.4 2208.8L302.4 2208.6L300.6 2211M327.1 2207.1L334.3 2214.3M332.7 2210.3L334.3 2214.3L330.3 2212.7M374.1 2200L351.4 2221.4M358.7 2218.8L351.4 2221.4L354.4 2214.2M439.7 2242.7C437.8 2237.5 433.5 2217.8 428.3 2211.4C423.1 2205 416.9 2202.9 408.3 2204.3C399.8 2205.7 382.2 2217.3 377 2220M384.8 2219.6L377 2220L382 2213.9M458.2 2218.5L457.3 2201.4M454.7 2208.1L457.3 2201.4L460.6 2207.9M481 2220L498.1 2205.7M490.6 2207.8L498.1 2205.7L494.6 2212.7M526.6 2202.9L515.2 2217.1M522 2213.6L515.2 2217.1L517.1 2209.7M583.5 2192.9C580.9 2195 575.2 2202.2 567.9 2205.7C560.5 2209.3 547.2 2210.2 539.4 2214.3C531.6 2218.3 524 2227.3 520.9 2229.9M528.4 2227.7L520.9 2229.9L524.3 2222.9M620.6 2177.2C619.9 2182.9 616.8 2200.5 616.3 2211.4C615.8 2222.3 617.5 2237.5 617.7 2242.7M620.6 2235.5L617.7 2242.7L614.2 2235.8M644.8 2205.7C645.3 2208.6 645.8 2218.3 647.7 2222.8C649.6 2227.3 654.8 2231.1 656.2 2232.8M654 2225.3L656.2 2232.8L649.2 2229.4M673.3 2202.9L683.3 2215.7M681.6 2209.1L683.3 2215.7L677.2 2212.5M687.5 2220C691.3 2218.1 703.9 2212.4 710.3 2208.6C716.7 2204.8 723.4 2199.1 726 2197.2M718.4 2198.8L726 2197.2L722.1 2203.9M268.7 2262.7L267.3 2249.9M265.7 2255L267.3 2249.9L270 2254.5M295.8 2264.1L302.9 2249.9M297.8 2254.1L302.9 2249.9L302.6 2256.6M327.1 2252.7L334.3 2261.3M333 2256.8L334.3 2261.3L330.1 2259.2M374.1 2245.6L351.4 2267M358.7 2264.4L351.4 2267L354.4 2259.8M439.7 2281.2C437.8 2277.2 433.5 2262 428.3 2257C423.1 2252 417.4 2249.9 408.3 2251.3C399.3 2252.7 379.8 2263.2 374.1 2265.5M381.9 2265.7L374.1 2265.5L379.5 2259.9M458.2 2265.5L458.2 2247M455 2254.1L458.2 2247L461.4 2254.1M478.1 2262.7L500.9 2254.1M493.1 2253.7L500.9 2254.1L495.4 2259.6M525.1 2245.6L515.2 2264.1M521.3 2259.3L515.2 2264.1L515.8 2256.3M580.7 2238.5C579.5 2240.8 580.5 2248.9 573.6 2252.7C566.7 2256.5 547.9 2257.5 539.4 2261.3C530.8 2265.1 525.1 2273.1 522.3 2275.5M529.8 2273.4L522.3 2275.5L525.7 2268.5M580.7 2238.5C581.2 2241.6 581.9 2252 583.5 2257C585.2 2262 589.5 2266.5 590.7 2268.4M589.6 2260.7L590.7 2268.4L584.2 2264M607.8 2234.2C609.2 2239 612.3 2256.3 616.3 2262.7C620.3 2269.1 629.4 2271 632 2272.7M627.7 2266.2L632 2272.7L624.3 2271.5M626.3 2232.8C629.8 2237.3 639.8 2253.9 647.7 2259.8C655.5 2265.8 669 2267 673.3 2268.4M667.5 2263.1L673.3 2268.4L665.5 2269.1M653.4 2244.2C657.1 2246.3 667.6 2257 676.1 2257C684.7 2257 699.9 2246.3 704.6 2244.2M696.8 2244.2L704.6 2244.2L699.4 2250M690.4 2268.4L726 2242.7M718.4 2244.3L726 2242.7L722.1 2249.5M270.2 2315.4L265.9 2284.1M263.7 2291.5L265.9 2284.1L270 2290.7M300.1 2312.5L300.1 2288.3M296.9 2295.5L300.1 2288.3L303.2 2295.5M328.6 2292.6L334.3 2306.9M334.5 2300.4L334.3 2306.9L329.6 2302.4M374.1 2291.2L352.8 2311.1M360.2 2308.6L352.8 2311.1L355.8 2303.9M405.5 2295.5L384.1 2305.4M391.9 2305.3L384.1 2305.4L389.2 2299.5M434 2315.4C432.6 2312.3 429 2301.2 425.4 2296.9C421.9 2292.6 414.7 2290.9 412.6 2289.8M417.3 2296L412.6 2289.8L420.4 2290.4M459.6 2316.8L458.2 2282.6M455.3 2289.9L458.2 2282.6L461.7 2289.6M485.3 2309.7L493.8 2291.2M487.9 2296.3L493.8 2291.2L493.7 2299M523.7 2291.2L516.6 2309.7M522.1 2304.2L516.6 2309.7L516.2 2301.9M577.9 2288.3C576.2 2289.8 573.3 2295 567.9 2296.9C562.4 2298.8 552.2 2296.6 545.1 2299.7C538 2302.8 528.5 2312.8 525.1 2315.4M532.7 2313.5L525.1 2315.4L528.8 2308.5M577.9 2288.3C579 2290.2 582.1 2296.4 585 2299.7C587.8 2303.1 593.3 2306.9 594.9 2308.3M591.6 2301.2L594.9 2308.3L587.5 2306M602.1 2294C604.9 2295.2 614.4 2300 619.2 2301.2C623.9 2302.3 628.7 2301.2 630.6 2301.2M623.4 2298L630.6 2301.2L623.4 2304.3M624.9 2301.2C629.6 2300.9 646.7 2300.4 653.4 2299.7C660 2299 662.8 2297.4 664.7 2296.9M657.1 2295.5L664.7 2296.9L658.6 2301.7M664.7 2305.4L690.4 2292.6M682.6 2293L690.4 2292.6L685.4 2298.6M696.1 2311.1L721.7 2289.8M714.2 2291.9L721.7 2289.8L718.3 2296.8M267.3 2343.9L265.9 2326.8M263.5 2333.6L265.9 2326.8L269.4 2333.1M300.1 2343.9L299.5 2331.1M297.5 2336.1L299.5 2331.1L301.9 2335.9M458.2 2343.9L457.3 2323.9M454.5 2331.2L457.3 2323.9L460.8 2330.9M362.8 2343.9L374.1 2333.9M368.1 2335.8L374.1 2333.9L371.5 2339.7M396.9 2342.5L408.3 2338.2M403.2 2337.9L408.3 2338.2L404.7 2341.8M411.2 2331.1L422.6 2338.2M419.4 2333.5L422.6 2338.2L417 2337.4M577.9 2338.2L576.4 2331.1M575.8 2334L576.4 2331.1L578.2 2333.6M661.9 2343L690.4 2333.9M682.6 2333.1L690.4 2333.9L684.6 2339.1M525.1 2343.9L519.4 2331.1M519.4 2337L519.4 2331.1L523.8 2335M491 2343.9L495.2 2333.9M491.9 2337L495.2 2333.9L495.3 2338.5M696.1 2343L721.7 2333.9M713.9 2333.3L721.7 2333.9L716.1 2339.3M737.4 1691.8L744.5 1747.4M746.8 1739.9L744.5 1747.4L740.5 1740.7M740.2 1664.7C744.5 1671.2 759.5 1689.7 765.9 1703.2C772.3 1716.7 776.1 1732.4 778.7 1745.9C781.3 1759.5 781.1 1778 781.6 1784.4M784.2 1777.1L781.6 1784.4L777.9 1777.5M790.1 1687.5C792.2 1693 797 1710.6 802.9 1720.3C808.9 1730 821.9 1741.7 825.7 1745.9M823.4 1738.5L825.7 1745.9L818.6 1742.7M818.6 1676.1C823.6 1680.7 839.7 1691 848.5 1703.2C857.3 1715.4 867.5 1741.7 871.3 1749.4M871 1741.6L871.3 1749.4L865.3 1744.4M861.3 1677.6C865.4 1684.2 876.3 1703.4 885.5 1717.5C894.8 1731.5 911.7 1754.2 916.9 1761.6M915.3 1754L916.9 1761.6L910.2 1757.6M855.6 1654.8C860.6 1662.4 874.9 1688.5 885.5 1700.4C896.2 1712.2 908.8 1718.5 919.7 1726C930.7 1733.5 945.8 1742.1 951.1 1745.4M946.7 1738.9L951.1 1745.4L943.3 1744.3M904.1 1690.4C910.5 1693.5 930.4 1701.5 942.5 1708.9C954.6 1716.3 965.3 1725.8 976.7 1734.5C988.1 1743.3 1005.2 1757.1 1010.9 1761.6M1007.3 1754.7L1010.9 1761.6L1003.3 1759.7M934 1679C939.7 1683 958.7 1692.5 968.2 1703.2C977.7 1713.9 984.3 1730 991 1743.1C997.6 1756.1 1005.2 1775.1 1008.1 1781.6M1008.1 1773.8L1008.1 1781.6L1002.3 1776.3M949.6 1674.7C955.1 1678.5 972.2 1689.9 982.4 1697.5C992.6 1705.1 1001.4 1714.1 1010.9 1720.3C1020.4 1726.5 1031.1 1731.3 1039.4 1734.5C1047.7 1737.8 1057.2 1738.8 1060.8 1739.7M1054.6 1734.9L1060.8 1739.7L1053.1 1741.1M968.2 1679C972.9 1682.5 984.8 1693.5 996.7 1700.4C1008.5 1707.2 1025.1 1715.1 1039.4 1720.3C1053.6 1725.5 1070.3 1728.5 1082.1 1731.7C1094 1734.9 1105.9 1738.3 1110.6 1739.7M1104.6 1734.7L1110.6 1739.7L1102.9 1740.8M1005.2 1696.1C1013.3 1698.7 1036.1 1706.3 1053.6 1711.8C1071.2 1717.2 1094 1724.5 1110.6 1728.8C1127.2 1733.2 1146.2 1736.4 1153.4 1738M1147 1733.4L1153.4 1738L1145.7 1739.6M1030.8 1696.1C1039.4 1698.7 1064.1 1706.8 1082.1 1711.8C1100.2 1716.7 1123.9 1722.4 1139.1 1726C1154.3 1729.6 1167.6 1731.9 1173.3 1733.1M1167 1728.6L1173.3 1733.1L1165.7 1734.8M1106.3 1706.1C1114.2 1708 1138.4 1713.3 1153.4 1717.5C1168.3 1721.6 1189 1728.8 1196.1 1731.1M1190.3 1725.9L1196.1 1731.1L1188.3 1732M1119.2 1696.1C1127.2 1698.2 1152.4 1701.8 1167.6 1708.9C1182.8 1716 1203.2 1733.8 1210.3 1738.8M1206.3 1732.1L1210.3 1738.8L1202.7 1737.3M1161.9 1697.5C1167.6 1699.4 1185.4 1704.6 1196.1 1708.9C1206.8 1713.2 1221 1720.8 1226 1723.1M1220.9 1717.2L1226 1723.1L1218.2 1722.9M1187.5 1697.5L1226 1714.6M1220.8 1708.8L1226 1714.6L1218.2 1714.6M743.1 1802.9C742.9 1811.5 743.3 1840.2 741.7 1854.2C740 1868.2 734.5 1881.5 733.1 1887M738 1880.9L733.1 1887L731.9 1879.3M778.7 1785.8C778 1793.4 776.3 1809.8 774.4 1831.4C772.5 1853 768.5 1901.4 767.3 1915.5M771.1 1908.6L767.3 1915.5L764.8 1908.1M811.5 1814.3C810.5 1818.6 809.6 1830.2 805.8 1840C802 1849.7 791.5 1867.3 788.7 1872.7M794.8 1867.9L788.7 1872.7L789.2 1864.9M817.2 1820C818.6 1823.8 820.5 1840 825.7 1842.8C830.9 1845.7 841.6 1836.2 848.5 1837.1C855.4 1838.1 863.9 1846.6 867 1848.5M862.6 1842.1L867 1848.5L859.3 1847.5M847.1 1810C853 1815 870.1 1828.8 882.7 1840C895.3 1851.1 915.9 1870.8 922.6 1877M919.5 1869.8L922.6 1877L915.2 1874.5M868.5 1804.3C874.1 1809.3 887.9 1823.3 902.6 1834.3C917.4 1845.2 947.7 1863.9 956.8 1869.9M952.6 1863.3L956.8 1869.9L949.1 1868.6M908.3 1818.6C915 1821.7 937.8 1830.2 948.2 1837.1C958.7 1844 964.4 1850.2 971 1859.9C977.7 1869.6 985.3 1889.6 988.1 1895.5M987.9 1887.7L988.1 1895.5L982.2 1890.5M971 1805.8C974.3 1811 984.5 1823.6 991 1837.1C997.4 1850.6 1006.4 1878.7 1009.5 1887M1010 1879.2L1009.5 1887L1004 1881.4M1008.1 1835.7C1010 1837.3 1013 1845.9 1019.4 1845.7C1025.9 1845.4 1042 1836.2 1046.5 1834.3M1038.7 1834.1L1046.5 1834.3L1041.2 1839.9M1005.2 1842.8C1007.6 1846.6 1011.4 1864.6 1019.4 1865.6C1027.5 1866.5 1040.8 1854.2 1053.6 1848.5C1066.5 1842.8 1084.5 1833.8 1096.4 1831.4C1108.2 1829 1120.1 1833.8 1124.9 1834.3M1118.1 1830.4L1124.9 1834.3L1117.5 1836.7M1136.3 1848.5L1167.6 1841.4M1159.9 1839.9L1167.6 1841.4L1161.4 1846.1M1159 1852.8C1162.8 1851.4 1173.3 1845.9 1181.8 1844.2C1190.4 1842.6 1205.6 1843 1210.3 1842.8M1203.1 1840L1210.3 1842.8L1203.4 1846.3M768.7 1975C771.1 1967.7 778 1942.9 783 1931.1C788 1919.3 796 1908.6 798.6 1904.1M792.3 1908.6L798.6 1904.1L797.8 1911.8M804.3 1951.1C804.6 1953.4 799.8 1965.8 805.8 1965.3C811.7 1964.8 828.3 1949.9 840 1948.2C851.6 1946.6 869.6 1954.2 875.6 1955.3M869.2 1950.8L875.6 1955.3L868 1957.1M828.6 1955.3C832.8 1954.6 846.4 1951.1 854.2 1951.1C862 1951.1 872 1954.6 875.6 1955.3M869.2 1950.8L875.6 1955.3L868 1957.1M872.7 1935.4C879.1 1938 897.7 1944.7 911.2 1951.1C924.7 1957.5 946.8 1970.1 953.9 1973.9M949.1 1967.7L953.9 1973.9L946.1 1973.3M915.5 1938.2C921.9 1940.9 944.2 1947.8 953.9 1953.9C963.7 1960 970.5 1971.5 973.9 1975M971.3 1967.6L973.9 1975L966.7 1972M993.8 1975C994.3 1970.1 996.4 1954.1 996.7 1945.4C996.9 1936.6 995.5 1926.4 995.2 1922.6M992.5 1929.9L995.2 1922.6L998.8 1929.5M1022.3 1958.2L1027.4 1959.6M1025.1 1957.7L1027.4 1959.6L1024.5 1960.1M1055.1 1975C1055.8 1970.1 1057 1953.2 1059.3 1945.4C1061.7 1937.6 1067.6 1931.1 1069.3 1928.3M1063 1932.8L1069.3 1928.3L1068.5 1936M1083.5 1975C1085.2 1969.6 1085.2 1949.1 1093.5 1942.5C1101.8 1935.9 1126.8 1936.6 1133.4 1935.4M1125.8 1933.5L1133.4 1935.4L1127 1939.8M1150.5 1945.4L1153.4 1963.9M1155.4 1956.4L1153.4 1963.9L1149.1 1957.3M1187.5 1963.9L1181.8 1955.3M1182.6 1959.6L1181.8 1955.3L1185.5 1957.6M1193.2 1975C1196.1 1972.4 1204.9 1962.4 1210.3 1959.6C1215.8 1956.8 1223.4 1958.4 1226 1958.2M1218.6 1955.7L1226 1958.2L1219.2 1962M768.7 1955C767.8 1959.7 763.5 1972.8 763 1983.5C762.6 1994.2 765.4 2013.2 765.9 2019.1M768.5 2011.7L765.9 2019.1L762.2 2012.3M740.2 1992C739.3 1995.4 736.9 2006.5 734.5 2012C732.2 2017.4 727.4 2022.7 726 2024.8M732.6 2020.6L726 2024.8L727.3 2017.1M874.1 1955C882.7 1956.9 911.2 1962.1 925.4 1966.4C939.7 1970.7 951.1 1974 959.6 1980.6C968.2 1987.3 973.9 2002 976.7 2006.3M975.4 1998.6L976.7 2006.3L970.1 2002.1M925.4 1955C930.2 1956.9 946.8 1961.6 953.9 1966.4C961 1971.1 964.1 1976.8 968.2 1983.5C972.2 1990.1 976.5 2002.5 978.1 2006.3M978.2 1998.5L978.1 2006.3L972.4 2001M993.8 1955C993.3 1958.8 991.9 1970.7 991 1977.8C990 1984.9 988.6 1994.4 988.1 1997.7M992.3 1991.1L988.1 1997.7L986 1990.2M1056.5 1963.5L1055.1 1992M1058.6 1985.1L1055.1 1992L1052.2 1984.8M1090.7 1955C1089.5 1959.7 1084.5 1973.5 1083.5 1983.5C1082.6 1993.5 1084.7 2009.6 1085 2014.8M1087.8 2007.6L1085 2014.8L1081.5 2007.9M743.1 2037.6C742.9 2042.8 741.4 2059.9 741.7 2069C741.9 2078 744 2088 744.5 2091.8M746.8 2084.3L744.5 2091.8L740.5 2085.1M774.4 2041.9C775.1 2046.4 772.5 2065.4 778.7 2069C784.9 2072.5 798.9 2064.2 811.5 2063.3C824.1 2062.3 847.1 2063.3 854.2 2063.3M847.1 2060.1L854.2 2063.3L847.1 2066.4M825.7 2060.4C835.2 2061.1 865.1 2062.1 882.7 2064.7C900.3 2067.3 923.1 2074.2 931.1 2076.1M924.9 2071.4L931.1 2076.1L923.5 2077.5M874.1 2051.9C882.7 2054.2 912.1 2061.4 925.4 2066.1C938.7 2070.9 945.8 2073.7 953.9 2080.4C962 2087 970.5 2101.7 973.9 2106M972 2098.4L973.9 2106L967 2102.3M922.6 2046.2C927.8 2048.5 946.3 2054.7 953.9 2060.4C961.5 2066.1 964.4 2072.8 968.2 2080.4C972 2088 975.3 2101.7 976.7 2106M977.5 2098.2L976.7 2106L971.4 2100.2M1006.6 2030.5C1004.5 2036 997.4 2051.6 993.8 2063.3C990.2 2074.9 986.7 2094.1 985.3 2100.3M990 2094.1L985.3 2100.3L983.8 2092.6M1049.4 2049C1045.8 2050.9 1033.5 2056.1 1028 2060.4C1022.5 2064.7 1019.7 2069.7 1016.6 2074.7C1013.5 2079.6 1010.7 2087.7 1009.5 2090.3M1015.3 2085.2L1009.5 2090.3L1009.5 2082.5M1076.4 2080.4C1072.6 2078 1060.5 2067.8 1053.6 2066.1C1046.8 2064.4 1038.2 2069.7 1035.1 2070.4M1042.8 2071.9L1035.1 2070.4L1041.3 2065.7M1096.4 2106C1095.4 2099.8 1094.7 2082.3 1090.7 2069C1086.6 2055.7 1075.2 2033.3 1072.2 2026.2M1072.1 2034L1072.2 2026.2L1077.9 2031.5M1099.2 2081.8C1101.1 2078.7 1105.4 2065.4 1110.6 2063.3C1115.8 2061.1 1124.9 2065.6 1130.6 2069C1136.3 2072.3 1142.4 2080.8 1144.8 2083.2M1142 2075.9L1144.8 2083.2L1137.5 2080.4M1149.1 2043.3C1149.8 2047.6 1152.9 2061.8 1153.4 2069C1153.8 2076.1 1152.2 2083.2 1151.9 2086.1M1155.7 2079.2L1151.9 2086.1L1149.4 2078.7M1187.5 2080.4C1186.6 2077 1184.7 2064.7 1181.8 2060.4C1179 2056.1 1172.3 2055.7 1170.4 2054.7M1175.4 2060.7L1170.4 2054.7L1178.2 2055.1M1187.5 2080.4C1190.4 2077.5 1198.9 2065.2 1204.6 2063.3C1210.3 2061.4 1218.2 2066.6 1221.7 2069C1225.3 2071.3 1225.3 2076.1 1226 2077.5M1225.7 2069.7L1226 2077.5L1220 2072.6M726 2170.1C728.8 2168.9 737.9 2165.1 743.1 2163C748.3 2160.8 755 2158.2 757.3 2157.3M749.5 2157L757.3 2157.3L751.9 2162.9M755.9 2181.5C759 2178.9 768.3 2171.3 774.4 2165.8C780.6 2160.4 789.9 2151.6 793 2148.7M785.6 2151.2L793 2148.7L789.9 2155.9M763 2202.9C766.4 2198.6 774.9 2183.9 783 2177.2C791.1 2170.6 797.9 2166.5 811.5 2163C825 2159.4 855.4 2157 864.2 2155.9M856.7 2153.7L864.2 2155.9L857.5 2160M814.3 2172.9C821.9 2171.8 846.1 2168.9 859.9 2165.8C873.7 2162.7 886.7 2156.8 896.9 2154.4C907.1 2152.1 917.1 2152.1 921.2 2151.6M913.7 2149.3L921.2 2151.6L914.5 2155.6M884.1 2165.8C888.6 2164.9 900.5 2158.2 911.2 2160.1C921.9 2162 938.7 2170.6 948.2 2177.2C957.7 2183.9 964.8 2196.2 968.2 2200M965.9 2192.6L968.2 2200L961.1 2196.7M925.4 2143C930.2 2145.9 946.8 2153.5 953.9 2160.1C961 2166.8 964.6 2175.8 968.2 2182.9C971.7 2190 974.1 2199.5 975.3 2202.9M975.9 2195.1L975.3 2202.9L969.9 2197.2M1006.6 2135.9C1005 2139.9 1000.5 2150.9 996.7 2160.1C992.9 2169.4 986 2186.2 983.8 2191.5M989.5 2186.1L983.8 2191.5L983.6 2183.7M1043.7 2135.9C1041.1 2139.9 1033 2150.4 1028 2160.1C1023 2169.9 1016.1 2188.6 1013.7 2194.3M1019.4 2189L1013.7 2194.3L1013.6 2186.5M1142 2123.1C1143.4 2128.3 1148.4 2140.7 1150.5 2154.4C1152.6 2168.2 1154.1 2197.2 1154.8 2205.7M1157.3 2198.3L1154.8 2205.7L1151 2198.9M1184.7 2168.7C1184.2 2165.4 1183.7 2153.5 1181.8 2148.7C1179.9 2144 1174.7 2141.6 1173.3 2140.2M1176.1 2147.5L1173.3 2140.2L1180.6 2143M1096.4 2177.2C1094.9 2174.4 1091.4 2163.9 1087.8 2160.1C1084.3 2156.3 1077.1 2155.4 1075 2154.4M1080.2 2160.2L1075 2154.4L1082.8 2154.4M1096.4 2177.2C1091.6 2174.8 1076 2164.9 1067.9 2163C1059.8 2161.1 1054.1 2162 1047.9 2165.8C1041.8 2169.6 1033.7 2182.4 1030.8 2185.8M1037.9 2182.4L1030.8 2185.8L1033.1 2178.3M1096.4 2177.2C1098.7 2174.4 1104.9 2161.6 1110.6 2160.1C1116.3 2158.7 1124.6 2164.4 1130.6 2168.7C1136.5 2172.9 1143.6 2182.9 1146.2 2185.8M1143.8 2178.4L1146.2 2185.8L1139.1 2182.7M1190.4 2154.4C1192.8 2154 1199.9 2149.2 1204.6 2151.6C1209.4 2154 1215.8 2161.1 1218.9 2168.7C1222 2176.3 1222.4 2192.4 1223.2 2197.2M1225.2 2189.6L1223.2 2197.2L1219 2190.6M726 2200L740.2 2197.2M734.3 2195.8L740.2 2197.2L735.3 2200.7M726 2221.4C728.8 2219.2 738.1 2212.1 743.1 2208.6C748.1 2205 753.8 2201.4 755.9 2200M748.2 2201.3L755.9 2200L751.7 2206.6M757.3 2235.6C760.2 2231.6 768 2219.5 774.4 2211.4C780.8 2203.3 792.2 2191.2 795.8 2187.2M788.7 2190.4L795.8 2187.2L793.5 2194.6M783 2234.2C786.8 2229.5 797.2 2212.6 805.8 2205.7C814.3 2198.8 826.4 2195.7 834.3 2192.9C842.1 2190 849.7 2189.3 852.8 2188.6M845.1 2187.1L852.8 2188.6L846.6 2193.3M838.5 2237.1C843.5 2231.8 857.8 2213.8 868.5 2205.7C879.1 2197.6 896.9 2191.5 902.6 2188.6M894.8 2189L902.6 2188.6L897.7 2194.6M894.1 2211.4C899.3 2210.5 915.5 2203.8 925.4 2205.7C935.4 2207.6 946.3 2217.1 953.9 2222.8C961.5 2228.5 968.2 2237.1 971 2239.9M968.2 2232.6L971 2239.9L963.7 2237.1M938.3 2192.9C941.8 2195 954.2 2200.3 959.6 2205.7C965.1 2211.2 968.2 2219.5 971 2225.7C973.9 2231.8 975.8 2239.9 976.7 2242.7M977.5 2235L976.7 2242.7L971.4 2237M1003.8 2200C1001.6 2201.9 994 2207.6 991 2211.4C987.9 2215.2 986.2 2220.9 985.3 2222.8M991.3 2217.9L985.3 2222.8L985.6 2215M1035.1 2191.5C1033.5 2194.8 1027.8 2204.5 1025.1 2211.4C1022.5 2218.3 1020.4 2229.2 1019.4 2232.8M1024.3 2226.7L1019.4 2232.8L1018.2 2225.1M1079.3 2215.7C1075 2214.5 1060.8 2208.3 1053.6 2208.6C1046.5 2208.8 1039.4 2215.7 1036.5 2217.1M1044.3 2216.8L1036.5 2217.1L1041.5 2211.1M1096.4 2217.1C1094.9 2215.7 1090.7 2210.5 1087.8 2208.6C1085 2206.7 1080.7 2206.2 1079.3 2205.7M1085 2211L1079.3 2205.7L1087 2205M1096.4 2217.1C1098.7 2215.7 1104.9 2208.6 1110.6 2208.6C1116.3 2208.6 1125.1 2213.5 1130.6 2217.1C1136 2220.7 1141.2 2227.8 1143.4 2229.9M1140.6 2222.6L1143.4 2229.9L1136.1 2227.1M1144.8 2205.7C1146.2 2209 1151.2 2219 1153.4 2225.7C1155.5 2232.3 1156.9 2242.3 1157.6 2245.6M1159.2 2238L1157.6 2245.6L1153 2239.3M1186.1 2239.9C1185.4 2235.2 1183.7 2220 1181.8 2211.4C1179.9 2202.9 1175.9 2192.4 1174.7 2188.6M1173.8 2196.4L1174.7 2188.6L1179.9 2194.5M1210.3 2191.5C1211.3 2194.8 1214.8 2204.8 1216 2211.4C1217.2 2218.1 1217.2 2228 1217.5 2231.4M1220.1 2224L1217.5 2231.4L1213.8 2224.5M726 2242.7C728.8 2241.3 738.3 2236.6 743.1 2234.2C747.8 2231.8 752.6 2229.5 754.5 2228.5M746.7 2228.9L754.5 2228.5L749.5 2234.5M726 2265.5C728.4 2263.6 735.5 2257.7 740.2 2254.1C745 2250.6 752.1 2245.8 754.5 2244.2M746.8 2245.7L754.5 2244.2L750.5 2250.9M763 2279.8C764.9 2275.5 770.6 2262 774.4 2254.1C778.2 2246.3 783.9 2236.3 785.8 2232.8M779.7 2237.6L785.8 2232.8L785.3 2240.6M793 2282.6C795.6 2276.9 803.9 2257.2 808.6 2248.4C813.4 2239.7 819.3 2233 821.4 2229.9M814.8 2234L821.4 2229.9L820 2237.6M827.1 2276.9C829.3 2272.2 835.9 2255.3 840 2248.4C844 2241.6 849.5 2237.8 851.4 2235.6M844.3 2238.8L851.4 2235.6L849 2243.1M859.9 2276.9C861.8 2272.7 867.5 2258.2 871.3 2251.3C875.1 2244.4 880.8 2238.2 882.7 2235.6M875.9 2239.5L882.7 2235.6L881.1 2243.3M874.1 2282.6C876 2279.3 879.4 2267.9 885.5 2262.7C891.7 2257.5 902.6 2252.2 911.2 2251.3C919.7 2250.3 932.6 2256 936.8 2257M930.6 2252.4L936.8 2257L929.2 2258.5M919.7 2254.1C924.5 2255.6 941.1 2259.4 948.2 2262.7C955.3 2266 960.1 2272.2 962.5 2274.1M958.9 2267.2L962.5 2274.1L954.9 2272.1M945.4 2237.1C947.7 2239.4 955.3 2244.2 959.6 2251.3C963.9 2258.4 969.1 2275 971 2279.8M971.3 2272L971 2279.8L965.4 2274.3M992.4 2211.4C992.4 2216.2 992.6 2231.1 992.4 2239.9C992.1 2248.7 991.2 2260.1 991 2264.1M994.5 2257.2L991 2264.1L988.2 2256.8M1022.3 2251.3L1028 2261.3M1027.5 2256.5L1028 2261.3L1024.1 2258.4M1056.5 2262.7L1056.5 2251.3M1054.5 2255.7L1056.5 2251.3L1058.4 2255.7M1096.4 2259.8L1083.5 2252.7M1087.3 2257.6L1083.5 2252.7L1089.7 2253.3M1096.4 2259.8C1099.2 2258.7 1108.2 2252.7 1113.5 2252.7C1118.7 2252.7 1123.4 2256.3 1127.7 2259.8C1132 2263.4 1137.2 2271.7 1139.1 2274.1M1137.1 2266.5L1139.1 2274.1L1132.2 2270.5M1147.7 2239.9C1148.6 2244.6 1151.9 2260.3 1153.4 2268.4C1154.8 2276.5 1155.7 2285 1156.2 2288.3M1158.3 2280.8L1156.2 2288.3L1152.1 2281.7M1179 2239.9C1179.9 2243.7 1183.5 2255.6 1184.7 2262.7C1185.9 2269.8 1185.9 2279.3 1186.1 2282.6M1188.8 2275.3L1186.1 2282.6L1182.4 2275.8M1210.3 2242.7L1218.9 2268.4M1219.6 2260.6L1218.9 2268.4L1213.6 2262.6M730.3 2311.1L751.6 2289.8M744.4 2292.6L751.6 2289.8L748.8 2297M768.7 2316.8L777.3 2282.6M772.5 2288.8L777.3 2282.6L778.6 2290.3M805.8 2325.4L807.2 2275.5M803.8 2282.5L807.2 2275.5L810.2 2282.7M835.7 2322.5L841.4 2276.9M837.4 2283.6L841.4 2276.9L843.6 2284.4M864.2 2319.7L872.7 2282.6M868 2288.9L872.7 2282.6L874.2 2290.3M878.4 2319.7C881.5 2316.3 889.1 2303.5 896.9 2299.7C904.8 2295.9 920.7 2297.4 925.4 2296.9M918 2294.4L925.4 2296.9L918.7 2300.7M911.2 2296.9C915.9 2297.8 932.1 2300.2 939.7 2302.6C947.3 2305 953.9 2309.7 956.8 2311.1M951.8 2305.1L956.8 2311.1L949 2310.8M959.6 2291.2L966.7 2309.7M967.1 2301.9L966.7 2309.7L961.2 2304.2M993.8 2325.4L995.2 2285.5M991.8 2292.5L995.2 2285.5L998.1 2292.7M1022.3 2322.5L1032.3 2285.5M1027.4 2291.5L1032.3 2285.5L1033.5 2293.2M1057.9 2311.1L1056.5 2285.5M1053.7 2292.8L1056.5 2285.5L1060 2292.4M1096.4 2296.9L1085 2301.2M1090.1 2301.5L1085 2301.2L1088.6 2297.6M1099.2 2296.9C1102.5 2297.4 1113 2296.6 1119.2 2299.7C1125.3 2302.8 1133.4 2312.8 1136.3 2315.4M1133.1 2308.2L1136.3 2315.4L1128.9 2312.9M1149.1 2288.3L1154.8 2314M1156.3 2306.3L1154.8 2314L1150.1 2307.7M1183.3 2322.5L1181.8 2281.2M1178.9 2288.4L1181.8 2281.2L1185.3 2288.2M1214.6 2305.4L1217.5 2286.9M1213.2 2293.5L1217.5 2286.9L1219.5 2294.4M745.9 2336.8L751.6 2331.1M748.5 2332.3L751.6 2331.1L750.4 2334.2M774.4 2343.9L775.9 2325.4M772.1 2332.2L775.9 2325.4L778.5 2332.7M805.8 2343.9L805.8 2319.7M802.6 2326.8L805.8 2319.7L808.9 2326.8M837.1 2343.9L838.5 2319.7M835 2326.6L838.5 2319.7L841.3 2327M868.5 2343.9L871.3 2325.4M867.1 2331.9L871.3 2325.4L873.4 2332.9M993.8 2343.9L995.2 2328.2M992 2334L995.2 2328.2L997.4 2334.5M1028 2343.9L1030.8 2325.4M1026.6 2331.9L1030.8 2325.4L1032.9 2332.9M1056.5 2343.9L1057.9 2331.1M1055.2 2335.7L1057.9 2331.1L1059.6 2336.2M1183.3 2343.9L1183.3 2325.4M1180.1 2332.5L1183.3 2325.4L1186.4 2332.5M1214.6 2343.9L1217.5 2329.6M1213.9 2334.6L1217.5 2329.6L1218.8 2335.6M1266 1721.7C1270.7 1722 1286.9 1722.7 1294.5 1723.1C1302.1 1723.6 1308.7 1724.3 1311.6 1724.6M1304.7 1720.8L1311.6 1724.6L1304.2 1727.1M1266 1717.5C1273.1 1717.7 1297.6 1717.7 1308.7 1718.9C1319.9 1720.1 1328.9 1723.6 1333 1724.6M1326.7 1719.9L1333 1724.6L1325.3 1726M1266 1666.2C1275.5 1667.1 1304.9 1667.6 1323 1671.9C1341 1676.1 1359.1 1680.4 1374.3 1691.8C1389.5 1703.2 1403.7 1725.5 1414.1 1740.2C1424.6 1755 1429.8 1767.5 1436.9 1780.1C1444.1 1792.7 1453.6 1809.8 1456.9 1815.7M1456.2 1808L1456.9 1815.7L1450.6 1811.1M1295.9 1619.2C1305.2 1622.2 1335.1 1629.4 1351.5 1637.7C1367.9 1646 1381.9 1654.8 1394.2 1669C1406.6 1683.3 1416 1705.6 1425.5 1723.1C1435 1740.7 1442.9 1756.9 1451.2 1774.4C1459.5 1792 1471.4 1819.5 1475.4 1828.6M1475.4 1820.8L1475.4 1828.6L1469.6 1823.4M1266 1697.5C1275.5 1698.5 1304.9 1698 1323 1703.2C1341 1708.4 1360 1717.9 1374.3 1728.8C1388.5 1739.8 1398 1756.4 1408.5 1768.7C1418.9 1781.1 1429.3 1795.1 1436.9 1802.9C1444.5 1810.8 1451.2 1813.6 1454 1815.7M1450.2 1808.9L1454 1815.7L1446.4 1814M1266 1711.8C1275.5 1712.7 1304 1711.8 1323 1717.5C1342 1723.1 1365.7 1736.4 1380 1745.9C1394.2 1755.4 1398 1763 1408.5 1774.4C1418.9 1785.8 1436.9 1807.7 1442.6 1814.3M1440.4 1806.8L1442.6 1814.3L1435.6 1811M1382.8 1590.7C1388 1596.6 1405.1 1609.9 1414.1 1626.3C1423.2 1642.7 1429.3 1669 1436.9 1689C1444.5 1708.9 1451.2 1726.9 1459.7 1745.9C1468.3 1764.9 1480.6 1786.3 1488.2 1802.9C1495.8 1819.5 1502.5 1838.5 1505.3 1845.7M1505.6 1837.9L1505.3 1845.7L1499.7 1840.2M1432.7 1600.6C1435.8 1610.6 1444.8 1641 1451.2 1660.5C1457.6 1679.9 1463.1 1698.5 1471.1 1717.5C1479.2 1736.4 1490.1 1756.4 1499.6 1774.4C1509.1 1792.5 1520 1812.9 1528.1 1825.7C1536.2 1838.5 1544.7 1847.1 1548.1 1851.4M1546.2 1843.8L1548.1 1851.4L1541.2 1847.7M1459.7 1586.4C1461.6 1594 1465.4 1614.9 1471.1 1632C1476.8 1649.1 1486.3 1670 1493.9 1689C1501.5 1708 1509.1 1726.9 1516.7 1745.9C1524.3 1764.9 1531.9 1787 1539.5 1802.9C1547.1 1818.8 1558.5 1835 1562.3 1841.4M1561.4 1833.6L1562.3 1841.4L1555.9 1836.9M1506.7 1594.9C1510.3 1603.5 1521.7 1628.2 1528.1 1646.2C1534.5 1664.3 1539.5 1684.2 1545.2 1703.2C1550.9 1722.2 1556.6 1741.2 1562.3 1760.2C1568 1779.2 1573.2 1800.5 1579.4 1817.2C1585.6 1833.8 1596 1852.8 1599.3 1859.9M1599.2 1852.1L1599.3 1859.9L1593.4 1854.8M1465.4 1745.9C1470.2 1754.5 1484.4 1780.6 1493.9 1797.2C1503.4 1813.8 1515.8 1833.8 1522.4 1845.7C1529.1 1857.5 1531.9 1864.6 1533.8 1868.4M1533.5 1860.7L1533.8 1868.4L1527.8 1863.5M1397.1 1770.2C1403.7 1775.6 1423.6 1789.9 1436.9 1802.9C1450.2 1816 1465.9 1839 1476.8 1848.5C1487.7 1858 1498.2 1858 1502.5 1859.9M1497.2 1854.1L1502.5 1859.9L1494.7 1859.9M1562.3 1617.7C1564.2 1629.6 1568.5 1665.2 1573.7 1689C1578.9 1712.7 1587 1738.8 1593.6 1760.2C1600.3 1781.6 1609.3 1802.9 1613.6 1817.2C1617.9 1831.4 1618.3 1840.9 1619.3 1845.7M1621 1838L1619.3 1845.7L1614.8 1839.3M1587.9 1627.7C1590.3 1635.5 1597.4 1663.1 1602.2 1674.7C1606.9 1686.3 1614.1 1693.7 1616.4 1697.5M1615.3 1689.8L1616.4 1697.5L1610 1693.1M1647.8 1765.9C1650.6 1769.2 1658.7 1780.8 1664.9 1785.8C1671 1790.8 1681.5 1794.1 1684.8 1795.8M1679.8 1789.8L1684.8 1795.8L1677 1795.4M1595.1 1787.3C1597.2 1792.2 1604.1 1807.4 1607.9 1817.2C1611.7 1826.9 1616.2 1840.9 1617.9 1845.7M1618.5 1837.9L1617.9 1845.7L1612.5 1840M1565.1 1640.5C1568.5 1653.3 1578 1695.1 1585.1 1717.5C1592.2 1739.8 1598.9 1757.3 1607.9 1774.4C1616.9 1791.5 1634 1812.4 1639.2 1820M1637.8 1812.3L1639.2 1820L1632.6 1815.9M1636.4 1811.5C1638.7 1816.2 1643 1832.1 1650.6 1840C1658.2 1847.8 1676.7 1855.4 1682 1858.5M1677.4 1852.1L1682 1858.5L1674.2 1857.6M1669.1 1835.7C1672.2 1836.9 1682.2 1838.8 1687.7 1842.8C1693.1 1846.8 1699.5 1857.1 1701.9 1859.9M1699.8 1852.4L1701.9 1859.9L1694.9 1856.5M1716.1 1825.7L1723.3 1862.7M1725 1855.2L1723.3 1862.7L1718.8 1856.4M1562.3 1780.1C1565.1 1788.7 1572.7 1818.1 1579.4 1831.4C1586 1844.7 1598.4 1855.2 1602.2 1859.9M1600.2 1852.4L1602.2 1859.9L1595.3 1856.3M1268.8 1822.9C1273.1 1825.7 1285.5 1835.2 1294.5 1840C1303.5 1844.7 1313.5 1848 1323 1851.4C1332.5 1854.7 1346.7 1858.5 1351.5 1859.9M1345.6 1854.8L1351.5 1859.9L1343.7 1860.9M1266 1841.4C1269.8 1844 1282.4 1853.3 1288.8 1857.1C1295.2 1860.8 1301.8 1863 1304.5 1864.2M1299.3 1858.3L1304.5 1864.2L1296.7 1864.1M1266 1848.5C1267.9 1849.7 1273.8 1853.3 1277.4 1855.6C1281 1858 1285.7 1861.6 1287.4 1862.7M1283.4 1856L1287.4 1862.7L1279.7 1861.2M1313 1835.7C1319.4 1836.4 1340.3 1838.8 1351.5 1840C1362.6 1841.1 1371.4 1841.4 1380 1842.8C1388.5 1844.2 1396.3 1845.4 1402.8 1848.5C1409.2 1851.6 1415.8 1859.2 1418.4 1861.3M1414.9 1854.4L1418.4 1861.3L1410.9 1859.3M1315.9 1830C1321.8 1830.7 1339.8 1833.3 1351.5 1834.3C1363.1 1835.2 1376.2 1833.3 1385.7 1835.7C1395.2 1838.1 1404.7 1846.4 1408.5 1848.5M1403.8 1842.2L1408.5 1848.5L1400.7 1847.8M1348.6 1802.9C1353.8 1803.2 1370 1801 1380 1804.3C1389.9 1807.7 1398 1813.6 1408.5 1822.9C1418.9 1832.1 1431.2 1847.1 1442.6 1859.9C1454 1872.7 1471.1 1893.1 1476.8 1899.8M1474.6 1892.3L1476.8 1899.8L1469.8 1896.4M1283.1 1894.1C1284 1900.3 1289.7 1917.6 1288.8 1931.1C1287.8 1944.6 1279.3 1967.7 1277.4 1975M1282.3 1968.9L1277.4 1975L1276.1 1967.3M1324.4 1902.6C1324.6 1908.8 1328.4 1927.6 1325.8 1939.7C1323.2 1951.7 1311.6 1969.1 1308.7 1975M1314.7 1970L1308.7 1975L1309 1967.2M1360 1922.6C1359.1 1927.3 1357.6 1942.3 1354.3 1951.1C1351 1959.8 1342.4 1971 1340.1 1975M1346.4 1970.5L1340.1 1975L1341 1967.3M1371.4 1902.6L1372 1960.2M1375.1 1953L1372 1960.2L1368.7 1953.1M1368.6 1961C1372.8 1960.6 1381.9 1958 1394.2 1958.2C1406.6 1958.4 1434.6 1961.8 1442.6 1962.5M1435.8 1958.7L1442.6 1962.5L1435.3 1965M1391.4 1959.6C1397.1 1959.1 1411.3 1954.9 1425.5 1956.8C1439.8 1958.7 1468.3 1968.6 1476.8 1971M1470.8 1966L1476.8 1971L1469.1 1972.2M1427 1943.9C1433.4 1946.1 1454.3 1951.6 1465.4 1956.8C1476.6 1961.9 1489.2 1972 1493.9 1975M1489.6 1968.5L1493.9 1975L1486.2 1973.8M1499.6 1939.7L1499.6 1975M1502.8 1967.9L1499.6 1975L1496.4 1967.9M1523.8 1962.5L1535.2 1956.8M1529.9 1957L1535.2 1956.8L1531.8 1960.9M1533.8 1975C1536.7 1972 1543.3 1960 1550.9 1956.8C1558.5 1953.5 1568.9 1953.2 1579.4 1955.3C1589.8 1957.5 1607.9 1967.2 1613.6 1969.6M1608.2 1963.9L1613.6 1969.6L1605.8 1969.8M1580.8 1931.1C1585.3 1933.5 1599.6 1938.1 1607.9 1945.4C1616.2 1952.7 1626.9 1970.1 1630.7 1975M1628.8 1967.4L1630.7 1975L1623.8 1971.3M1644.9 1959.6L1667.7 1953.9M1660 1952.6L1667.7 1953.9L1661.6 1958.7M1647.8 1971L1667.7 1965.3M1660 1964.2L1667.7 1965.3L1661.7 1970.3M1701.9 1975C1699.5 1972 1691.2 1962.7 1687.7 1956.8C1684.1 1950.9 1681.7 1942.5 1680.5 1939.7M1680.3 1947.5L1680.5 1939.7L1686.2 1945M1716.1 1975C1717.1 1971 1719 1956.2 1721.8 1951.1C1724.7 1945.9 1731.3 1945.1 1733.2 1943.9M1725.5 1945L1733.2 1943.9L1728.9 1950.4M1465.4 1859.9C1470.2 1864.6 1487.7 1878.9 1493.9 1888.4C1500.1 1897.9 1501 1912.1 1502.5 1916.9M1503.5 1909.1L1502.5 1916.9L1497.4 1911M1488.2 1862.7C1491.5 1868.4 1503.9 1885.5 1508.2 1896.9C1512.4 1908.3 1512.9 1925.4 1513.9 1931.1M1515.8 1923.6L1513.9 1931.1L1509.6 1924.6M1516.7 1865.6C1517.7 1869.4 1516.7 1882.2 1522.4 1888.4C1528.1 1894.6 1543.5 1899.5 1550.9 1902.6C1558.3 1905.7 1564 1906.2 1566.6 1906.9M1560.5 1902L1566.6 1906.9L1558.9 1908.1M1562.3 1882.7C1567.5 1886.5 1583.7 1900.3 1593.6 1905.5C1603.6 1910.7 1617.4 1912.6 1622.1 1914M1616.2 1908.9L1622.1 1914L1614.4 1915M1562.3 1859.9C1567.5 1866.1 1584.6 1886.3 1593.6 1896.9C1602.7 1907.6 1612.6 1919.5 1616.4 1924M1614.3 1916.5L1616.4 1924L1609.4 1920.6M1593.6 1854.2C1598.4 1859.9 1614.3 1879.4 1622.1 1888.4C1630 1897.4 1637.6 1905 1640.6 1908.3M1638.1 1901L1640.6 1908.3L1633.5 1905.3M1619.3 1845.7C1623.5 1850.4 1636.6 1867 1644.9 1874.1C1653.2 1881.3 1665.1 1886 1669.1 1888.4M1664.6 1882L1669.1 1888.4L1661.4 1887.5M1308.7 1977.8C1305.9 1981.1 1296.9 1992.3 1291.6 1997.7C1286.4 2003.2 1279.8 2008.4 1277.4 2010.6M1284.8 2008.1L1277.4 2010.6L1280.6 2003.4M1342.9 1955C1339.6 1958.8 1328 1971.6 1323 1977.8C1318 1984 1314.7 1989.7 1313 1992M1319.7 1988L1313 1992L1314.5 1984.4M1360 2012C1353.8 2018.2 1338.6 2035.7 1323 2049C1307.3 2062.3 1275.5 2084.6 1266 2091.8M1273.6 2090L1266 2091.8L1269.8 2084.9M1318.7 2086.1C1314.7 2089.9 1303.3 2101.7 1294.5 2108.8C1285.7 2116 1270.7 2125.5 1266 2128.8M1273.7 2127.3L1266 2128.8L1270 2122.1M1308.7 2145.9C1304.5 2149.7 1290.2 2162.5 1283.1 2168.7C1276 2174.8 1268.8 2180.5 1266 2182.9M1273.5 2180.8L1266 2182.9L1269.4 2175.9M1290.2 2211.4L1266 2228.5M1273.7 2227L1266 2228.5L1270 2221.8M1357.2 2160.1C1351.5 2166.3 1338.2 2180.8 1323 2197.2C1307.8 2213.5 1275.5 2248.2 1266 2258.4M1273.2 2255.4L1266 2258.4L1268.5 2251M1421.3 2140.2C1414.4 2143.5 1391.6 2153 1380 2160.1C1368.3 2167.3 1359.5 2176 1351.5 2182.9C1343.4 2189.8 1334.9 2198.4 1331.5 2201.4M1338.9 2198.9L1331.5 2201.4L1334.6 2194.3M1419.8 2180.1C1413.2 2183.9 1391.4 2194.8 1380 2202.9C1368.6 2210.9 1359.3 2220.7 1351.5 2228.5C1343.6 2236.3 1336 2246.3 1333 2249.9M1340 2246.6L1333 2249.9L1335.2 2242.4M1405.6 2222.8C1400.4 2228 1385.2 2243 1374.3 2254.1C1363.3 2265.3 1345.8 2283.8 1340.1 2289.8M1347.3 2286.8L1340.1 2289.8L1342.7 2282.4M1311.6 2264.1C1307.8 2267.7 1296.4 2279.3 1288.8 2285.5C1281.2 2291.7 1269.8 2298.5 1266 2301.2M1273.7 2299.7L1266 2301.2L1270.1 2294.5M1385.7 2282.6L1360 2315.4M1366.9 2311.7L1360 2315.4L1361.9 2307.8M1364.3 2274.1C1360.3 2277.9 1347.9 2288.8 1340.1 2296.9C1332.2 2305 1321.1 2318.2 1317.3 2322.5M1324.4 2319.3L1317.3 2322.5L1319.6 2315.1M1308.7 2308.3C1304.5 2312.5 1288.3 2328 1283.1 2333.9C1277.9 2339.9 1278.3 2342.2 1277.4 2343.9M1283.7 2339.3L1277.4 2343.9L1278.2 2336.1M1342.9 2308.3C1339.6 2311.1 1328.2 2319.4 1323 2325.4C1317.8 2331.3 1313.5 2340.8 1311.6 2343.9M1318 2339.5L1311.6 2343.9L1312.6 2336.2M1395.6 2069C1391.6 2068.2 1379.7 2062.5 1371.4 2064.7C1363.1 2066.8 1350 2078.9 1345.8 2081.8M1353.5 2080.5L1345.8 2081.8L1349.9 2075.2M1395.6 2069L1411.3 2064.7M1404.6 2063.6L1411.3 2064.7L1406 2069M1425.5 2070.4L1448.3 2061.8M1440.6 2061.4L1448.3 2061.8L1442.8 2067.3M1459.7 2069L1476.8 2061.8M1469.1 2061.7L1476.8 2061.8L1471.5 2067.5M1545.2 2087.5C1541.4 2083 1528.1 2065.4 1522.4 2060.4C1516.7 2055.4 1515.8 2055.7 1511 2057.6C1506.3 2059.5 1498.9 2066.1 1493.9 2071.8C1488.9 2077.5 1483.2 2088.4 1481.1 2091.8M1487.6 2087.5L1481.1 2091.8L1482.3 2084M1526.7 2064.7C1525 2062.5 1519.3 2055 1516.7 2051.9C1514.1 2048.8 1512 2047.1 1511 2046.2M1513.8 2053.5L1511 2046.2L1518.3 2049M1563.7 2106C1563.5 2099.8 1561.1 2078.9 1562.3 2069C1563.5 2059 1567.3 2052.3 1570.8 2046.2C1574.4 2040 1581.5 2034.3 1583.7 2031.9M1576.5 2035.1L1583.7 2031.9L1581.3 2039.3M1572.3 2094.6C1574.4 2090.3 1579.2 2074.9 1585.1 2069C1591 2063 1600.8 2061.6 1607.9 2059C1615 2056.4 1624.5 2054.2 1627.8 2053.3M1620.1 2052.2L1627.8 2053.3L1621.8 2058.3M1673.4 2086.1C1671 2082.3 1663 2070.9 1659.2 2063.3C1655.4 2055.7 1652 2044.3 1650.6 2040.5M1650.1 2048.3L1650.6 2040.5L1656.1 2046M1720.4 2088.9C1715.9 2085.6 1701.2 2074.7 1693.4 2069C1685.5 2063.3 1678.4 2060.2 1673.4 2054.7C1668.4 2049.3 1665.1 2039.3 1663.4 2036.2M1664 2044L1663.4 2036.2L1669.6 2041M1733.2 2108.8C1731.3 2101.2 1726.6 2074.2 1721.8 2063.3C1717.1 2052.3 1710.4 2048.1 1704.7 2043.3C1699 2038.6 1690.5 2036.2 1687.7 2034.8M1692.6 2040.8L1687.7 2034.8L1695.4 2035.1M1454 2163C1451.2 2162.7 1442.4 2160.8 1436.9 2161.6C1431.5 2162.3 1423.9 2166.3 1421.3 2167.3M1429.1 2167.8L1421.3 2167.3L1426.9 2161.8M1471.1 2160.1L1465.4 2167.3M1468.8 2165.5L1465.4 2167.3L1466.4 2163.5M1587.9 2197.2C1585.1 2192.4 1577 2175.3 1570.8 2168.7C1564.7 2162 1559 2158.9 1550.9 2157.3C1542.8 2155.6 1527.2 2158.5 1522.4 2158.7M1529.7 2161.5L1522.4 2158.7L1529.4 2155.2M1533.8 2151.6C1529.1 2152.1 1512.9 2150.2 1505.3 2154.4C1497.7 2158.7 1493 2170.3 1488.2 2177.2C1483.5 2184.1 1478.7 2192.7 1476.8 2195.7M1483.3 2191.3L1476.8 2195.7L1477.9 2188M1595.1 2182.9C1594.8 2179.1 1593.4 2166.3 1593.6 2160.1C1593.9 2154 1596 2148.3 1596.5 2145.9M1592 2152.2L1596.5 2145.9L1598.2 2153.5M1634.9 2175.8C1633.8 2173.7 1630.7 2167.3 1627.8 2163C1625 2158.7 1619.5 2152.3 1617.9 2150.2M1619.7 2157.7L1617.9 2150.2L1624.7 2153.8M1674.8 2171.5C1672.2 2170.1 1664.1 2166.3 1659.2 2163C1654.2 2159.7 1647.3 2153.5 1644.9 2151.6M1648.5 2158.5L1644.9 2151.6L1652.5 2153.6M1721.8 2177.2C1717.1 2175.3 1701.9 2168.7 1693.4 2165.8C1684.8 2163 1676.7 2162.7 1670.6 2160.1C1664.4 2157.5 1658.7 2151.8 1656.3 2150.2M1660.3 2156.8L1656.3 2150.2L1664 2151.6M1751.8 2211.4C1749.1 2204.8 1743.4 2181.5 1736.1 2171.5C1728.7 2161.6 1719.5 2157 1707.6 2151.6C1695.7 2146.1 1672 2140.9 1664.9 2138.8M1670.8 2143.8L1664.9 2138.8L1672.6 2137.8M1455.5 2204.3C1452.4 2205.2 1443.1 2207.6 1436.9 2210C1430.8 2212.4 1421.5 2217.1 1418.4 2218.5M1426.2 2218.4L1418.4 2218.5L1423.6 2212.7M1471.1 2202.9L1464 2217.1M1469.2 2212.9L1464 2217.1L1464.3 2210.4M1531 2192.9C1526.7 2194.6 1512.4 2197.9 1505.3 2202.9C1498.2 2207.8 1492.7 2216.4 1488.2 2222.8C1483.7 2229.2 1479.9 2238.2 1478.3 2241.3M1484.4 2236.6L1478.3 2241.3L1478.8 2233.5M1605 2224.2C1600.8 2221.6 1588.4 2211.4 1579.4 2208.6C1570.4 2205.7 1560.4 2205.7 1550.9 2207.1C1541.4 2208.6 1527.2 2215.4 1522.4 2217.1M1530.2 2217.7L1522.4 2217.1L1528.1 2211.8M1642.1 2227.1C1639.7 2224 1632.8 2214 1627.8 2208.6C1622.8 2203.1 1614.8 2196.7 1612.2 2194.3M1615.3 2201.5L1612.2 2194.3L1619.6 2196.8M1670.6 2212.8C1668.2 2211.9 1660.6 2208.3 1656.3 2207.1C1652 2205.9 1646.8 2205.9 1644.9 2205.7M1651.6 2209.7L1644.9 2205.7L1652.4 2203.4M1719 2218.5C1714.7 2217.1 1701.4 2211.9 1693.4 2210C1685.3 2208.1 1676.5 2207.6 1670.6 2207.1C1664.6 2206.7 1659.9 2207.1 1657.7 2207.1M1664.9 2210.3L1657.7 2207.1L1664.9 2204M1751.8 2242.7C1749.1 2238.5 1743.4 2223.8 1736.1 2217.1C1728.7 2210.5 1718.5 2206.2 1707.6 2202.9C1696.7 2199.5 1676.7 2198.1 1670.6 2197.2M1677.1 2201.4L1670.6 2197.2L1678.1 2195.1M1451.2 2245.6C1448.8 2247 1441.9 2250.8 1436.9 2254.1C1432 2257.5 1423.9 2263.6 1421.3 2265.5M1428.9 2263.9L1421.3 2265.5L1425.2 2258.8M1471.1 2245.6L1462.6 2264.1M1468.4 2259L1462.6 2264.1L1462.7 2256.3M1529.5 2235.6C1526 2237.3 1514.6 2241.1 1508.2 2245.6C1501.8 2250.1 1496.1 2255.8 1491.1 2262.7C1486.1 2269.6 1480.4 2282.9 1478.3 2286.9M1484.4 2282.1L1478.3 2286.9L1478.8 2279.1M1570.8 2247C1566.6 2247.3 1553.3 2246.3 1545.2 2248.4C1537.1 2250.6 1530.2 2254.6 1522.4 2259.8C1514.6 2265.1 1502.2 2276.5 1498.2 2279.8M1505.7 2277.7L1498.2 2279.8L1501.7 2272.8M1607.9 2262.7C1605.5 2261.5 1598.4 2257.5 1593.6 2255.6C1588.9 2253.7 1581.8 2252 1579.4 2251.3M1585.3 2256.4L1579.4 2251.3L1587.1 2250.3M1640.6 2267C1638 2264.8 1630.2 2257.7 1625 2254.1C1619.8 2250.6 1611.9 2247 1609.3 2245.6M1614 2251.8L1609.3 2245.6L1617.1 2246.2M1670.6 2257C1668.2 2256.5 1660.6 2254.6 1656.3 2254.1C1652 2253.7 1646.8 2254.1 1644.9 2254.1M1652 2257.3L1644.9 2254.1L1652 2251M1719 2261.3C1714.7 2260.3 1700.9 2256.8 1693.4 2255.6C1685.8 2254.4 1678.9 2254.1 1673.4 2254.1C1667.9 2254.1 1662.7 2255.3 1660.6 2255.6M1668 2257.9L1660.6 2255.6L1667.3 2251.6M1751.8 2279.8C1749.1 2276.9 1743.4 2267.4 1736.1 2262.7C1728.7 2257.9 1718 2253.7 1707.6 2251.3C1697.1 2248.9 1679.1 2248.9 1673.4 2248.4M1680.2 2252.2L1673.4 2248.4L1680.8 2245.9M1412.7 2291.2L1397.1 2309.7M1404.1 2306.3L1397.1 2309.7L1399.2 2302.2M1442.6 2301.2L1429.8 2296.9M1434 2300.7L1429.8 2296.9L1435.5 2296.3M1474 2288.3L1462.6 2309.7M1468.7 2304.9L1462.6 2309.7L1463.1 2301.9M1523.8 2278.4C1520.3 2280.5 1508.4 2285.7 1502.5 2291.2C1496.5 2296.6 1491.8 2305 1488.2 2311.1C1484.7 2317.3 1482.3 2325.4 1481.1 2328.2M1486.8 2322.9L1481.1 2328.2L1480.9 2320.4M1548.1 2289.8C1545.2 2290.9 1536.7 2293.3 1531 2296.9C1525.3 2300.4 1516.7 2308.8 1513.9 2311.1M1521.4 2309L1513.9 2311.1L1517.3 2304.1M1576.5 2304C1574.2 2303.3 1567.3 2300.2 1562.3 2299.7C1557.3 2299.3 1549.2 2300.9 1546.6 2301.2M1554 2303.7L1546.6 2301.2L1553.4 2297.3M1595.1 2309.7L1593.6 2289.8M1591 2297.1L1593.6 2289.8L1597.3 2296.6M1629.2 2309.7L1623.5 2289.8M1622.5 2297.5L1623.5 2289.8L1628.6 2295.7M1667.7 2295.5L1647.8 2302.6M1655.5 2303.2L1647.8 2302.6L1653.4 2297.2M1741.8 2308.3C1738.5 2307.1 1729.9 2302.6 1721.8 2301.2C1713.8 2299.7 1702.8 2299.5 1693.4 2299.7C1683.9 2300 1669.6 2302.1 1664.9 2302.6M1672.3 2305L1664.9 2302.6L1671.6 2298.7M1381.4 2331.1L1374.3 2343.9M1379.2 2340.2L1374.3 2343.9L1374.8 2337.8M1411.3 2335.3L1402.8 2343.9M1407.5 2342.1L1402.8 2343.9L1404.6 2339.1M1435.5 2339.6L1428.4 2343.9M1431.9 2343.5L1428.4 2343.9L1430.4 2341M1523.8 2321.1C1521.2 2322.8 1512.2 2327.3 1508.2 2331.1C1504.1 2334.9 1501 2341.8 1499.6 2343.9M1506.2 2339.7L1499.6 2343.9L1500.9 2336.2M1546.6 2333.9L1533.8 2339.6M1539.7 2339.6L1533.8 2339.6L1537.8 2335.2M1593.6 2343.9L1593.6 2331.1M1591.4 2336L1593.6 2331.1L1595.8 2336M1625 2343.9L1623.5 2332.5M1622.1 2337.1L1623.5 2332.5L1626 2336.6" fill="none" stroke="#161616" stroke-width="1.45" stroke-linecap="round" stroke-linejoin="round"/>
</g>
<g><line x1="425.5" y1="42.3" x2="425.5" y2="789" stroke="#000" stroke-width="2.2" stroke-dasharray="54 23.1" stroke-opacity="0.78"/><line x1="615" y1="42.3" x2="615" y2="789" stroke="#000" stroke-width="2.2" stroke-dasharray="54 23.1" stroke-opacity="0.78"/><line x1="804.5" y1="42.3" x2="804.5" y2="789" stroke="#000" stroke-width="2.2" stroke-dasharray="54 23.1" stroke-opacity="0.78"/><line x1="994" y1="42.3" x2="994" y2="789" stroke="#000" stroke-width="2.2" stroke-dasharray="54 23.1" stroke-opacity="0.78"/><line x1="1183.5" y1="42.3" x2="1183.5" y2="789" stroke="#000" stroke-width="2.2" stroke-dasharray="54 23.1" stroke-opacity="0.78"/><line x1="1373" y1="42.3" x2="1373" y2="789" stroke="#000" stroke-width="2.2" stroke-dasharray="54 23.1" stroke-opacity="0.78"/><line x1="1562.5" y1="42.3" x2="1562.5" y2="789" stroke="#000" stroke-width="2.2" stroke-dasharray="54 23.1" stroke-opacity="0.78"/><path d="M330.8 31.5v16.5M330.8 789v-16.5" stroke="#000" stroke-width="2.5" fill="none"/><path d="M425.5 31.5v16.5M425.5 789v-16.5" stroke="#000" stroke-width="2.5" fill="none"/><path d="M520.2 31.5v16.5M520.2 789v-16.5" stroke="#000" stroke-width="2.5" fill="none"/><path d="M615 31.5v16.5M615 789v-16.5" stroke="#000" stroke-width="2.5" fill="none"/><path d="M709.8 31.5v16.5M709.8 789v-16.5" stroke="#000" stroke-width="2.5" fill="none"/><path d="M804.5 31.5v16.5M804.5 789v-16.5" stroke="#000" stroke-width="2.5" fill="none"/><path d="M899.2 31.5v16.5M899.2 789v-16.5" stroke="#000" stroke-width="2.5" fill="none"/><path d="M994 31.5v16.5M994 789v-16.5" stroke="#000" stroke-width="2.5" fill="none"/><path d="M1088.8 31.5v16.5M1088.8 789v-16.5" stroke="#000" stroke-width="2.5" fill="none"/><path d="M1183.5 31.5v16.5M1183.5 789v-16.5" stroke="#000" stroke-width="2.5" fill="none"/><path d="M1278.2 31.5v16.5M1278.2 789v-16.5" stroke="#000" stroke-width="2.5" fill="none"/><path d="M1373 31.5v16.5M1373 789v-16.5" stroke="#000" stroke-width="2.5" fill="none"/><path d="M1467.8 31.5v16.5M1467.8 789v-16.5" stroke="#000" stroke-width="2.5" fill="none"/><path d="M1562.5 31.5v16.5M1562.5 789v-16.5" stroke="#000" stroke-width="2.5" fill="none"/><path d="M1657.2 31.5v16.5M1657.2 789v-16.5" stroke="#000" stroke-width="2.5" fill="none"/><path d="M236 167.6h16.5" stroke="#000" stroke-width="2.5" fill="none"/><path d="M236 291.8h16.5" stroke="#000" stroke-width="2.5" fill="none"/><path d="M236 406h16.5" stroke="#000" stroke-width="2.5" fill="none"/><path d="M236 511.8h16.5" stroke="#000" stroke-width="2.5" fill="none"/><path d="M236 610.3h16.5" stroke="#000" stroke-width="2.5" fill="none"/><path d="M236 702.5h16.5" stroke="#000" stroke-width="2.5" fill="none"/><path d="M1752 142.2h-16.5" stroke="#000" stroke-width="2.5" fill="none"/><path d="M1752 330.1h-16.5" stroke="#000" stroke-width="2.5" fill="none"/><path d="M1752 513.9h-16.5" stroke="#000" stroke-width="2.5" fill="none"/><path d="M1752 692.5h-16.5" stroke="#000" stroke-width="2.5" fill="none"/></g>
<g><line x1="425.5" y1="818.8" x2="425.5" y2="1565.5" stroke="#000" stroke-width="2.2" stroke-dasharray="54 23.1" stroke-opacity="0.78"/><line x1="615" y1="818.8" x2="615" y2="1565.5" stroke="#000" stroke-width="2.2" stroke-dasharray="54 23.1" stroke-opacity="0.78"/><line x1="804.5" y1="818.8" x2="804.5" y2="1565.5" stroke="#000" stroke-width="2.2" stroke-dasharray="54 23.1" stroke-opacity="0.78"/><line x1="994" y1="818.8" x2="994" y2="1565.5" stroke="#000" stroke-width="2.2" stroke-dasharray="54 23.1" stroke-opacity="0.78"/><line x1="1183.5" y1="818.8" x2="1183.5" y2="1565.5" stroke="#000" stroke-width="2.2" stroke-dasharray="54 23.1" stroke-opacity="0.78"/><line x1="1373" y1="818.8" x2="1373" y2="1565.5" stroke="#000" stroke-width="2.2" stroke-dasharray="54 23.1" stroke-opacity="0.78"/><line x1="1562.5" y1="818.8" x2="1562.5" y2="1565.5" stroke="#000" stroke-width="2.2" stroke-dasharray="54 23.1" stroke-opacity="0.78"/><path d="M330.8 808v16.5M330.8 1565.5v-16.5" stroke="#000" stroke-width="2.5" fill="none"/><path d="M425.5 808v16.5M425.5 1565.5v-16.5" stroke="#000" stroke-width="2.5" fill="none"/><path d="M520.2 808v16.5M520.2 1565.5v-16.5" stroke="#000" stroke-width="2.5" fill="none"/><path d="M615 808v16.5M615 1565.5v-16.5" stroke="#000" stroke-width="2.5" fill="none"/><path d="M709.8 808v16.5M709.8 1565.5v-16.5" stroke="#000" stroke-width="2.5" fill="none"/><path d="M804.5 808v16.5M804.5 1565.5v-16.5" stroke="#000" stroke-width="2.5" fill="none"/><path d="M899.2 808v16.5M899.2 1565.5v-16.5" stroke="#000" stroke-width="2.5" fill="none"/><path d="M994 808v16.5M994 1565.5v-16.5" stroke="#000" stroke-width="2.5" fill="none"/><path d="M1088.8 808v16.5M1088.8 1565.5v-16.5" stroke="#000" stroke-width="2.5" fill="none"/><path d="M1183.5 808v16.5M1183.5 1565.5v-16.5" stroke="#000" stroke-width="2.5" fill="none"/><path d="M1278.2 808v16.5M1278.2 1565.5v-16.5" stroke="#000" stroke-width="2.5" fill="none"/><path d="M1373 808v16.5M1373 1565.5v-16.5" stroke="#000" stroke-width="2.5" fill="none"/><path d="M1467.8 808v16.5M1467.8 1565.5v-16.5" stroke="#000" stroke-width="2.5" fill="none"/><path d="M1562.5 808v16.5M1562.5 1565.5v-16.5" stroke="#000" stroke-width="2.5" fill="none"/><path d="M1657.2 808v16.5M1657.2 1565.5v-16.5" stroke="#000" stroke-width="2.5" fill="none"/><path d="M236 944.1h16.5" stroke="#000" stroke-width="2.5" fill="none"/><path d="M236 1068.3h16.5" stroke="#000" stroke-width="2.5" fill="none"/><path d="M236 1182.5h16.5" stroke="#000" stroke-width="2.5" fill="none"/><path d="M236 1288.3h16.5" stroke="#000" stroke-width="2.5" fill="none"/><path d="M236 1386.8h16.5" stroke="#000" stroke-width="2.5" fill="none"/><path d="M236 1479h16.5" stroke="#000" stroke-width="2.5" fill="none"/><path d="M1752 918.7h-16.5" stroke="#000" stroke-width="2.5" fill="none"/><path d="M1752 1106.6h-16.5" stroke="#000" stroke-width="2.5" fill="none"/><path d="M1752 1290.4h-16.5" stroke="#000" stroke-width="2.5" fill="none"/><path d="M1752 1469h-16.5" stroke="#000" stroke-width="2.5" fill="none"/></g>
<g><line x1="425.5" y1="1595.3" x2="425.5" y2="2342" stroke="#000" stroke-width="2.2" stroke-dasharray="54 23.1" stroke-opacity="0.78"/><line x1="615" y1="1595.3" x2="615" y2="2342" stroke="#000" stroke-width="2.2" stroke-dasharray="54 23.1" stroke-opacity="0.78"/><line x1="804.5" y1="1595.3" x2="804.5" y2="2342" stroke="#000" stroke-width="2.2" stroke-dasharray="54 23.1" stroke-opacity="0.78"/><line x1="994" y1="1595.3" x2="994" y2="2342" stroke="#000" stroke-width="2.2" stroke-dasharray="54 23.1" stroke-opacity="0.78"/><line x1="1183.5" y1="1595.3" x2="1183.5" y2="2342" stroke="#000" stroke-width="2.2" stroke-dasharray="54 23.1" stroke-opacity="0.78"/><line x1="1373" y1="1595.3" x2="1373" y2="2342" stroke="#000" stroke-width="2.2" stroke-dasharray="54 23.1" stroke-opacity="0.78"/><line x1="1562.5" y1="1595.3" x2="1562.5" y2="2342" stroke="#000" stroke-width="2.2" stroke-dasharray="54 23.1" stroke-opacity="0.78"/><path d="M330.8 1584.5v16.5M330.8 2342v-16.5" stroke="#000" stroke-width="2.5" fill="none"/><path d="M425.5 1584.5v16.5M425.5 2342v-16.5" stroke="#000" stroke-width="2.5" fill="none"/><path d="M520.2 1584.5v16.5M520.2 2342v-16.5" stroke="#000" stroke-width="2.5" fill="none"/><path d="M615 1584.5v16.5M615 2342v-16.5" stroke="#000" stroke-width="2.5" fill="none"/><path d="M709.8 1584.5v16.5M709.8 2342v-16.5" stroke="#000" stroke-width="2.5" fill="none"/><path d="M804.5 1584.5v16.5M804.5 2342v-16.5" stroke="#000" stroke-width="2.5" fill="none"/><path d="M899.2 1584.5v16.5M899.2 2342v-16.5" stroke="#000" stroke-width="2.5" fill="none"/><path d="M994 1584.5v16.5M994 2342v-16.5" stroke="#000" stroke-width="2.5" fill="none"/><path d="M1088.8 1584.5v16.5M1088.8 2342v-16.5" stroke="#000" stroke-width="2.5" fill="none"/><path d="M1183.5 1584.5v16.5M1183.5 2342v-16.5" stroke="#000" stroke-width="2.5" fill="none"/><path d="M1278.2 1584.5v16.5M1278.2 2342v-16.5" stroke="#000" stroke-width="2.5" fill="none"/><path d="M1373 1584.5v16.5M1373 2342v-16.5" stroke="#000" stroke-width="2.5" fill="none"/><path d="M1467.8 1584.5v16.5M1467.8 2342v-16.5" stroke="#000" stroke-width="2.5" fill="none"/><path d="M1562.5 1584.5v16.5M1562.5 2342v-16.5" stroke="#000" stroke-width="2.5" fill="none"/><path d="M1657.2 1584.5v16.5M1657.2 2342v-16.5" stroke="#000" stroke-width="2.5" fill="none"/><path d="M236 1720.6h16.5" stroke="#000" stroke-width="2.5" fill="none"/><path d="M236 1844.8h16.5" stroke="#000" stroke-width="2.5" fill="none"/><path d="M236 1959h16.5" stroke="#000" stroke-width="2.5" fill="none"/><path d="M236 2064.8h16.5" stroke="#000" stroke-width="2.5" fill="none"/><path d="M236 2163.3h16.5" stroke="#000" stroke-width="2.5" fill="none"/><path d="M236 2255.5h16.5" stroke="#000" stroke-width="2.5" fill="none"/><path d="M1752 1695.2h-16.5" stroke="#000" stroke-width="2.5" fill="none"/><path d="M1752 1883.1h-16.5" stroke="#000" stroke-width="2.5" fill="none"/><path d="M1752 2066.9h-16.5" stroke="#000" stroke-width="2.5" fill="none"/><path d="M1752 2245.5h-16.5" stroke="#000" stroke-width="2.5" fill="none"/></g>
<g clip-path="url(#cp0)"><g transform="translate(718 239.8) rotate(-46.9)"><rect x="-48" y="-28" width="96" height="56" fill="#fff"/><text class="s" font-size="52" text-anchor="middle" y="17.5">260</text></g>
<g transform="translate(1239.6 157.4) rotate(11.8)"><rect x="-48" y="-28" width="96" height="56" fill="#fff"/><text class="s" font-size="52" text-anchor="middle" y="17.5">260</text></g>
<g transform="translate(1443.9 169.1) rotate(-85.4)"><rect x="-48" y="-28" width="96" height="56" fill="#fff"/><text class="s" font-size="52" text-anchor="middle" y="17.5">260</text></g>
<g transform="translate(592 425) rotate(48)"><rect x="-48" y="-28" width="96" height="56" fill="#fff"/><text class="s" font-size="52" text-anchor="middle" y="17.5">268</text></g>
<g transform="translate(1135.9 297.4) rotate(-26.4)"><rect x="-48" y="-28" width="96" height="56" fill="#fff"/><text class="s" font-size="52" text-anchor="middle" y="17.5">268</text></g>
<g transform="translate(1560.3 407) rotate(-56.1)"><rect x="-48" y="-28" width="96" height="56" fill="#fff"/><text class="s" font-size="52" text-anchor="middle" y="17.5">268</text></g>
<g transform="translate(647.4 691) rotate(58.6)"><rect x="-48" y="-28" width="96" height="56" fill="#fff"/><text class="s" font-size="52" text-anchor="middle" y="17.5">276</text></g>
<g transform="translate(1025.3 522.4) rotate(54.6)"><rect x="-48" y="-28" width="96" height="56" fill="#fff"/><text class="s" font-size="52" text-anchor="middle" y="17.5">276</text></g>
<g transform="translate(1231.6 577.1) rotate(83.8)"><rect x="-48" y="-28" width="96" height="56" fill="#fff"/><text class="s" font-size="52" text-anchor="middle" y="17.5">276</text></g>
<g transform="translate(1499.1 598.5) rotate(-34.3)"><rect x="-48" y="-28" width="96" height="56" fill="#fff"/><text class="s" font-size="52" text-anchor="middle" y="17.5">276</text></g></g>
<g clip-path="url(#cp1)"><g transform="translate(557 886.5) rotate(-88.1)"><rect x="-34.5" y="-28" width="69" height="56" fill="#fff"/><text class="s" font-size="52" text-anchor="middle" y="17.5">70</text></g>
<g transform="translate(496.1 1068.1) rotate(85.3)"><rect x="-34.5" y="-28" width="69" height="56" fill="#fff"/><text class="s" font-size="52" text-anchor="middle" y="17.5">70</text></g>
<g transform="translate(301.8 1153) rotate(86.2)"><rect x="-34.5" y="-28" width="69" height="56" fill="#fff"/><text class="s" font-size="52" text-anchor="middle" y="17.5">70</text></g>
<g transform="translate(926.2 1037.3) rotate(-86.2)"><rect x="-34.5" y="-28" width="69" height="56" fill="#fff"/><text class="s" font-size="52" text-anchor="middle" y="17.5">50</text></g>
<g transform="translate(749 1478.3) rotate(-88.1)"><rect x="-34.5" y="-28" width="69" height="56" fill="#fff"/><text class="s" font-size="52" text-anchor="middle" y="17.5">50</text></g>
<g transform="translate(1317.6 1238.4) rotate(-65)"><rect x="-34.5" y="-28" width="69" height="56" fill="#fff"/><text class="s" font-size="52" text-anchor="middle" y="17.5">50</text></g>
<g transform="translate(1066 1187.7) rotate(58.2)"><rect x="-34.5" y="-28" width="69" height="56" fill="#fff"/><text class="s" font-size="52" text-anchor="middle" y="17.5">30</text></g>
<g transform="translate(1515.3 1246.4) rotate(-67.3)"><rect x="-34.5" y="-28" width="69" height="56" fill="#fff"/><text class="s" font-size="52" text-anchor="middle" y="17.5">30</text></g>
<g transform="translate(1642.9 1287.4) rotate(-3.9)"><rect x="-34.5" y="-28" width="69" height="56" fill="#fff"/><text class="s" font-size="52" text-anchor="middle" y="17.5">30</text></g></g>
<rect x="255.5" y="51" width="154.5" height="139" fill="#fff"/>
<text class="s" x="333.2" y="142" font-size="87" text-anchor="middle">(a)</text>
<rect x="255.5" y="827.5" width="159" height="137.5" fill="#fff"/>
<text class="s" x="335.5" y="918.5" font-size="87" text-anchor="middle">(b)</text>
<rect x="255.5" y="1604" width="154" height="138" fill="#fff"/>
<text class="s" x="333" y="1695" font-size="87" text-anchor="middle">(c)</text>
<rect x="1616.2" y="1584.5" width="135.3" height="179.2" fill="#fff" stroke="#222" stroke-width="1.2"/>
<text class="s" x="1684" y="1649.5" font-size="73" text-anchor="middle">4</text>
<text class="s" x="1684" y="1740" font-size="73" text-anchor="middle">m/s</text>
<path d="M1643.5 1669H1722M1706 1661.5L1723 1669L1706 1676.5" stroke="#222" stroke-width="1.6" fill="none"/>
<rect x="236" y="31.5" width="1516" height="757.5" fill="none" stroke="#000" stroke-width="2.9"/>
<rect x="236" y="808" width="1516" height="757.5" fill="none" stroke="#000" stroke-width="2.9"/>
<rect x="236" y="1584.5" width="1516" height="757.5" fill="none" stroke="#000" stroke-width="2.9"/>
<text class="tk" x="204" y="50" text-anchor="end">500</text>
<text class="tk" x="204" y="186.1" text-anchor="end">550</text>
<text class="tk" x="204" y="310.3" text-anchor="end">600</text>
<text class="tk" x="204" y="424.5" text-anchor="end">650</text>
<text class="tk" x="204" y="530.3" text-anchor="end">700</text>
<text class="tk" x="204" y="628.8" text-anchor="end">750</text>
<text class="tk" x="204" y="721" text-anchor="end">800</text>
<text class="tk" x="1786" y="160.7">5</text>
<text class="tk" x="1786" y="348.6">4</text>
<text class="tk" x="1786" y="532.4">3</text>
<text class="tk" x="1786" y="711">2</text>
<text class="s" font-size="68.7" transform="translate(70 410.2) rotate(-90)" text-anchor="middle">Pressure (hpa)</text>
<text class="n" font-size="64.1" transform="translate(1904 411.2) rotate(-90)" text-anchor="middle">Height (km)</text>
<text class="tk" x="204" y="826.5" text-anchor="end">500</text>
<text class="tk" x="204" y="962.6" text-anchor="end">550</text>
<text class="tk" x="204" y="1086.8" text-anchor="end">600</text>
<text class="tk" x="204" y="1201" text-anchor="end">650</text>
<text class="tk" x="204" y="1306.8" text-anchor="end">700</text>
<text class="tk" x="204" y="1405.3" text-anchor="end">750</text>
<text class="tk" x="204" y="1497.5" text-anchor="end">800</text>
<text class="tk" x="1786" y="937.2">5</text>
<text class="tk" x="1786" y="1125.1">4</text>
<text class="tk" x="1786" y="1308.9">3</text>
<text class="tk" x="1786" y="1487.5">2</text>
<text class="s" font-size="68.7" transform="translate(70 1186.8) rotate(-90)" text-anchor="middle">Pressure (hpa)</text>
<text class="n" font-size="64.1" transform="translate(1904 1187.8) rotate(-90)" text-anchor="middle">Height (km)</text>
<text class="tk" x="204" y="1603" text-anchor="end">500</text>
<text class="tk" x="204" y="1739.1" text-anchor="end">550</text>
<text class="tk" x="204" y="1863.3" text-anchor="end">600</text>
<text class="tk" x="204" y="1977.5" text-anchor="end">650</text>
<text class="tk" x="204" y="2083.3" text-anchor="end">700</text>
<text class="tk" x="204" y="2181.8" text-anchor="end">750</text>
<text class="tk" x="204" y="2274" text-anchor="end">800</text>
<text class="tk" x="1786" y="1713.7">5</text>
<text class="tk" x="1786" y="1901.6">4</text>
<text class="tk" x="1786" y="2085.4">3</text>
<text class="tk" x="1786" y="2264">2</text>
<text class="s" font-size="68.7" transform="translate(70 1963.2) rotate(-90)" text-anchor="middle">Pressure (hpa)</text>
<text class="n" font-size="64.1" transform="translate(1904 1964.2) rotate(-90)" text-anchor="middle">Height (km)</text>
<text class="s" font-size="53.4" transform="translate(205.5 2404) rotate(19.7)">05/04/2020</text>
<text class="s" font-size="53.4" transform="translate(395 2404) rotate(19.7)">06/04/2020</text>
<text class="s" font-size="53.4" transform="translate(584.5 2404) rotate(19.7)">07/04/2020</text>
<text class="s" font-size="53.4" transform="translate(774 2404) rotate(19.7)">08/04/2020</text>
<text class="s" font-size="53.4" transform="translate(963.5 2404) rotate(19.7)">09/04/2020</text>
<text class="s" font-size="53.4" transform="translate(1153 2404) rotate(19.7)">10/04/2020</text>
<text class="s" font-size="53.4" transform="translate(1342.5 2404) rotate(19.7)">11/04/2020</text>
<text class="s" font-size="53.4" transform="translate(1532 2404) rotate(19.7)">12/04/2020</text>
<text class="lb" x="995" y="2579.5" text-anchor="middle">Hour (Beijing time)</text>
<rect x="1940.8" y="719.4" width="45" height="56.5" fill="#000090"/>
<rect x="1940.8" y="663.3" width="45" height="56.5" fill="#0000e4"/>
<rect x="1940.8" y="607.2" width="45" height="56.5" fill="#003cff"/>
<rect x="1940.8" y="551.1" width="45" height="56.5" fill="#0092ff"/>
<rect x="1940.8" y="495" width="45" height="56.5" fill="#00e4ff"/>
<rect x="1940.8" y="438.9" width="45" height="56.5" fill="#38ffc6"/>
<rect x="1940.8" y="382.8" width="45" height="56.5" fill="#90ff6c"/>
<rect x="1940.8" y="326.7" width="45" height="56.5" fill="#e4ff1c"/>
<rect x="1940.8" y="270.6" width="45" height="56.5" fill="#ffd000"/>
<rect x="1940.8" y="214.5" width="45" height="56.5" fill="#ff8000"/>
<rect x="1940.8" y="158.4" width="45" height="56.5" fill="#ff2000"/>
<rect x="1940.8" y="102.3" width="45" height="56.5" fill="#cc0000"/>
<rect x="1940.8" y="46.2" width="45" height="56.5" fill="#800000"/>
<text class="s" font-size="56" x="1997" y="738.9">256</text>
<text class="s" font-size="56" x="1997" y="626.7">264</text>
<text class="s" font-size="56" x="1997" y="514.5">272</text>
<text class="s" font-size="56" x="1997" y="402.3">280</text>
<text class="s" font-size="56" x="1997" y="290.1">288</text>
<text class="s" font-size="56" x="1997" y="177.9">296</text>
<rect x="1940.8" y="1485" width="45" height="66.7" fill="#ff0029"/>
<rect x="1940.8" y="1418.7" width="45" height="66.7" fill="#ff5e00"/>
<rect x="1940.8" y="1352.4" width="45" height="66.7" fill="#ffea00"/>
<rect x="1940.8" y="1286.1" width="45" height="66.7" fill="#8dff00"/>
<rect x="1940.8" y="1219.8" width="45" height="66.7" fill="#00ff00"/>
<rect x="1940.8" y="1153.4" width="45" height="66.7" fill="#00ff8c"/>
<rect x="1940.8" y="1087.1" width="45" height="66.7" fill="#00ecff"/>
<rect x="1940.8" y="1020.8" width="45" height="66.7" fill="#005eff"/>
<rect x="1940.8" y="954.5" width="45" height="66.7" fill="#2a00ff"/>
<rect x="1940.8" y="888.2" width="45" height="66.7" fill="#b700ff"/>
<rect x="1940.8" y="821.9" width="45" height="66.7" fill="#ff00bf"/>
<text class="s" font-size="56" x="1997" y="1504.5">10</text>
<text class="s" font-size="56" x="1997" y="1371.9">30</text>
<text class="s" font-size="56" x="1997" y="1239.3">50</text>
<text class="s" font-size="56" x="1997" y="1106.6">70</text>
<text class="s" font-size="56" x="1997" y="974">90</text>
<rect x="1940.8" y="2267.6" width="45" height="61.2" fill="#0000ff"/>
<rect x="1940.8" y="2206.8" width="45" height="61.2" fill="#3333ff"/>
<rect x="1940.8" y="2145.9" width="45" height="61.2" fill="#6666ff"/>
<rect x="1940.8" y="2085.1" width="45" height="61.2" fill="#b3b3ff"/>
<rect x="1940.8" y="2024.3" width="45" height="61.2" fill="#ccccff"/>
<rect x="1940.8" y="1963.5" width="45" height="61.2" fill="#e5e5ff"/>
<rect x="1940.8" y="1902.6" width="45" height="61.2" fill="#e5ffe5"/>
<rect x="1940.8" y="1841.8" width="45" height="61.2" fill="#ccffcc"/>
<rect x="1940.8" y="1781" width="45" height="61.2" fill="#b3ffb3"/>
<rect x="1940.8" y="1720.2" width="45" height="61.2" fill="#66ff66"/>
<rect x="1940.8" y="1659.3" width="45" height="61.2" fill="#33ff33"/>
<rect x="1940.8" y="1598.5" width="45" height="61.2" fill="#00f000"/>
<text class="s" font-size="56" x="2051" y="2287.1" text-anchor="middle"><tspan font-size="70" dy="2.5">−</tspan><tspan dx="1.5" dy="-2.5">1.2</tspan></text>
<text class="s" font-size="56" x="2051" y="2165.4" text-anchor="middle"><tspan font-size="70" dy="2.5">−</tspan><tspan dx="1.5" dy="-2.5">0.8</tspan></text>
<text class="s" font-size="56" x="2051" y="2043.8" text-anchor="middle"><tspan font-size="70" dy="2.5">−</tspan><tspan dx="1.5" dy="-2.5">0.4</tspan></text>
<text class="s" font-size="56" x="2051" y="1922.1" text-anchor="middle">0</text>
<text class="s" font-size="56" x="2051" y="1800.5" text-anchor="middle">0.4</text>
<text class="s" font-size="56" x="2051" y="1678.8" text-anchor="middle">0.8</text>
<text class="s" font-size="57" transform="translate(2123.5 411) rotate(-90)" text-anchor="middle">T (K)</text>
<text class="s" font-size="57" transform="translate(2094.5 1186) rotate(-90)" text-anchor="middle">RH (%)</text>
<text class="s" font-size="57" transform="translate(2148 1963) rotate(-90)" text-anchor="middle">Ws (Pa/s)</text>
</svg></body></html>
